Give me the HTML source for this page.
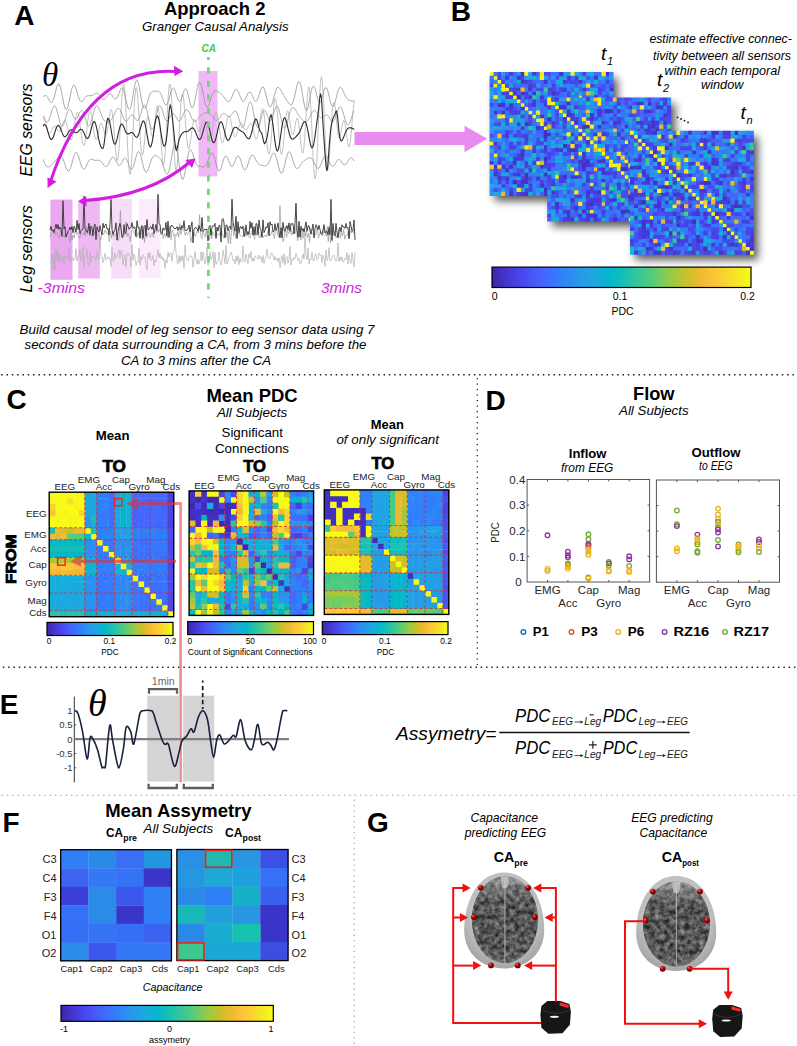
<!DOCTYPE html>
<html><head><meta charset="utf-8"><title>Figure</title>
<style>html,body{margin:0;padding:0;background:#fff;} svg{display:block;} text{font-family:"Liberation Sans", sans-serif;}</style>
</head><body>
<svg width="797" height="1046" viewBox="0 0 797 1046" font-family='"Liberation Sans", sans-serif'><rect width="797" height="1046" fill="#fff"/><text x="14.2" y="24.5" font-size="28" font-weight="bold" fill="#000">A</text><text x="164" y="14.5" font-size="18.5" font-weight="bold" fill="#000" textLength="101.5" lengthAdjust="spacingAndGlyphs">Approach 2</text><text x="142" y="30.8" font-size="13.3" font-style="italic" fill="#000" textLength="146.6" lengthAdjust="spacingAndGlyphs">Granger Causal Analysis</text><text x="201.5" y="51.5" font-size="10" font-weight="bold" font-style="italic" fill="#3ccf3c" textLength="14.5" lengthAdjust="spacingAndGlyphs">CA</text><rect x="198.5" y="71" width="19" height="105.5" fill="#f0b8f6"/><rect x="50.4" y="199.6" width="22.1" height="80.2" fill="#e9a8f0"/><rect x="78.2" y="201" width="21.6" height="77.5" fill="#eeb9f3"/><rect x="111.3" y="199" width="20.7" height="79.5" fill="#f8ddf9"/><rect x="138.8" y="199" width="21.7" height="79" fill="#fcebfc"/><polyline points="43.0,116.2 43.8,115.9 44.6,117.5 45.4,120.5 46.2,124.2 47.0,127.9 47.8,131.0 48.6,133.0 49.4,133.7 50.2,133.2 51.0,131.8 51.8,129.9 52.6,128.1 53.4,126.7 54.2,126.1 55.0,126.2 55.8,127.1 56.6,128.5 57.4,130.0 58.2,131.1 59.0,131.6 59.8,131.2 60.6,129.9 61.4,127.8 62.2,125.4 63.0,123.0 63.8,121.1 64.6,120.3 65.4,120.7 66.2,122.4 67.0,125.4 67.8,129.1 68.6,133.1 69.4,136.6 70.2,139.1 71.0,140.0 71.8,139.1 72.6,136.3 73.4,131.9 74.2,126.7 75.0,121.3 75.8,116.6 76.6,113.4 77.4,112.4 78.2,113.6 79.0,117.2 79.8,122.5 80.6,128.9 81.4,135.4 82.2,140.8 83.0,144.5 83.8,145.7 84.6,144.1 85.4,140.2 86.2,134.4 87.0,127.6 87.8,121.0 88.6,115.6 89.4,112.3 90.2,111.5 91.0,113.2 91.8,117.2 92.6,122.6 93.4,128.5 94.2,133.7 95.0,137.6 95.8,139.4 96.6,139.1 97.4,136.8 98.2,133.2 99.0,129.3 99.8,125.8 100.6,123.6 101.4,123.0 102.2,124.3 103.0,126.9 103.8,130.1 104.6,133.0 105.4,134.7 106.2,134.5 107.0,132.1 107.8,127.7 108.6,122.1 109.4,116.3 110.2,111.7 111.0,109.3 111.8,110.2 112.6,114.7 113.4,122.4 114.2,132.4 115.0,143.0 115.8,152.4 116.6,158.8 117.4,160.8 118.2,157.6 119.0,149.2 119.8,136.6 120.6,121.8 121.4,106.8 122.2,94.3 123.0,86.4 123.8,84.6 124.6,89.5 125.4,100.4 126.2,116.0 127.0,133.7 127.8,150.9 128.6,164.7 129.4,173.1 130.2,174.6 131.0,169.1 131.8,157.4 132.6,141.6 133.4,124.1 134.2,107.8 135.0,95.2 135.8,88.1 136.6,87.4 137.4,93.0 138.2,103.4 139.0,116.8 139.8,130.8 140.6,142.9 141.4,151.4 142.2,155.1 143.0,154.0 143.8,148.6 144.6,140.6 145.4,131.8 146.2,123.9 147.0,118.6 147.8,116.5 148.6,117.8 149.4,121.8 150.2,127.2 151.0,132.3 151.8,135.8 152.6,136.4 153.4,133.9 154.2,128.6 155.0,121.5 155.8,114.2 156.6,108.4 157.4,105.7 158.2,107.2 159.0,113.1 159.8,122.7 160.6,134.7 161.4,146.9 162.2,157.2 163.0,163.6 163.8,164.6 164.6,159.6 165.4,149.2 166.2,134.8 167.0,118.6 167.8,103.2 168.6,91.1 169.4,84.4 170.2,84.3 171.0,90.9 171.8,103.2 172.6,119.2 173.4,136.5 174.2,152.3 175.0,164.2 175.8,170.4 176.6,170.1 177.4,163.5 178.2,151.9 179.0,137.3 179.8,122.1 180.6,108.6 181.4,99.0 182.2,94.3 183.0,95.0 183.8,100.6 184.6,109.7 185.4,120.7 186.2,131.6 187.0,140.7 187.8,146.7 188.6,149.0 189.4,147.7 190.2,143.4 191.0,137.3 191.8,130.8 192.6,125.1 193.4,121.1 194.2,119.3 195.0,119.8 195.8,122.0 196.6,125.2 197.4,128.4 198.2,130.8 199.0,131.8 199.8,131.2 200.6,129.1 201.4,126.1 202.2,123.0 203.0,120.5 203.8,119.4 204.6,120.0 205.4,122.5 206.2,126.4 207.0,131.1 207.8,135.8 208.6,139.6 209.4,141.7 210.2,141.7 211.0,139.4 211.8,135.1 212.6,129.6 213.4,123.6 214.2,118.1 215.0,114.1 215.8,112.2 216.6,112.7 217.4,115.5 218.2,120.2 219.0,126.0 219.8,132.0 220.6,137.3 221.4,141.2 222.2,142.9 223.0,142.4 223.8,139.8 224.6,135.5 225.4,130.3 226.2,125.0 227.0,120.4 227.8,117.2 228.6,115.7 229.4,116.1 230.2,118.3 231.0,121.7 231.8,125.9 232.6,130.0 233.4,133.5 234.2,135.9 235.0,136.9 235.8,136.4 236.6,134.6 237.4,132.1 238.2,129.2 239.0,126.4 239.8,124.4 240.6,123.3 241.4,123.2 242.2,124.1 243.0,125.6 243.8,127.4 244.6,128.9 245.4,129.9 246.2,130.0 247.0,129.3 247.8,127.9 248.6,126.1 249.4,124.5 250.2,123.5 251.0,123.5 251.8,124.7 252.6,127.1 253.4,130.3 254.2,133.8 255.0,136.9 255.8,139.0 256.6,139.3 257.4,137.6 258.2,134.0 259.0,128.7 259.8,122.5 260.6,116.4 261.4,111.5 262.2,108.8 263.0,109.0 263.8,112.3 264.6,118.4 265.4,126.6 266.2,135.7 267.0,144.2 267.8,150.8 268.6,154.1 269.4,153.6 270.2,149.1 271.0,141.1 271.8,130.8 272.6,119.8 273.4,109.8 274.2,102.3 275.0,98.7 275.8,99.6 276.6,104.7 277.4,113.4 278.2,124.2 279.0,135.3 279.8,144.9 280.6,151.7 281.4,154.5 282.2,153.0 283.0,147.8 283.8,139.9 284.6,130.8 285.4,122.1 286.2,115.3 287.0,111.4 287.8,110.9 288.6,113.4 289.4,118.3 290.2,124.1 291.0,129.6 291.8,133.5 292.6,135.1 293.4,134.0 294.2,130.8 295.0,126.3 295.8,121.8 296.6,118.8 297.4,118.2 298.2,120.6 299.0,125.8 299.8,133.2 300.6,141.3 301.4,148.3 302.2,152.6 303.0,152.9 303.8,148.6 304.6,139.7 305.4,127.6 306.2,113.9 307.0,101.1 307.8,91.5 308.6,86.9 309.4,88.8 310.2,97.0 311.0,110.9 311.8,128.2 312.6,146.5 313.4,162.7 314.2,174.2 315.0,178.9 315.8,175.8 316.6,165.5 317.4,149.2 318.2,129.6 319.0,109.8 319.8,92.7 320.6,81.2 321.4,76.9 322.2,80.3 323.0,90.8 323.8,106.5 324.6,124.8 325.4,142.7 326.2,157.4 327.0,166.8 327.8,169.7 328.6,166.2 329.4,157.1 330.2,144.5 331.0,130.6 331.8,117.8 332.6,108.2 333.4,103.0 334.2,102.6 335.0,106.5 335.8,113.4 336.6,121.6 337.4,129.3 338.2,135.1 339.0,137.9 339.8,137.6 340.6,134.6 341.4,130.1 342.2,125.3 343.0,121.7 343.8,120.3 344.6,121.7 345.4,125.6 346.2,131.5 347.0,137.9 347.8,143.3 348.6,146.6 349.4,146.5 350.2,142.8 351.0,135.8 351.8,126.5 352.6,116.4 353.4,107.4 354.2,101.1" fill="none" stroke="#a8a8a8" stroke-width="0.7"/><polyline points="43.0,96.8 43.8,96.2 44.6,95.7 45.4,95.5 46.2,95.8 47.0,96.5 47.8,97.7 48.6,99.2 49.4,100.7 50.2,101.9 51.0,102.6 51.8,102.5 52.6,101.5 53.4,99.7 54.2,97.1 55.0,93.9 55.8,90.7 56.6,87.6 57.4,85.3 58.2,84.0 59.0,83.9 59.8,85.1 60.6,87.7 61.4,91.2 62.2,95.3 63.0,99.7 63.8,103.7 64.6,106.9 65.4,109.0 66.2,109.7 67.0,109.0 67.8,106.9 68.6,103.8 69.4,100.0 70.2,95.9 71.0,92.0 71.8,88.8 72.6,86.5 73.4,85.3 74.2,85.3 75.0,86.4 75.8,88.3 76.6,90.8 77.4,93.6 78.2,96.3 79.0,98.6 79.8,100.3 80.6,101.3 81.4,101.6 82.2,101.3 83.0,100.6 83.8,99.5 84.6,98.4 85.4,97.4 86.2,96.5 87.0,96.0 87.8,95.7 88.6,95.6 89.4,95.6 90.2,95.7 91.0,95.7 91.8,95.5 92.6,95.2 93.4,94.8 94.2,94.2 95.0,93.7 95.8,93.3 96.6,93.1 97.4,93.2 98.2,93.7 99.0,94.5 99.8,95.5 100.6,96.6 101.4,97.7 102.2,98.6 103.0,99.2 103.8,99.3 104.6,99.1 105.4,98.5 106.2,97.6 107.0,96.5 107.8,95.5 108.6,94.6 109.4,94.2 110.2,94.1 111.0,94.5 111.8,95.3 112.6,96.4 113.4,97.5 114.2,98.4 115.0,98.9 115.8,99.0 116.6,98.3 117.4,97.0 118.2,95.3 119.0,93.2 119.8,91.1 120.6,89.3 121.4,88.2 122.2,87.9 123.0,88.8 123.8,90.6 124.6,93.4 125.4,96.9 126.2,100.7 127.0,104.2 127.8,107.2 128.6,109.0 129.4,109.6 130.2,108.6 131.0,106.2 131.8,102.5 132.6,98.0 133.4,93.1 134.2,88.4 135.0,84.4 135.8,81.7 136.6,80.4 137.4,80.7 138.2,82.6 139.0,85.8 139.8,89.9 140.6,94.5 141.4,99.0 142.2,103.0 143.0,106.0 143.8,107.8 144.6,108.3 145.4,107.7 146.2,106.1 147.0,103.7 147.8,101.1 148.6,98.4 149.4,96.0 150.2,94.0 151.0,92.6 151.8,91.7 152.6,91.3 153.4,91.2 154.2,91.2 155.0,91.2 155.8,91.2 156.6,91.1 157.4,91.0 158.2,91.1 159.0,91.5 159.8,92.3 160.6,93.5 161.4,95.2 162.2,97.3 163.0,99.5 163.8,101.7 164.6,103.5 165.4,104.7 166.2,105.1 167.0,104.5 167.8,102.9 168.6,100.6 169.4,97.8 170.2,94.7 171.0,91.9 171.8,89.7 172.6,88.3 173.4,88.0 174.2,88.7 175.0,90.4 175.8,92.7 176.6,95.4 177.4,97.9 178.2,100.0 179.0,101.2 179.8,101.3 180.6,100.5 181.4,98.7 182.2,96.4 183.0,93.8 183.8,91.4 184.6,89.6 185.4,88.8 186.2,89.2 187.0,90.8 187.8,93.4 188.6,96.7 189.4,100.2 190.2,103.5 191.0,106.1 191.8,107.6 192.6,107.7 193.4,106.4 194.2,103.7 195.0,100.0 195.8,95.7 196.6,91.3 197.4,87.4 198.2,84.4 199.0,82.6 199.8,82.3 200.6,83.4 201.4,85.9 202.2,89.3 203.0,93.3 203.8,97.4 204.6,101.1 205.4,104.2 206.2,106.2 207.0,107.0 207.8,106.8 208.6,105.6 209.4,103.6 210.2,101.1 211.0,98.5 211.8,96.0 212.6,93.9 213.4,92.2 214.2,91.2 215.0,90.6 215.8,90.5 216.6,90.8 217.4,91.3 218.2,91.8 219.0,92.5 219.8,93.1 220.6,93.7 221.4,94.3 222.2,95.1 223.0,95.9 223.8,96.9 224.6,98.0 225.4,99.1 226.2,100.2 227.0,101.1 227.8,101.6 228.6,101.8 229.4,101.4 230.2,100.4 231.0,99.0 231.8,97.2 232.6,95.2 233.4,93.1 234.2,91.4 235.0,90.1 235.8,89.4 236.6,89.4 237.4,90.1 238.2,91.5 239.0,93.4 239.8,95.5 240.6,97.6 241.4,99.4 242.2,100.7 243.0,101.3 243.8,101.2 244.6,100.4 245.4,99.0 246.2,97.3 247.0,95.4 247.8,93.8 248.6,92.6 249.4,92.0 250.2,92.2 251.0,93.1 251.8,94.5 252.6,96.3 253.4,98.3 254.2,99.9 255.0,101.1 255.8,101.6 256.6,101.2 257.4,99.9 258.2,97.9 259.0,95.4 259.8,92.8 260.6,90.2 261.4,88.3 262.2,87.1 263.0,86.9 263.8,87.9 264.6,89.9 265.4,92.6 266.2,95.9 267.0,99.3 267.8,102.5 268.6,104.9 269.4,106.5 270.2,107.0 271.0,106.3 271.8,104.7 272.6,102.2 273.4,99.2 274.2,96.0 275.0,93.1 275.8,90.5 276.6,88.7 277.4,87.6 278.2,87.3 279.0,87.7 279.8,88.6 280.6,89.8 281.4,91.3 282.2,92.8 283.0,94.2 283.8,95.6 284.6,96.8 285.4,98.0 286.2,99.2 287.0,100.5 287.8,101.8 288.6,103.1 289.4,104.2 290.2,104.9 291.0,105.1 291.8,104.5 292.6,103.1 293.4,100.9 294.2,97.9 295.0,94.4 295.8,90.6 296.6,87.1 297.4,84.1 298.2,82.1 299.0,81.5 299.8,82.3 300.6,84.6 301.4,88.1 302.2,92.6 303.0,97.5 303.8,102.2 304.6,106.3 305.4,109.1 306.2,110.5 307.0,110.1 307.8,108.2 308.6,105.0 309.4,100.9 310.2,96.4 311.0,92.2 311.8,88.8 312.6,86.6 313.4,85.9 314.2,86.6 315.0,88.5 315.8,91.4 316.6,94.7 317.4,98.0 318.2,100.6 319.0,102.3 319.8,102.8 320.6,102.0 321.4,100.1 322.2,97.4 323.0,94.4 323.8,91.5 324.6,89.2 325.4,87.8 326.2,87.7 327.0,88.8 327.8,90.9 328.6,93.9 329.4,97.4 330.2,100.8 331.0,103.7 331.8,105.7 332.6,106.6 333.4,106.3 334.2,104.9 335.0,102.5 335.8,99.4 336.6,96.2 337.4,93.0 338.2,90.4 339.0,88.4 339.8,87.4 340.6,87.2 341.4,87.8 342.2,89.1 343.0,90.7 343.8,92.6 344.6,94.4 345.4,96.1 346.2,97.4 347.0,98.5 347.8,99.2 348.6,99.8 349.4,100.2 350.2,100.5 351.0,100.8 351.8,101.1 352.6,101.2 353.4,101.0 354.2,100.6" fill="none" stroke="#8c8c8c" stroke-width="0.75"/><polyline points="43.0,117.0 43.8,118.5 44.6,120.0 45.4,121.3 46.2,122.1 47.0,122.3 47.8,121.8 48.6,120.6 49.4,118.7 50.2,116.3 51.0,113.6 51.8,110.9 52.6,108.6 53.4,106.9 54.2,106.0 55.0,106.1 55.8,107.3 56.6,109.4 57.4,112.2 58.2,115.5 59.0,118.8 59.8,121.8 60.6,124.3 61.4,125.8 62.2,126.3 63.0,125.7 63.8,124.2 64.6,121.8 65.4,119.0 66.2,116.1 67.0,113.4 67.8,111.2 68.6,109.8 69.4,109.3 70.2,109.7 71.0,110.9 71.8,112.6 72.6,114.6 73.4,116.5 74.2,118.0 75.0,119.0 75.8,119.2 76.6,118.6 77.4,117.4 78.2,115.8 79.0,113.9 79.8,112.2 80.6,110.9 81.4,110.3 82.2,110.5 83.0,111.5 83.8,113.4 84.6,115.8 85.4,118.6 86.2,121.3 87.0,123.6 87.8,125.3 88.6,126.1 89.4,125.8 90.2,124.6 91.0,122.5 91.8,119.7 92.6,116.5 93.4,113.3 94.2,110.4 95.0,108.1 95.8,106.5 96.6,105.8 97.4,106.0 98.2,107.0 99.0,108.6 99.8,110.6 100.6,112.8 101.4,115.0 102.2,117.0 103.0,118.7 103.8,120.1 104.6,121.0 105.4,121.7 106.2,122.0 107.0,122.2 107.8,122.1 108.6,121.9 109.4,121.5 110.2,120.9 111.0,120.1 111.8,119.1 112.6,117.7 113.4,116.2 114.2,114.5 115.0,112.7 115.8,111.0 116.6,109.6 117.4,108.7 118.2,108.3 119.0,108.5 119.8,109.3 120.6,110.8 121.4,112.7 122.2,114.8 123.0,116.9 123.8,118.8 124.6,120.2 125.4,121.0 126.2,121.3 127.0,120.8 127.8,119.9 128.6,118.6 129.4,117.3 130.2,116.1 131.0,115.2 131.8,114.8 132.6,115.0 133.4,115.8 134.2,116.9 135.0,118.2 135.8,119.4 136.6,120.3 137.4,120.7 138.2,120.3 139.0,119.1 139.8,117.2 140.6,114.7 141.4,111.9 142.2,109.3 143.0,107.0 143.8,105.5 144.6,105.0 145.4,105.7 146.2,107.5 147.0,110.4 147.8,114.0 148.6,117.9 149.4,121.8 150.2,125.2 151.0,127.7 151.8,129.0 152.6,129.1 153.4,127.8 154.2,125.3 155.0,122.0 155.8,118.2 156.6,114.4 157.4,110.9 158.2,108.2 159.0,106.4 159.8,105.8 160.6,106.3 161.4,107.8 162.2,110.0 163.0,112.6 163.8,115.3 164.6,117.7 165.4,119.5 166.2,120.6 167.0,120.9 167.8,120.5 168.6,119.4 169.4,118.0 170.2,116.4 171.0,115.0 171.8,113.9 172.6,113.4 173.4,113.5 174.2,114.2 175.0,115.3 175.8,116.7 176.6,118.2 177.4,119.5 178.2,120.5 179.0,120.9 179.8,120.7 180.6,119.9 181.4,118.6 182.2,116.8 183.0,114.9 183.8,113.0 184.6,111.3 185.4,110.1 186.2,109.5 187.0,109.5 187.8,110.1 188.6,111.2 189.4,112.8 190.2,114.6 191.0,116.5 191.8,118.2 192.6,119.6 193.4,120.6 194.2,121.2 195.0,121.4 195.8,121.1 196.6,120.4 197.4,119.6 198.2,118.6 199.0,117.5 199.8,116.6 200.6,115.7 201.4,114.9 202.2,114.3 203.0,113.8 203.8,113.4 204.6,113.1 205.4,112.8 206.2,112.7 207.0,112.6 207.8,112.7 208.6,112.9 209.4,113.3 210.2,114.0 211.0,114.8 211.8,115.8 212.6,116.9 213.4,118.0 214.2,119.0 215.0,119.8 215.8,120.3 216.6,120.4 217.4,120.2 218.2,119.5 219.0,118.6 219.8,117.5 220.6,116.3 221.4,115.1 222.2,114.2 223.0,113.7 223.8,113.5 224.6,113.7 225.4,114.2 226.2,114.9 227.0,115.6 227.8,116.3 228.6,116.7 229.4,116.7 230.2,116.3 231.0,115.5 231.8,114.4 232.6,113.2 233.4,112.1 234.2,111.2 235.0,110.8 235.8,111.1 236.6,112.2 237.4,114.0 238.2,116.4 239.0,119.1 239.8,122.0 240.6,124.5 241.4,126.4 242.2,127.4 243.0,127.2 243.8,125.8 244.6,123.3 245.4,119.8 246.2,115.8 247.0,111.6 247.8,107.6 248.6,104.5 249.4,102.4 250.2,101.7 251.0,102.4 251.8,104.5 252.6,107.8 253.4,111.8 254.2,116.1 255.0,120.3 255.8,123.7 256.6,126.2 257.4,127.4 258.2,127.2 259.0,125.9 259.8,123.5 260.6,120.5 261.4,117.3 262.2,114.4 263.0,112.1 263.8,110.7 264.6,110.4 265.4,111.0 266.2,112.5 267.0,114.6 267.8,116.8 268.6,118.8 269.4,120.2 270.2,120.9 271.0,120.5 271.8,119.2 272.6,117.1 273.4,114.5 274.2,111.7 275.0,109.1 275.8,107.2 276.6,106.2 277.4,106.3 278.2,107.6 279.0,109.9 279.8,112.9 280.6,116.5 281.4,120.1 282.2,123.4 283.0,126.0 283.8,127.6 284.6,128.1 285.4,127.5 286.2,125.9 287.0,123.4 287.8,120.4 288.6,117.2 289.4,114.1 290.2,111.5 291.0,109.4 291.8,108.0 292.6,107.4 293.4,107.5 294.2,108.1 295.0,109.2 295.8,110.5 296.6,111.9 297.4,113.3 298.2,114.6 299.0,115.8 299.8,116.9 300.6,117.9 301.4,118.8 302.2,119.6 303.0,120.3 303.8,121.0 304.6,121.5 305.4,121.7 306.2,121.7 307.0,121.3 307.8,120.5 308.6,119.3 309.4,117.8 310.2,116.2 311.0,114.5 311.8,112.9 312.6,111.7 313.4,110.8 314.2,110.5 315.0,110.7 315.8,111.3 316.6,112.4 317.4,113.7 318.2,115.0 319.0,116.2 319.8,117.1 320.6,117.7 321.4,117.8 322.2,117.5 323.0,116.9 323.8,116.2 324.6,115.5 325.4,115.0 326.2,114.8 327.0,115.0 327.8,115.7 328.6,116.8 329.4,118.1 330.2,119.5 331.0,120.7 331.8,121.6 332.6,122.0 333.4,121.6 334.2,120.6 335.0,118.9 335.8,116.6 336.6,114.1 337.4,111.6 338.2,109.4 339.0,107.7 339.8,106.8 340.6,106.8 341.4,107.7 342.2,109.5 343.0,112.0 343.8,114.8 344.6,117.8 345.4,120.6 346.2,122.9 347.0,124.4 347.8,125.1 348.6,124.7 349.4,123.6 350.2,121.7 351.0,119.3 351.8,116.8 352.6,114.4 353.4,112.4 354.2,111.0" fill="none" stroke="#939393" stroke-width="0.75"/><polyline points="43.0,159.4 43.8,161.4 44.6,163.3 45.4,164.9 46.2,166.0 47.0,166.7 47.8,167.0 48.6,167.0 49.4,166.6 50.2,166.1 51.0,165.4 51.8,164.7 52.6,164.0 53.4,163.2 54.2,162.4 55.0,161.5 55.8,160.5 56.6,159.4 57.4,158.3 58.2,157.3 59.0,156.5 59.8,155.9 60.6,155.9 61.4,156.3 62.2,157.4 63.0,159.0 63.8,161.0 64.6,163.4 65.4,165.8 66.2,168.1 67.0,169.8 67.8,170.9 68.6,171.2 69.4,170.5 70.2,168.9 71.0,166.5 71.8,163.7 72.6,160.6 73.4,157.7 74.2,155.1 75.0,153.3 75.8,152.4 76.6,152.5 77.4,153.6 78.2,155.5 79.0,158.0 79.8,160.8 80.6,163.5 81.4,166.0 82.2,167.8 83.0,168.9 83.8,169.2 84.6,168.8 85.4,167.7 86.2,166.2 87.0,164.5 87.8,162.8 88.6,161.3 89.4,160.2 90.2,159.5 91.0,159.2 91.8,159.2 92.6,159.5 93.4,159.8 94.2,160.2 95.0,160.4 95.8,160.5 96.6,160.4 97.4,160.3 98.2,160.2 99.0,160.3 99.8,160.5 100.6,161.0 101.4,161.9 102.2,162.9 103.0,164.0 103.8,165.1 104.6,166.0 105.4,166.6 106.2,166.7 107.0,166.2 107.8,165.2 108.6,163.8 109.4,162.1 110.2,160.4 111.0,158.9 111.8,157.7 112.6,157.1 113.4,157.2 114.2,157.9 115.0,159.1 115.8,160.7 116.6,162.3 117.4,163.8 118.2,164.9 119.0,165.4 119.8,165.3 120.6,164.6 121.4,163.3 122.2,161.8 123.0,160.3 123.8,159.0 124.6,158.2 125.4,158.1 126.2,158.8 127.0,160.2 127.8,162.1 128.6,164.3 129.4,166.4 130.2,168.1 131.0,169.2 131.8,169.3 132.6,168.4 133.4,166.6 134.2,164.0 135.0,160.9 135.8,157.8 136.6,154.9 137.4,152.8 138.2,151.7 139.0,151.7 139.8,152.8 140.6,155.0 141.4,158.0 142.2,161.5 143.0,164.9 143.8,168.0 144.6,170.4 145.4,171.9 146.2,172.4 147.0,171.8 147.8,170.3 148.6,168.2 149.4,165.8 150.2,163.2 151.0,160.8 151.8,158.8 152.6,157.3 153.4,156.3 154.2,155.7 155.0,155.5 155.8,155.6 156.6,155.9 157.4,156.2 158.2,156.7 159.0,157.3 159.8,158.2 160.6,159.3 161.4,160.8 162.2,162.7 163.0,165.0 163.8,167.4 164.6,169.9 165.4,172.0 166.2,173.6 167.0,174.3 167.8,173.8 168.6,172.1 169.4,169.2 170.2,165.3 171.0,160.7 171.8,155.9 172.6,151.4 173.4,147.7 174.2,145.3 175.0,144.5 175.8,145.5 176.6,148.2 177.4,152.4 178.2,157.6 179.0,163.3 179.8,168.9 180.6,173.7 181.4,177.3 182.2,179.2 183.0,179.4 183.8,177.7 184.6,174.6 185.4,170.4 186.2,165.6 187.0,160.8 187.8,156.5 188.6,153.0 189.4,150.8 190.2,149.8 191.0,150.1 191.8,151.5 192.6,153.5 193.4,156.0 194.2,158.6 195.0,161.0 195.8,163.0 196.6,164.5 197.4,165.5 198.2,166.1 199.0,166.3 199.8,166.5 200.6,166.6 201.4,166.7 202.2,166.9 203.0,167.0 203.8,167.0 204.6,166.7 205.4,165.9 206.2,164.7 207.0,163.1 207.8,161.0 208.6,158.8 209.4,156.5 210.2,154.7 211.0,153.4 211.8,152.9 212.6,153.4 213.4,154.8 214.2,157.1 215.0,159.9 215.8,163.1 216.6,166.0 217.4,168.5 218.2,170.2 219.0,170.9 219.8,170.5 220.6,169.1 221.4,166.9 222.2,164.2 223.0,161.4 223.8,158.9 224.6,157.1 225.4,156.1 226.2,156.0 227.0,156.9 227.8,158.5 228.6,160.5 229.4,162.7 230.2,164.6 231.0,165.9 231.8,166.5 232.6,166.2 233.4,165.0 234.2,163.3 235.0,161.1 235.8,159.0 236.6,157.2 237.4,156.1 238.2,155.8 239.0,156.4 239.8,157.9 240.6,160.0 241.4,162.6 242.2,165.2 243.0,167.5 243.8,169.2 244.6,170.0 245.4,169.9 246.2,168.9 247.0,167.1 247.8,164.8 248.6,162.2 249.4,159.7 250.2,157.5 251.0,155.9 251.8,155.1 252.6,155.0 253.4,155.6 254.2,156.7 255.0,158.1 255.8,159.7 256.6,161.3 257.4,162.6 258.2,163.6 259.0,164.4 259.8,164.8 260.6,165.1 261.4,165.3 262.2,165.4 263.0,165.6 263.8,165.8 264.6,165.9 265.4,166.0 266.2,165.8 267.0,165.3 267.8,164.3 268.6,163.0 269.4,161.2 270.2,159.2 271.0,157.2 271.8,155.3 272.6,153.9 273.4,153.1 274.2,153.2 275.0,154.2 275.8,156.1 276.6,158.7 277.4,161.9 278.2,165.2 279.0,168.3 279.8,170.9 280.6,172.7 281.4,173.4 282.2,172.9 283.0,171.3 283.8,168.7 284.6,165.5 285.4,162.0 286.2,158.5 287.0,155.5 287.8,153.3 288.6,152.0 289.4,151.7 290.2,152.5 291.0,154.1 291.8,156.4 292.6,159.1 293.4,161.8 294.2,164.2 295.0,166.3 295.8,167.7 296.6,168.4 297.4,168.5 298.2,168.1 299.0,167.2 299.8,166.1 300.6,164.9 301.4,163.7 302.2,162.7 303.0,161.8 303.8,161.0 304.6,160.4 305.4,159.8 306.2,159.3 307.0,158.8 307.8,158.4 308.6,158.0 309.4,157.8 310.2,157.8 311.0,158.2 311.8,158.8 312.6,159.9 313.4,161.3 314.2,162.9 315.0,164.5 315.8,166.1 316.6,167.4 317.4,168.2 318.2,168.5 319.0,168.0 319.8,166.9 320.6,165.3 321.4,163.3 322.2,161.1 323.0,159.0 323.8,157.3 324.6,156.1 325.4,155.6 326.2,155.8 327.0,156.8 327.8,158.3 328.6,160.1 329.4,162.1 330.2,163.9 331.0,165.3 331.8,166.2 332.6,166.5 333.4,166.1 334.2,165.3 335.0,164.0 335.8,162.6 336.6,161.2 337.4,160.2 338.2,159.5 339.0,159.4 339.8,159.8 340.6,160.6 341.4,161.7 342.2,162.9 343.0,163.9 343.8,164.6 344.6,164.9 345.4,164.7 346.2,164.0 347.0,162.9 347.8,161.6 348.6,160.2 349.4,158.9 350.2,158.1 351.0,157.7 351.8,157.8 352.6,158.5 353.4,159.6 354.2,161.0" fill="none" stroke="#8c8c8c" stroke-width="0.75"/><polyline points="43.0,126.3 43.8,124.9 44.6,124.4 45.4,125.0 46.2,126.5 47.0,128.7 47.8,131.4 48.6,134.1 49.4,136.6 50.2,138.4 51.0,139.4 51.8,139.4 52.6,138.5 53.4,136.7 54.2,134.3 55.0,131.7 55.8,129.2 56.6,127.2 57.4,125.9 58.2,125.4 59.0,125.8 59.8,126.9 60.6,128.7 61.4,130.8 62.2,132.9 63.0,134.7 63.8,136.1 64.6,136.7 65.4,136.7 66.2,136.0 67.0,134.9 67.8,133.5 68.6,132.1 69.4,130.9 70.2,130.1 71.0,129.7 71.8,129.8 72.6,130.3 73.4,131.0 74.2,131.8 75.0,132.4 75.8,132.7 76.6,132.6 77.4,132.2 78.2,131.4 79.0,130.6 79.8,129.8 80.6,129.3 81.4,129.3 82.2,129.8 83.0,131.0 83.8,132.6 84.6,134.4 85.4,136.2 86.2,137.7 87.0,138.5 87.8,138.5 88.6,137.5 89.4,135.5 90.2,132.8 91.0,129.6 91.8,126.5 92.6,123.8 93.4,122.1 94.2,121.5 95.0,122.3 95.8,124.6 96.6,127.9 97.4,132.0 98.2,136.4 99.0,140.4 99.8,143.6 100.6,146.0 101.4,147.6 102.2,148.5 103.0,148.3 103.8,145.8 104.6,140.2 105.4,132.8 106.2,125.7 107.0,120.7 107.8,118.5 108.6,118.7 109.4,120.9 110.2,124.5 111.0,129.0 111.8,133.8 112.6,138.2 113.4,141.6 114.2,143.7 115.0,144.3 115.8,143.2 116.6,140.9 117.4,137.6 118.2,133.9 119.0,130.3 119.8,127.2 120.6,125.1 121.4,124.1 122.2,124.2 123.0,125.3 123.8,127.0 124.6,129.0 125.4,131.0 126.2,132.6 127.0,133.6 127.8,134.0 128.6,133.9 129.4,133.5 130.2,132.9 131.0,132.5 131.8,132.5 132.6,132.9 133.4,133.7 134.2,134.8 135.0,136.0 135.8,136.9 136.6,137.3 137.4,136.9 138.2,135.6 139.0,133.4 139.8,130.6 140.6,127.6 141.4,124.6 142.2,122.3 143.0,121.0 143.8,121.1 144.6,122.7 145.4,125.6 146.2,129.6 147.0,134.3 147.8,138.9 148.6,143.0 149.4,145.8 150.2,146.9 151.0,146.2 151.8,143.7 152.6,139.6 153.4,134.4 154.2,128.9 155.0,123.6 155.8,119.4 156.6,116.8 157.4,116.0 158.2,117.3 159.0,120.3 159.8,124.8 160.6,130.0 161.4,135.4 162.2,140.2 163.0,143.9 163.8,145.9 164.6,146.1 165.4,144.5 166.2,140.9 167.0,135.0 167.8,126.8 168.6,117.2 169.4,108.8 170.2,105.1 171.0,107.2 171.8,113.0 172.6,120.0 173.4,127.5 174.2,135.6 175.0,143.7 175.8,149.2 176.6,150.3 177.4,147.5 178.2,143.3 179.0,139.8 179.8,137.4 180.6,135.8 181.4,134.5 182.2,133.4 183.0,132.6 183.8,132.1 184.6,131.8 185.4,131.7 186.2,131.6 187.0,131.5 187.8,131.2 188.6,130.7 189.4,130.0 190.2,129.2 191.0,128.5 191.8,128.0 192.6,127.9 193.4,128.3 194.2,129.2 195.0,130.7 195.8,132.7 196.6,134.7 197.4,136.8 198.2,138.4 199.0,139.4 199.8,139.5 200.6,138.7 201.4,137.0 202.2,134.6 203.0,131.6 203.8,128.6 204.6,125.8 205.4,123.6 206.2,122.4 207.0,122.4 207.8,123.5 208.6,125.7 209.4,128.8 210.2,132.3 211.0,135.9 211.8,139.0 212.6,141.4 213.4,142.6 214.2,142.5 215.0,141.2 215.8,138.7 216.6,135.4 217.4,131.8 218.2,128.1 219.0,125.0 219.8,122.8 220.6,121.8 221.4,121.9 222.2,123.3 223.0,125.6 223.8,128.6 224.6,131.9 225.4,135.1 226.2,137.7 227.0,139.5 227.8,140.4 228.6,140.2 229.4,139.1 230.2,137.4 231.0,135.2 231.8,132.9 232.6,130.8 233.4,129.0 234.2,127.8 235.0,127.2 235.8,127.2 236.6,127.5 237.4,128.2 238.2,128.9 239.0,129.6 239.8,130.3 240.6,130.8 241.4,131.2 242.2,131.6 243.0,132.2 243.8,132.9 244.6,133.9 245.4,135.2 246.2,136.5 247.0,137.7 247.8,138.6 248.6,138.9 249.4,138.5 250.2,137.1 251.0,134.9 251.8,132.0 252.6,128.5 253.4,125.0 254.2,122.0 255.0,119.8 255.8,118.9 256.6,119.5 257.4,121.6 258.2,124.8 259.0,128.2 259.8,130.7 260.6,131.9 261.4,132.7 262.2,135.0 263.0,138.7 263.8,142.2 264.6,143.5 265.4,142.6 266.2,140.5 267.0,137.7 267.8,133.5 268.6,127.5 269.4,120.9 270.2,116.2 271.0,114.9 271.8,117.2 272.6,122.1 273.4,128.5 274.2,135.4 275.0,141.7 275.8,146.8 276.6,150.0 277.4,151.0 278.2,149.7 279.0,146.5 279.8,141.7 280.6,136.1 281.4,130.3 282.2,125.1 283.0,121.1 283.8,118.6 284.6,117.7 285.4,118.5 286.2,120.6 287.0,123.7 287.8,127.3 288.6,130.8 289.4,134.0 290.2,136.5 291.0,138.2 291.8,139.1 292.6,139.2 293.4,138.9 294.2,138.3 295.0,137.6 295.8,136.8 296.6,136.0 297.4,135.2 298.2,134.2 299.0,133.1 299.8,131.6 300.6,129.7 301.4,127.7 302.2,125.5 303.0,123.6 303.8,122.2 304.6,121.6 305.4,122.0 306.2,123.7 307.0,126.5 307.8,130.3 308.6,134.7 309.4,139.2 310.2,143.2 311.0,146.2 311.8,147.7 312.6,147.4 313.4,145.3 314.2,141.5 315.0,136.4 315.8,130.5 316.6,124.5 317.4,118.7 318.2,112.5 319.0,105.2 319.8,97.5 320.6,93.5 321.4,97.7 322.2,109.6 323.0,124.0 323.8,136.8 324.6,147.9 325.4,158.8 326.2,167.9 327.0,170.9 327.8,165.5 328.6,154.5 329.4,143.1 330.2,134.2 331.0,127.6 331.8,122.9 332.6,119.6 333.4,117.5 334.2,116.1 335.0,114.1 335.8,111.7 336.6,111.2 337.4,115.1 338.2,123.1 339.0,131.6 339.8,137.5 340.6,140.3 341.4,140.9 342.2,140.2 343.0,138.7 343.8,136.8 344.6,134.6 345.4,132.6 346.2,130.8 347.0,129.5 347.8,128.5 348.6,127.9 349.4,127.7 350.2,127.7 351.0,127.9 351.8,128.1 352.6,128.5 353.4,128.9 354.2,129.5" fill="none" stroke="#2a2a2a" stroke-width="1.1"/><polyline points="50.0,263.2 51.0,261.2 52.0,253.9 53.0,269.5 54.0,254.6 55.0,269.1 56.0,249.3 57.0,260.2 58.0,251.3 59.0,262.6 60.0,254.6 61.0,260.4 62.0,260.4 63.0,256.5 64.0,264.0 65.0,257.4 66.0,255.1 67.0,258.8 68.0,259.5 69.0,247.8 70.0,261.3 71.0,259.4 72.0,256.8 73.0,260.7 74.0,258.7 75.0,259.3 76.0,248.6 77.0,261.2 78.0,256.1 79.0,255.7 80.0,249.9 81.0,261.8 82.0,259.4 83.0,246.6 84.0,268.4 85.0,256.0 86.0,255.8 87.0,248.7 88.0,265.4 89.0,266.1 90.0,252.3 91.0,262.3 92.0,258.2 93.0,255.9 94.0,257.8 95.0,256.8 96.0,260.3 97.0,251.5 98.0,253.6 99.0,259.4 100.0,237.5 101.0,254.2 102.0,257.2 103.0,262.9 104.0,258.3 105.0,253.3 106.0,260.1 107.0,258.7 108.0,256.8 109.0,258.6 110.0,257.8 111.0,266.6 112.0,247.3 113.0,260.9 114.0,260.9 115.0,252.7 116.0,258.5 117.0,257.7 118.0,253.5 119.0,249.6 120.0,258.5 121.0,250.9 122.0,251.0 123.0,264.9 124.0,257.9 125.0,254.6 126.0,266.7 127.0,256.1 128.0,253.0 129.0,255.2 130.0,256.4 131.0,266.9 132.0,244.5 133.0,260.3 134.0,253.8 135.0,257.3 136.0,265.8 137.0,261.6 138.0,262.1 139.0,248.1 140.0,265.1 141.0,256.6 142.0,259.6 143.0,254.9 144.0,256.9 145.0,257.2 146.0,263.8 147.0,269.8 148.0,253.1 149.0,258.5 150.0,252.4 151.0,260.4 152.0,259.8 153.0,255.5 154.0,265.7 155.0,259.9 156.0,261.8 157.0,255.4 158.0,249.7 159.0,257.5 160.0,253.1 161.0,258.7 162.0,256.5 163.0,260.5 164.0,258.4 165.0,268.6 166.0,259.6 167.0,263.1 168.0,252.5 169.0,257.0 170.0,253.3 171.0,252.8 172.0,261.2 173.0,252.2 174.0,251.4 175.0,236.3 176.0,252.4 177.0,260.7 178.0,264.2 179.0,255.3 180.0,262.6 181.0,255.9 182.0,260.8 183.0,255.6 184.0,268.2 185.0,245.2 186.0,256.5 187.0,260.1 188.0,261.3 189.0,256.8 190.0,255.4 191.0,257.0 192.0,256.6 193.0,267.2 194.0,259.8 195.0,251.5 196.0,259.2 197.0,264.3 198.0,259.6 199.0,263.8 200.0,260.5 201.0,251.9 202.0,261.1 203.0,251.9 204.0,259.3 205.0,264.2 206.0,258.7 207.0,247.5 208.0,265.1 209.0,260.2 210.0,251.7 211.0,259.8 212.0,257.4 213.0,251.6 214.0,268.1 215.0,252.6 216.0,264.6 217.0,262.0 218.0,260.3 219.0,252.0 220.0,260.7 221.0,265.3 222.0,260.4 223.0,250.3 224.0,256.1 225.0,263.6 226.0,245.2 227.0,264.1 228.0,261.2 229.0,257.5 230.0,254.0 231.0,252.2 232.0,255.4 233.0,260.8 234.0,259.5 235.0,264.0 236.0,256.2 237.0,261.3 238.0,255.7 239.0,264.5 240.0,258.1 241.0,261.9 242.0,262.0 243.0,245.9 244.0,261.2 245.0,262.2 246.0,254.0 247.0,259.0 248.0,263.6 249.0,253.7 250.0,258.2 251.0,251.4 252.0,261.2 253.0,257.8 254.0,261.2 255.0,256.3 256.0,256.4 257.0,257.8 258.0,259.2 259.0,255.0 260.0,258.6 261.0,256.7 262.0,262.7 263.0,255.4 264.0,263.4 265.0,259.9 266.0,256.6 267.0,249.0 268.0,256.7 269.0,258.5 270.0,258.6 271.0,253.3 272.0,253.4 273.0,254.1 274.0,260.2 275.0,256.4 276.0,260.1 277.0,258.6 278.0,261.6 279.0,257.8 280.0,267.7 281.0,260.0 282.0,255.4 283.0,263.1 284.0,253.8 285.0,265.3 286.0,257.1 287.0,256.5 288.0,263.2 289.0,259.4 290.0,246.4 291.0,265.1 292.0,258.7 293.0,260.3 294.0,257.0 295.0,258.5 296.0,253.4 297.0,256.0 298.0,260.5 299.0,258.7 300.0,264.1 301.0,262.6 302.0,259.7 303.0,254.1 304.0,258.8 305.0,234.1 306.0,255.1 307.0,259.7 308.0,247.9 309.0,263.9 310.0,258.8 311.0,259.7 312.0,252.3 313.0,260.6 314.0,260.4 315.0,255.2 316.0,253.9 317.0,259.9 318.0,258.5 319.0,253.0 320.0,255.3 321.0,254.7 322.0,262.6 323.0,255.1 324.0,257.4 325.0,266.3 326.0,249.7 327.0,260.5 328.0,258.7 329.0,247.6 330.0,261.0 331.0,260.2 332.0,257.5 333.0,255.6 334.0,255.2 335.0,259.2 336.0,261.4 337.0,259.9 338.0,243.0 339.0,261.7 340.0,256.8 341.0,260.6 342.0,256.8 343.0,262.1 344.0,260.5 345.0,258.0 346.0,259.6 347.0,252.3 348.0,264.1 349.0,255.0 350.0,259.3 351.0,263.4 352.0,252.8 353.0,259.0 354.0,267.1 355.0,252.1" fill="none" stroke="#b0b0b0" stroke-width="0.7"/><polyline points="50.0,237.4 51.1,232.0 52.2,230.0 53.3,229.9 54.4,231.2 55.5,234.8 56.6,232.5 57.7,235.4 58.8,238.2 59.9,234.2 61.0,230.5 62.1,234.3 63.2,235.0 64.3,237.4 65.4,233.1 66.5,236.4 67.6,233.0 68.7,232.6 69.8,242.7 70.9,231.3 72.0,240.2 73.1,235.2 74.2,238.0 75.3,228.6 76.4,233.5 77.5,232.4 78.6,237.2 79.7,238.0 80.8,234.0 81.9,233.3 83.0,234.5 84.1,231.4 85.2,236.2 86.3,226.8 87.4,234.2 88.5,226.8 89.6,235.6 90.7,234.3 91.8,236.9 92.9,230.1 94.0,231.6 95.1,234.3 96.2,232.4 97.3,235.5 98.4,235.0 99.5,234.7 100.6,240.5 101.7,235.4 102.8,233.4 103.9,233.8 105.0,230.2 106.1,233.1 107.2,232.8 108.3,234.2 109.4,242.0 110.5,231.0 111.6,238.2 112.7,230.8 113.8,236.2 114.9,234.5 116.0,235.8 117.1,234.4 118.2,240.9 119.3,237.3 120.4,210.5 121.5,234.4 122.6,235.5 123.7,234.8 124.8,235.1 125.9,222.0 127.0,236.4 128.1,233.2 129.2,236.7 130.3,241.5 131.4,230.9 132.5,230.1 133.6,232.0 134.7,233.8 135.8,236.3 136.9,237.5 138.0,232.5 139.1,236.0 140.2,237.4 141.3,226.9 142.4,239.9 143.5,233.9 144.6,242.6 145.7,224.9 146.8,237.8 147.9,233.0 149.0,233.4 150.1,237.3 151.2,235.1 152.3,232.6 153.4,237.5 154.5,231.7 155.6,230.5 156.7,232.5 157.8,229.5 158.9,231.8 160.0,228.6 161.1,234.9 162.2,232.2 163.3,238.6 164.4,233.1 165.5,237.0 166.6,233.3 167.7,238.0 168.8,231.5 169.9,225.7 171.0,239.7 172.1,230.0 173.2,233.2 174.3,236.9 175.4,234.1 176.5,235.9 177.6,231.8 178.7,237.1 179.8,223.6 180.9,234.6 182.0,229.7 183.1,227.8 184.2,231.3 185.3,235.4 186.4,232.2 187.5,234.5 188.6,232.9 189.7,230.9 190.8,242.2 191.9,237.2 193.0,234.1 194.1,232.4 195.2,236.4 196.3,233.9 197.4,230.1 198.5,233.0 199.6,214.8 200.7,235.0 201.8,239.0 202.9,230.6 204.0,234.9 205.1,237.2 206.2,231.2 207.3,236.4 208.4,234.5 209.5,239.9 210.6,228.9 211.7,238.7 212.8,231.4 213.9,234.2 215.0,236.1 216.1,233.7 217.2,235.2 218.3,234.7 219.4,233.3 220.5,236.8 221.6,230.8 222.7,234.9 223.8,238.1 224.9,231.3 226.0,236.6 227.1,231.6 228.2,243.5 229.3,229.7 230.4,243.9 231.5,232.4 232.6,223.4 233.7,235.7 234.8,230.0 235.9,238.3 237.0,236.9 238.1,233.6 239.2,233.0 240.3,235.1 241.4,236.4 242.5,236.7 243.6,234.9 244.7,228.2 245.8,236.3 246.9,234.8 248.0,234.9 249.1,237.4 250.2,237.9 251.3,232.3 252.4,230.0 253.5,233.8 254.6,239.2 255.7,226.9 256.8,235.7 257.9,226.8 259.0,237.2 260.1,237.9 261.2,231.9 262.3,235.4 263.4,237.6 264.5,235.6 265.6,235.1 266.7,236.9 267.8,230.9 268.9,234.1 270.0,235.7 271.1,234.8 272.2,230.6 273.3,233.8 274.4,238.4 275.5,231.6 276.6,228.7 277.7,234.8 278.8,236.9 279.9,205.6 281.0,227.3 282.1,235.9 283.2,241.7 284.3,236.6 285.4,226.3 286.5,237.3 287.6,230.2 288.7,233.3 289.8,233.5 290.9,227.9 292.0,235.2 293.1,231.2 294.2,233.6 295.3,233.0 296.4,225.2 297.5,240.8 298.6,235.7 299.7,229.1 300.8,240.0 301.9,231.0 303.0,238.5 304.1,228.7 305.2,235.6 306.3,230.7 307.4,237.5 308.5,233.0 309.6,242.4 310.7,227.9 311.8,234.5 312.9,233.6 314.0,233.8 315.1,235.3 316.2,233.6 317.3,227.1 318.4,238.4 319.5,234.0 320.6,231.3 321.7,233.9 322.8,236.0 323.9,227.1 325.0,230.1 326.1,236.3 327.2,226.4 328.3,241.5 329.4,225.6 330.5,242.6 331.6,229.4 332.7,235.9 333.8,234.4 334.9,231.4 336.0,238.2 337.1,235.1 338.2,237.6 339.3,227.1 340.4,238.4 341.5,231.0 342.6,235.7 343.7,229.4 344.8,239.2 345.9,235.2 347.0,235.7 348.1,232.5 349.2,237.1 350.3,231.1 351.4,232.9 352.5,230.4 353.6,233.1 354.7,229.1" fill="none" stroke="#9a9a9a" stroke-width="0.7"/><polyline points="50.0,230.1 51.0,226.4 52.0,230.9 53.0,229.7 54.0,232.8 55.0,228.6 56.0,224.2 57.0,228.8 58.0,224.5 59.0,229.5 60.0,227.1 61.0,228.9 62.0,236.4 63.0,200.7 64.0,229.0 65.0,226.8 66.0,237.2 67.0,233.8 68.0,231.2 69.0,230.3 70.0,227.2 71.0,229.8 72.0,226.4 73.0,232.7 74.0,226.3 75.0,228.2 76.0,232.2 77.0,220.3 78.0,229.6 79.0,223.5 80.0,233.6 81.0,230.6 82.0,229.9 83.0,229.1 84.0,196.2 85.0,228.9 86.0,231.0 87.0,232.5 88.0,230.1 89.0,223.3 90.0,234.6 91.0,226.0 92.0,228.2 93.0,235.8 94.0,226.4 95.0,224.2 96.0,239.6 97.0,226.7 98.0,230.3 99.0,232.2 100.0,225.7 101.0,230.4 102.0,234.9 103.0,223.3 104.0,228.1 105.0,225.2 106.0,224.0 107.0,229.2 108.0,228.4 109.0,234.9 110.0,224.2 111.0,199.4 112.0,229.5 113.0,234.4 114.0,231.4 115.0,230.5 116.0,222.8 117.0,240.1 118.0,231.5 119.0,227.1 120.0,223.3 121.0,228.4 122.0,237.6 123.0,237.1 124.0,224.6 125.0,233.8 126.0,232.3 127.0,223.6 128.0,226.1 129.0,229.3 130.0,227.8 131.0,227.5 132.0,222.5 133.0,228.5 134.0,226.9 135.0,227.3 136.0,236.5 137.0,220.7 138.0,227.7 139.0,227.1 140.0,238.3 141.0,228.5 142.0,225.5 143.0,238.2 144.0,226.6 145.0,225.4 146.0,236.0 147.0,219.5 148.0,229.9 149.0,229.3 150.0,227.5 151.0,226.7 152.0,229.3 153.0,223.9 154.0,233.7 155.0,229.2 156.0,224.4 157.0,230.5 158.0,194.3 159.0,223.7 160.0,224.4 161.0,232.6 162.0,233.8 163.0,227.9 164.0,230.0 165.0,229.9 166.0,222.5 167.0,235.8 168.0,221.1 169.0,237.4 170.0,229.5 171.0,226.0 172.0,225.1 173.0,226.6 174.0,228.3 175.0,228.6 176.0,228.5 177.0,226.7 178.0,230.6 179.0,227.2 180.0,227.1 181.0,229.7 182.0,225.4 183.0,227.8 184.0,220.6 185.0,230.5 186.0,230.4 187.0,230.2 188.0,228.6 189.0,225.1 190.0,231.9 191.0,226.3 192.0,221.9 193.0,242.8 194.0,229.1 195.0,227.9 196.0,227.6 197.0,228.4 198.0,231.1 199.0,225.4 200.0,229.0 201.0,231.3 202.0,217.5 203.0,231.5 204.0,230.6 205.0,228.9 206.0,230.0 207.0,228.9 208.0,241.0 209.0,226.9 210.0,225.3 211.0,235.4 212.0,227.0 213.0,225.5 214.0,226.5 215.0,223.3 216.0,238.5 217.0,227.2 218.0,231.1 219.0,225.5 220.0,225.4 221.0,242.1 222.0,219.6 223.0,218.6 224.0,222.6 225.0,237.8 226.0,225.1 227.0,225.1 228.0,231.0 229.0,227.5 230.0,226.0 231.0,229.4 232.0,199.2 233.0,222.2 234.0,226.8 235.0,231.1 236.0,216.2 237.0,238.5 238.0,221.6 239.0,232.7 240.0,227.1 241.0,226.6 242.0,228.9 243.0,226.2 244.0,236.7 245.0,233.0 246.0,224.9 247.0,234.7 248.0,231.5 249.0,234.6 250.0,221.5 251.0,228.3 252.0,222.7 253.0,235.3 254.0,226.8 255.0,234.8 256.0,223.6 257.0,223.9 258.0,234.7 259.0,220.1 260.0,227.8 261.0,230.2 262.0,237.3 263.0,219.9 264.0,232.6 265.0,230.4 266.0,226.8 267.0,228.0 268.0,222.8 269.0,235.7 270.0,221.7 271.0,225.0 272.0,224.0 273.0,231.5 274.0,231.4 275.0,223.7 276.0,230.4 277.0,228.0 278.0,223.1 279.0,232.2 280.0,238.0 281.0,227.6 282.0,237.7 283.0,222.4 284.0,229.9 285.0,231.4 286.0,228.2 287.0,225.6 288.0,229.8 289.0,222.9 290.0,231.4 291.0,223.6 292.0,224.3 293.0,223.5 294.0,233.9 295.0,223.4 296.0,203.2 297.0,230.2 298.0,237.2 299.0,221.4 300.0,237.1 301.0,226.2 302.0,230.8 303.0,228.5 304.0,231.8 305.0,227.0 306.0,221.8 307.0,231.3 308.0,225.9 309.0,225.7 310.0,231.0 311.0,233.8 312.0,229.8 313.0,224.0 314.0,238.0 315.0,228.5 316.0,224.7 317.0,227.0 318.0,229.7 319.0,225.2 320.0,229.6 321.0,234.0 322.0,234.1 323.0,230.0 324.0,224.6 325.0,233.0 326.0,231.6 327.0,231.5 328.0,234.9 329.0,227.5 330.0,234.7 331.0,199.4 332.0,240.6 333.0,223.5 334.0,233.8 335.0,235.9 336.0,223.4 337.0,232.2 338.0,237.7 339.0,229.8 340.0,227.4 341.0,231.6 342.0,224.7 343.0,227.2 344.0,226.7 345.0,228.4 346.0,223.4 347.0,228.1 348.0,227.3 349.0,238.8 350.0,221.6 351.0,225.8 352.0,231.4 353.0,230.2 354.0,220.0 355.0,239.9" fill="none" stroke="#333" stroke-width="0.9"/><line x1="208.4" y1="57.1" x2="208.4" y2="298" stroke="#6fd86f" stroke-width="2.7" stroke-dasharray="6.4 7.1" stroke-dashoffset="3.4"/><path d="M50,183 Q88,66 176,71.5" fill="none" stroke="#d21ee0" stroke-width="3"/><polygon points="183.3,71.2 174,65.7 174.5,76" fill="#d21ee0"/><polygon points="47.6,188 47.5,177.5 56.5,181.5" fill="#d21ee0"/><path d="M85,200.5 Q150,196 190,162" fill="none" stroke="#d21ee0" stroke-width="3"/><polygon points="78,201.3 86.5,196 86.5,206.5" fill="#d21ee0"/><polygon points="195.6,158.4 185.5,160 192,168" fill="#d21ee0"/><text transform="translate(32,176.5) rotate(-90)" font-size="16" font-style="italic" textLength="93" lengthAdjust="spacingAndGlyphs">EEG sensors</text><text transform="translate(32,292.6) rotate(-90)" font-size="16" font-style="italic" textLength="87.5" lengthAdjust="spacingAndGlyphs">Leg sensors</text><text x="42" y="86" font-size="33" font-style="italic" fill="#000" style="font-family:'Liberation Serif', serif">&#952;</text><text x="37.6" y="293.3" font-size="15.5" font-style="italic" fill="#d21ee0" textLength="47.4" lengthAdjust="spacingAndGlyphs">-3mins</text><text x="321" y="293.3" font-size="15.5" font-style="italic" fill="#d21ee0" textLength="41" lengthAdjust="spacingAndGlyphs">3mins</text><text x="19.6" y="333.8" font-size="13.3" font-style="italic" fill="#000" textLength="355" lengthAdjust="spacingAndGlyphs">Build causal model of leg sensor to eeg sensor data using 7</text><text x="24.5" y="349.4" font-size="13.3" font-style="italic" fill="#000" textLength="342" lengthAdjust="spacingAndGlyphs">seconds of data surrounding a CA, from 3 mins before the</text><text x="121" y="364.7" font-size="13.3" font-style="italic" fill="#000" textLength="150" lengthAdjust="spacingAndGlyphs">CA to 3 mins after the CA</text><polygon points="354.5,132.1 464.5,132.1 464.5,125.7 487.2,138.7 464.5,152.2 464.5,145.1 354.5,145.1" fill="#e88cf0"/><text x="450.8" y="21.3" font-size="28" font-weight="bold" fill="#000">B</text><defs><filter id="sh" x="-20%" y="-20%" width="150%" height="150%"><feGaussianBlur stdDeviation="4"/></filter></defs><rect x="494.6" y="78" width="123" height="123" fill="#000" opacity="0.65" filter="url(#sh)"/><g transform="translate(489.60,72.00) scale(3.8594,3.8594)"><path fill="#f9fb15" d="M0 0h1.1v1.1h-1.1zM1 1h1.1v1.1h-1.1zM2 2h1.1v1.1h-1.1zM3 3h1.1v1.1h-1.1zM4 4h1.1v1.1h-1.1zM5 5h1.1v1.1h-1.1zM6 6h1.1v1.1h-1.1zM7 7h1.1v1.1h-1.1zM8 8h1.1v1.1h-1.1zM9 9h1.1v1.1h-1.1zM10 10h1.1v1.1h-1.1zM11 11h1.1v1.1h-1.1zM12 12h1.1v1.1h-1.1zM13 13h1.1v1.1h-1.1zM14 14h1.1v1.1h-1.1zM15 15h1.1v1.1h-1.1zM16 16h1.1v1.1h-1.1zM17 17h1.1v1.1h-1.1zM18 18h1.1v1.1h-1.1zM19 19h1.1v1.1h-1.1zM20 20h1.1v1.1h-1.1zM21 21h1.1v1.1h-1.1zM22 22h1.1v1.1h-1.1zM23 23h1.1v1.1h-1.1zM24 24h1.1v1.1h-1.1zM25 25h1.1v1.1h-1.1zM26 26h1.1v1.1h-1.1zM28 26h1.1v1.1h-1.1zM27 27h1.1v1.1h-1.1zM28 28h1.1v1.1h-1.1zM29 29h1.1v1.1h-1.1zM30 30h1.1v1.1h-1.1zM31 31h1.1v1.1h-1.1z"/><path fill="#3c72ff" d="M1 0h1.1v1.1h-1.1zM17 0h1.1v1.1h-1.1zM0 1h1.1v1.1h-1.1zM28 2h1.1v1.1h-1.1zM14 3h1.1v1.1h-1.1zM30 3h1.1v1.1h-1.1zM1 5h1.1v1.1h-1.1zM19 5h1.1v1.1h-1.1zM19 6h1.1v1.1h-1.1zM31 6h1.1v1.1h-1.1zM21 7h1.1v1.1h-1.1zM26 7h1.1v1.1h-1.1zM2 9h1.1v1.1h-1.1zM15 9h1.1v1.1h-1.1zM30 9h1.1v1.1h-1.1zM8 18h1.1v1.1h-1.1zM29 19h1.1v1.1h-1.1zM23 20h1.1v1.1h-1.1zM31 20h1.1v1.1h-1.1zM14 21h1.1v1.1h-1.1zM29 21h1.1v1.1h-1.1zM16 26h1.1v1.1h-1.1zM13 27h1.1v1.1h-1.1zM0 28h1.1v1.1h-1.1z"/><path fill="#4849ed" d="M2 0h1.1v1.1h-1.1zM14 0h1.1v1.1h-1.1zM8 1h1.1v1.1h-1.1zM17 1h1.1v1.1h-1.1zM20 2h1.1v1.1h-1.1zM0 3h1.1v1.1h-1.1zM4 3h1.1v1.1h-1.1zM13 4h1.1v1.1h-1.1zM27 7h1.1v1.1h-1.1zM0 8h1.1v1.1h-1.1zM16 8h1.1v1.1h-1.1zM25 8h1.1v1.1h-1.1zM25 9h1.1v1.1h-1.1zM18 10h1.1v1.1h-1.1zM29 10h1.1v1.1h-1.1zM1 13h1.1v1.1h-1.1zM29 13h1.1v1.1h-1.1zM13 14h1.1v1.1h-1.1zM7 16h1.1v1.1h-1.1zM16 17h1.1v1.1h-1.1zM22 19h1.1v1.1h-1.1zM27 21h1.1v1.1h-1.1zM3 22h1.1v1.1h-1.1zM15 25h1.1v1.1h-1.1zM8 27h1.1v1.1h-1.1zM27 29h1.1v1.1h-1.1zM28 29h1.1v1.1h-1.1zM23 31h1.1v1.1h-1.1zM29 31h1.1v1.1h-1.1z"/><path fill="#22a2e4" d="M3 0h1.1v1.1h-1.1zM14 1h1.1v1.1h-1.1zM18 1h1.1v1.1h-1.1zM24 1h1.1v1.1h-1.1zM14 5h1.1v1.1h-1.1zM12 6h1.1v1.1h-1.1zM12 9h1.1v1.1h-1.1zM25 12h1.1v1.1h-1.1zM5 13h1.1v1.1h-1.1zM21 16h1.1v1.1h-1.1zM0 26h1.1v1.1h-1.1zM13 26h1.1v1.1h-1.1zM22 26h1.1v1.1h-1.1zM7 27h1.1v1.1h-1.1zM16 27h1.1v1.1h-1.1zM21 28h1.1v1.1h-1.1z"/><path fill="#4466fd" d="M4 0h1.1v1.1h-1.1zM15 1h1.1v1.1h-1.1zM13 2h1.1v1.1h-1.1zM9 3h1.1v1.1h-1.1zM13 3h1.1v1.1h-1.1zM17 4h1.1v1.1h-1.1zM25 4h1.1v1.1h-1.1zM22 5h1.1v1.1h-1.1zM16 6h1.1v1.1h-1.1zM3 7h1.1v1.1h-1.1zM15 7h1.1v1.1h-1.1zM29 7h1.1v1.1h-1.1zM31 8h1.1v1.1h-1.1zM7 9h1.1v1.1h-1.1zM10 9h1.1v1.1h-1.1zM31 10h1.1v1.1h-1.1zM9 12h1.1v1.1h-1.1zM22 13h1.1v1.1h-1.1zM1 16h1.1v1.1h-1.1zM15 21h1.1v1.1h-1.1zM12 25h1.1v1.1h-1.1zM24 27h1.1v1.1h-1.1zM31 27h1.1v1.1h-1.1zM15 29h1.1v1.1h-1.1zM6 31h1.1v1.1h-1.1z"/><path fill="#463cde" d="M5 0h1.1v1.1h-1.1zM7 4h1.1v1.1h-1.1zM24 4h1.1v1.1h-1.1zM3 5h1.1v1.1h-1.1zM4 6h1.1v1.1h-1.1zM23 9h1.1v1.1h-1.1zM23 11h1.1v1.1h-1.1zM27 12h1.1v1.1h-1.1zM7 13h1.1v1.1h-1.1zM6 16h1.1v1.1h-1.1zM9 17h1.1v1.1h-1.1zM21 18h1.1v1.1h-1.1zM11 20h1.1v1.1h-1.1zM7 21h1.1v1.1h-1.1zM9 23h1.1v1.1h-1.1zM17 24h1.1v1.1h-1.1zM6 26h1.1v1.1h-1.1zM20 27h1.1v1.1h-1.1zM4 28h1.1v1.1h-1.1zM13 28h1.1v1.1h-1.1zM3 29h1.1v1.1h-1.1zM8 29h1.1v1.1h-1.1zM26 31h1.1v1.1h-1.1z"/><path fill="#4660fb" d="M6 0h1.1v1.1h-1.1zM12 0h1.1v1.1h-1.1zM28 3h1.1v1.1h-1.1zM6 8h1.1v1.1h-1.1zM9 8h1.1v1.1h-1.1zM26 10h1.1v1.1h-1.1zM19 13h1.1v1.1h-1.1zM4 17h1.1v1.1h-1.1zM1 19h1.1v1.1h-1.1zM6 21h1.1v1.1h-1.1zM5 23h1.1v1.1h-1.1zM4 24h1.1v1.1h-1.1zM10 24h1.1v1.1h-1.1zM2 25h1.1v1.1h-1.1zM24 25h1.1v1.1h-1.1zM30 27h1.1v1.1h-1.1zM4 29h1.1v1.1h-1.1zM12 29h1.1v1.1h-1.1zM14 29h1.1v1.1h-1.1zM19 30h1.1v1.1h-1.1z"/><path fill="#2798ea" d="M7 0h1.1v1.1h-1.1zM19 0h1.1v1.1h-1.1zM20 0h1.1v1.1h-1.1zM0 4h1.1v1.1h-1.1zM2 4h1.1v1.1h-1.1zM0 6h1.1v1.1h-1.1zM9 7h1.1v1.1h-1.1zM20 9h1.1v1.1h-1.1zM21 11h1.1v1.1h-1.1zM7 12h1.1v1.1h-1.1zM0 15h1.1v1.1h-1.1zM10 16h1.1v1.1h-1.1zM3 18h1.1v1.1h-1.1zM28 19h1.1v1.1h-1.1zM11 22h1.1v1.1h-1.1zM27 23h1.1v1.1h-1.1zM2 29h1.1v1.1h-1.1z"/><path fill="#4332cb" d="M8 0h1.1v1.1h-1.1zM18 0h1.1v1.1h-1.1zM30 0h1.1v1.1h-1.1zM7 1h1.1v1.1h-1.1zM8 2h1.1v1.1h-1.1zM23 2h1.1v1.1h-1.1zM31 4h1.1v1.1h-1.1zM8 5h1.1v1.1h-1.1zM11 5h1.1v1.1h-1.1zM16 5h1.1v1.1h-1.1zM10 6h1.1v1.1h-1.1zM16 7h1.1v1.1h-1.1zM2 8h1.1v1.1h-1.1zM5 8h1.1v1.1h-1.1zM3 10h1.1v1.1h-1.1zM27 11h1.1v1.1h-1.1zM24 13h1.1v1.1h-1.1zM30 15h1.1v1.1h-1.1zM28 20h1.1v1.1h-1.1zM8 21h1.1v1.1h-1.1zM23 21h1.1v1.1h-1.1zM14 22h1.1v1.1h-1.1zM24 22h1.1v1.1h-1.1zM0 23h1.1v1.1h-1.1zM6 23h1.1v1.1h-1.1zM29 23h1.1v1.1h-1.1zM9 26h1.1v1.1h-1.1zM9 27h1.1v1.1h-1.1zM21 27h1.1v1.1h-1.1zM8 28h1.1v1.1h-1.1zM23 28h1.1v1.1h-1.1zM25 29h1.1v1.1h-1.1zM14 30h1.1v1.1h-1.1zM5 31h1.1v1.1h-1.1zM9 31h1.1v1.1h-1.1z"/><path fill="#f7f51b" d="M9 0h1.1v1.1h-1.1zM0 18h1.1v1.1h-1.1zM1 21h1.1v1.1h-1.1zM12 23h1.1v1.1h-1.1z"/><path fill="#1fa6e2" d="M10 0h1.1v1.1h-1.1zM29 1h1.1v1.1h-1.1zM0 5h1.1v1.1h-1.1zM25 7h1.1v1.1h-1.1zM30 11h1.1v1.1h-1.1zM24 12h1.1v1.1h-1.1zM6 13h1.1v1.1h-1.1zM13 17h1.1v1.1h-1.1zM4 21h1.1v1.1h-1.1zM3 30h1.1v1.1h-1.1z"/><path fill="#4639d9" d="M11 0h1.1v1.1h-1.1zM20 1h1.1v1.1h-1.1zM22 1h1.1v1.1h-1.1zM26 3h1.1v1.1h-1.1zM19 4h1.1v1.1h-1.1zM24 7h1.1v1.1h-1.1zM14 8h1.1v1.1h-1.1zM23 8h1.1v1.1h-1.1zM26 8h1.1v1.1h-1.1zM27 8h1.1v1.1h-1.1zM29 8h1.1v1.1h-1.1zM5 9h1.1v1.1h-1.1zM15 10h1.1v1.1h-1.1zM19 10h1.1v1.1h-1.1zM20 10h1.1v1.1h-1.1zM20 11h1.1v1.1h-1.1zM29 11h1.1v1.1h-1.1zM21 12h1.1v1.1h-1.1zM28 12h1.1v1.1h-1.1zM8 14h1.1v1.1h-1.1zM23 14h1.1v1.1h-1.1zM4 16h1.1v1.1h-1.1zM28 16h1.1v1.1h-1.1zM15 17h1.1v1.1h-1.1zM28 18h1.1v1.1h-1.1zM29 18h1.1v1.1h-1.1zM16 20h1.1v1.1h-1.1zM25 20h1.1v1.1h-1.1zM6 22h1.1v1.1h-1.1zM7 22h1.1v1.1h-1.1zM8 22h1.1v1.1h-1.1zM21 22h1.1v1.1h-1.1zM29 24h1.1v1.1h-1.1zM10 25h1.1v1.1h-1.1zM7 26h1.1v1.1h-1.1zM15 26h1.1v1.1h-1.1zM26 27h1.1v1.1h-1.1zM18 28h1.1v1.1h-1.1zM7 29h1.1v1.1h-1.1zM8 31h1.1v1.1h-1.1zM28 31h1.1v1.1h-1.1z"/><path fill="#f5e924" d="M13 0h1.1v1.1h-1.1zM1 3h1.1v1.1h-1.1zM3 4h1.1v1.1h-1.1zM23 6h1.1v1.1h-1.1zM21 9h1.1v1.1h-1.1zM17 19h1.1v1.1h-1.1zM15 20h1.1v1.1h-1.1z"/><path fill="#484ff2" d="M15 0h1.1v1.1h-1.1zM25 1h1.1v1.1h-1.1zM22 3h1.1v1.1h-1.1zM29 3h1.1v1.1h-1.1zM31 3h1.1v1.1h-1.1zM12 4h1.1v1.1h-1.1zM29 4h1.1v1.1h-1.1zM15 8h1.1v1.1h-1.1zM6 9h1.1v1.1h-1.1zM22 9h1.1v1.1h-1.1zM22 11h1.1v1.1h-1.1zM4 13h1.1v1.1h-1.1zM5 15h1.1v1.1h-1.1zM0 16h1.1v1.1h-1.1zM23 18h1.1v1.1h-1.1zM1 20h1.1v1.1h-1.1zM17 21h1.1v1.1h-1.1zM26 21h1.1v1.1h-1.1zM15 23h1.1v1.1h-1.1zM23 24h1.1v1.1h-1.1zM2 26h1.1v1.1h-1.1z"/><path fill="#3975fe" d="M16 0h1.1v1.1h-1.1zM30 1h1.1v1.1h-1.1zM26 2h1.1v1.1h-1.1zM31 2h1.1v1.1h-1.1zM8 6h1.1v1.1h-1.1zM25 6h1.1v1.1h-1.1zM30 7h1.1v1.1h-1.1zM22 8h1.1v1.1h-1.1zM23 10h1.1v1.1h-1.1zM15 12h1.1v1.1h-1.1zM16 14h1.1v1.1h-1.1zM27 14h1.1v1.1h-1.1zM15 16h1.1v1.1h-1.1zM11 18h1.1v1.1h-1.1zM5 21h1.1v1.1h-1.1zM25 21h1.1v1.1h-1.1zM18 25h1.1v1.1h-1.1zM22 31h1.1v1.1h-1.1z"/><path fill="#f8f818" d="M21 0h1.1v1.1h-1.1zM3 11h1.1v1.1h-1.1z"/><path fill="#1baade" d="M22 0h1.1v1.1h-1.1zM28 1h1.1v1.1h-1.1zM18 2h1.1v1.1h-1.1zM18 3h1.1v1.1h-1.1zM2 6h1.1v1.1h-1.1zM15 6h1.1v1.1h-1.1zM2 7h1.1v1.1h-1.1zM4 7h1.1v1.1h-1.1zM18 8h1.1v1.1h-1.1zM28 8h1.1v1.1h-1.1zM30 10h1.1v1.1h-1.1zM26 13h1.1v1.1h-1.1zM8 19h1.1v1.1h-1.1zM5 22h1.1v1.1h-1.1zM8 24h1.1v1.1h-1.1zM22 29h1.1v1.1h-1.1zM1 31h1.1v1.1h-1.1z"/><path fill="#317efb" d="M23 0h1.1v1.1h-1.1zM26 1h1.1v1.1h-1.1zM17 3h1.1v1.1h-1.1zM19 3h1.1v1.1h-1.1zM30 4h1.1v1.1h-1.1zM29 5h1.1v1.1h-1.1zM22 6h1.1v1.1h-1.1zM7 8h1.1v1.1h-1.1zM18 9h1.1v1.1h-1.1zM26 9h1.1v1.1h-1.1zM4 10h1.1v1.1h-1.1zM9 10h1.1v1.1h-1.1zM19 11h1.1v1.1h-1.1zM31 11h1.1v1.1h-1.1zM1 12h1.1v1.1h-1.1zM2 12h1.1v1.1h-1.1zM2 20h1.1v1.1h-1.1zM10 20h1.1v1.1h-1.1zM3 23h1.1v1.1h-1.1zM19 23h1.1v1.1h-1.1zM14 27h1.1v1.1h-1.1zM17 29h1.1v1.1h-1.1zM11 30h1.1v1.1h-1.1z"/><path fill="#473ee1" d="M24 0h1.1v1.1h-1.1zM9 2h1.1v1.1h-1.1zM19 2h1.1v1.1h-1.1zM10 3h1.1v1.1h-1.1zM16 3h1.1v1.1h-1.1zM15 4h1.1v1.1h-1.1zM9 5h1.1v1.1h-1.1zM31 7h1.1v1.1h-1.1zM17 8h1.1v1.1h-1.1zM4 9h1.1v1.1h-1.1zM7 10h1.1v1.1h-1.1zM17 12h1.1v1.1h-1.1zM23 13h1.1v1.1h-1.1zM21 15h1.1v1.1h-1.1zM22 16h1.1v1.1h-1.1zM13 18h1.1v1.1h-1.1zM20 18h1.1v1.1h-1.1zM25 18h1.1v1.1h-1.1zM2 19h1.1v1.1h-1.1zM11 19h1.1v1.1h-1.1zM18 19h1.1v1.1h-1.1zM19 21h1.1v1.1h-1.1zM12 22h1.1v1.1h-1.1zM14 23h1.1v1.1h-1.1zM30 24h1.1v1.1h-1.1zM1 25h1.1v1.1h-1.1zM29 26h1.1v1.1h-1.1zM17 27h1.1v1.1h-1.1zM10 30h1.1v1.1h-1.1zM23 30h1.1v1.1h-1.1zM28 30h1.1v1.1h-1.1zM7 31h1.1v1.1h-1.1z"/><path fill="#2896ec" d="M25 0h1.1v1.1h-1.1zM16 1h1.1v1.1h-1.1zM17 9h1.1v1.1h-1.1zM22 10h1.1v1.1h-1.1zM5 11h1.1v1.1h-1.1zM4 14h1.1v1.1h-1.1zM29 15h1.1v1.1h-1.1zM26 17h1.1v1.1h-1.1zM16 18h1.1v1.1h-1.1zM3 21h1.1v1.1h-1.1zM16 22h1.1v1.1h-1.1zM7 24h1.1v1.1h-1.1zM5 25h1.1v1.1h-1.1zM15 28h1.1v1.1h-1.1z"/><path fill="#16aeda" d="M26 0h1.1v1.1h-1.1zM17 2h1.1v1.1h-1.1zM27 4h1.1v1.1h-1.1zM21 5h1.1v1.1h-1.1zM23 5h1.1v1.1h-1.1zM6 7h1.1v1.1h-1.1zM27 9h1.1v1.1h-1.1zM7 11h1.1v1.1h-1.1zM1 14h1.1v1.1h-1.1zM14 18h1.1v1.1h-1.1zM10 22h1.1v1.1h-1.1zM3 26h1.1v1.1h-1.1z"/><path fill="#416bfe" d="M27 0h1.1v1.1h-1.1zM28 0h1.1v1.1h-1.1zM12 2h1.1v1.1h-1.1zM17 6h1.1v1.1h-1.1zM1 8h1.1v1.1h-1.1zM3 9h1.1v1.1h-1.1zM17 11h1.1v1.1h-1.1zM1 15h1.1v1.1h-1.1zM2 15h1.1v1.1h-1.1zM29 16h1.1v1.1h-1.1zM29 17h1.1v1.1h-1.1zM0 19h1.1v1.1h-1.1zM7 20h1.1v1.1h-1.1zM12 20h1.1v1.1h-1.1zM6 24h1.1v1.1h-1.1zM17 25h1.1v1.1h-1.1zM19 28h1.1v1.1h-1.1zM31 28h1.1v1.1h-1.1zM18 29h1.1v1.1h-1.1zM2 30h1.1v1.1h-1.1z"/><path fill="#f5ec22" d="M29 0h1.1v1.1h-1.1zM16 12h1.1v1.1h-1.1z"/><path fill="#2d89f5" d="M31 0h1.1v1.1h-1.1zM12 1h1.1v1.1h-1.1zM2 3h1.1v1.1h-1.1zM26 6h1.1v1.1h-1.1zM6 11h1.1v1.1h-1.1zM23 12h1.1v1.1h-1.1zM7 17h1.1v1.1h-1.1zM8 17h1.1v1.1h-1.1zM6 18h1.1v1.1h-1.1zM17 20h1.1v1.1h-1.1zM16 21h1.1v1.1h-1.1zM27 22h1.1v1.1h-1.1zM16 24h1.1v1.1h-1.1zM31 24h1.1v1.1h-1.1zM18 26h1.1v1.1h-1.1zM1 27h1.1v1.1h-1.1zM5 27h1.1v1.1h-1.1z"/><path fill="#4744e8" d="M2 1h1.1v1.1h-1.1zM3 2h1.1v1.1h-1.1zM6 4h1.1v1.1h-1.1zM16 4h1.1v1.1h-1.1zM4 5h1.1v1.1h-1.1zM28 5h1.1v1.1h-1.1zM14 7h1.1v1.1h-1.1zM28 7h1.1v1.1h-1.1zM10 8h1.1v1.1h-1.1zM30 8h1.1v1.1h-1.1zM5 10h1.1v1.1h-1.1zM2 13h1.1v1.1h-1.1zM10 13h1.1v1.1h-1.1zM17 13h1.1v1.1h-1.1zM25 13h1.1v1.1h-1.1zM28 13h1.1v1.1h-1.1zM14 17h1.1v1.1h-1.1zM20 17h1.1v1.1h-1.1zM21 17h1.1v1.1h-1.1zM5 18h1.1v1.1h-1.1zM9 18h1.1v1.1h-1.1zM31 18h1.1v1.1h-1.1zM6 19h1.1v1.1h-1.1zM24 19h1.1v1.1h-1.1zM14 20h1.1v1.1h-1.1zM22 21h1.1v1.1h-1.1zM2 22h1.1v1.1h-1.1zM28 23h1.1v1.1h-1.1zM9 24h1.1v1.1h-1.1zM29 25h1.1v1.1h-1.1zM25 26h1.1v1.1h-1.1zM22 27h1.1v1.1h-1.1zM21 29h1.1v1.1h-1.1zM17 30h1.1v1.1h-1.1zM24 30h1.1v1.1h-1.1zM26 30h1.1v1.1h-1.1z"/><path fill="#3678fe" d="M3 1h1.1v1.1h-1.1zM6 1h1.1v1.1h-1.1zM23 3h1.1v1.1h-1.1zM1 4h1.1v1.1h-1.1zM9 4h1.1v1.1h-1.1zM14 6h1.1v1.1h-1.1zM0 7h1.1v1.1h-1.1zM20 7h1.1v1.1h-1.1zM23 7h1.1v1.1h-1.1zM14 11h1.1v1.1h-1.1zM11 12h1.1v1.1h-1.1zM26 14h1.1v1.1h-1.1zM6 15h1.1v1.1h-1.1zM25 15h1.1v1.1h-1.1zM11 16h1.1v1.1h-1.1zM3 17h1.1v1.1h-1.1zM24 17h1.1v1.1h-1.1zM31 17h1.1v1.1h-1.1zM20 19h1.1v1.1h-1.1zM3 25h1.1v1.1h-1.1zM19 25h1.1v1.1h-1.1zM21 26h1.1v1.1h-1.1zM3 28h1.1v1.1h-1.1zM5 28h1.1v1.1h-1.1zM11 28h1.1v1.1h-1.1zM12 28h1.1v1.1h-1.1z"/><path fill="#4434d0" d="M4 1h1.1v1.1h-1.1zM14 2h1.1v1.1h-1.1zM10 4h1.1v1.1h-1.1zM3 8h1.1v1.1h-1.1zM1 10h1.1v1.1h-1.1zM13 11h1.1v1.1h-1.1zM31 12h1.1v1.1h-1.1zM9 13h1.1v1.1h-1.1zM15 13h1.1v1.1h-1.1zM16 13h1.1v1.1h-1.1zM24 14h1.1v1.1h-1.1zM24 15h1.1v1.1h-1.1zM1 18h1.1v1.1h-1.1zM29 20h1.1v1.1h-1.1zM30 22h1.1v1.1h-1.1zM2 23h1.1v1.1h-1.1zM1 24h1.1v1.1h-1.1zM3 24h1.1v1.1h-1.1zM5 24h1.1v1.1h-1.1zM21 24h1.1v1.1h-1.1zM27 24h1.1v1.1h-1.1zM1 26h1.1v1.1h-1.1zM14 26h1.1v1.1h-1.1zM17 26h1.1v1.1h-1.1zM30 26h1.1v1.1h-1.1zM2 27h1.1v1.1h-1.1zM12 27h1.1v1.1h-1.1zM18 27h1.1v1.1h-1.1zM24 28h1.1v1.1h-1.1zM13 29h1.1v1.1h-1.1zM24 29h1.1v1.1h-1.1zM29 30h1.1v1.1h-1.1z"/><path fill="#2e86f7" d="M5 1h1.1v1.1h-1.1zM6 2h1.1v1.1h-1.1zM29 2h1.1v1.1h-1.1zM15 3h1.1v1.1h-1.1zM19 9h1.1v1.1h-1.1zM3 12h1.1v1.1h-1.1zM30 12h1.1v1.1h-1.1zM12 13h1.1v1.1h-1.1zM21 13h1.1v1.1h-1.1zM3 14h1.1v1.1h-1.1zM7 14h1.1v1.1h-1.1zM26 15h1.1v1.1h-1.1zM5 16h1.1v1.1h-1.1zM1 17h1.1v1.1h-1.1zM19 17h1.1v1.1h-1.1zM9 20h1.1v1.1h-1.1zM22 20h1.1v1.1h-1.1zM0 22h1.1v1.1h-1.1zM13 22h1.1v1.1h-1.1zM1 23h1.1v1.1h-1.1zM24 23h1.1v1.1h-1.1zM30 23h1.1v1.1h-1.1zM0 25h1.1v1.1h-1.1zM16 25h1.1v1.1h-1.1zM30 25h1.1v1.1h-1.1zM31 25h1.1v1.1h-1.1zM6 27h1.1v1.1h-1.1zM5 29h1.1v1.1h-1.1zM11 29h1.1v1.1h-1.1zM20 30h1.1v1.1h-1.1zM15 31h1.1v1.1h-1.1zM30 31h1.1v1.1h-1.1z"/><path fill="#259de7" d="M9 1h1.1v1.1h-1.1zM2 5h1.1v1.1h-1.1zM3 6h1.1v1.1h-1.1zM2 14h1.1v1.1h-1.1zM20 14h1.1v1.1h-1.1zM19 15h1.1v1.1h-1.1zM10 18h1.1v1.1h-1.1zM15 18h1.1v1.1h-1.1zM23 22h1.1v1.1h-1.1zM21 23h1.1v1.1h-1.1zM2 31h1.1v1.1h-1.1z"/><path fill="#1da8e0" d="M10 1h1.1v1.1h-1.1zM12 3h1.1v1.1h-1.1zM3 13h1.1v1.1h-1.1zM31 14h1.1v1.1h-1.1zM2 17h1.1v1.1h-1.1zM1 22h1.1v1.1h-1.1zM20 28h1.1v1.1h-1.1z"/><path fill="#13b0d7" d="M11 1h1.1v1.1h-1.1zM23 1h1.1v1.1h-1.1zM24 3h1.1v1.1h-1.1zM11 14h1.1v1.1h-1.1zM12 19h1.1v1.1h-1.1zM25 19h1.1v1.1h-1.1zM26 19h1.1v1.1h-1.1zM31 21h1.1v1.1h-1.1zM13 30h1.1v1.1h-1.1z"/><path fill="#f6ef20" d="M13 1h1.1v1.1h-1.1zM1 6h1.1v1.1h-1.1zM5 12h1.1v1.1h-1.1zM28 17h1.1v1.1h-1.1z"/><path fill="#2b91ef" d="M19 1h1.1v1.1h-1.1zM1 2h1.1v1.1h-1.1zM27 5h1.1v1.1h-1.1zM12 11h1.1v1.1h-1.1zM30 18h1.1v1.1h-1.1zM15 22h1.1v1.1h-1.1zM25 22h1.1v1.1h-1.1zM12 30h1.1v1.1h-1.1z"/><path fill="#4563fc" d="M21 1h1.1v1.1h-1.1zM11 2h1.1v1.1h-1.1zM27 3h1.1v1.1h-1.1zM21 4h1.1v1.1h-1.1zM7 5h1.1v1.1h-1.1zM18 5h1.1v1.1h-1.1zM30 5h1.1v1.1h-1.1zM8 7h1.1v1.1h-1.1zM19 8h1.1v1.1h-1.1zM2 10h1.1v1.1h-1.1zM25 10h1.1v1.1h-1.1zM19 14h1.1v1.1h-1.1zM12 15h1.1v1.1h-1.1zM13 15h1.1v1.1h-1.1zM20 16h1.1v1.1h-1.1zM26 18h1.1v1.1h-1.1zM18 23h1.1v1.1h-1.1zM20 23h1.1v1.1h-1.1zM22 25h1.1v1.1h-1.1zM8 26h1.1v1.1h-1.1zM19 26h1.1v1.1h-1.1zM23 26h1.1v1.1h-1.1zM31 30h1.1v1.1h-1.1z"/><path fill="#4537d5" d="M27 1h1.1v1.1h-1.1zM13 6h1.1v1.1h-1.1zM27 6h1.1v1.1h-1.1zM11 7h1.1v1.1h-1.1zM11 8h1.1v1.1h-1.1zM8 9h1.1v1.1h-1.1zM28 10h1.1v1.1h-1.1zM24 11h1.1v1.1h-1.1zM28 11h1.1v1.1h-1.1zM22 12h1.1v1.1h-1.1zM12 14h1.1v1.1h-1.1zM14 15h1.1v1.1h-1.1zM26 16h1.1v1.1h-1.1zM18 17h1.1v1.1h-1.1zM14 19h1.1v1.1h-1.1zM31 19h1.1v1.1h-1.1zM8 20h1.1v1.1h-1.1zM18 20h1.1v1.1h-1.1zM28 22h1.1v1.1h-1.1zM13 24h1.1v1.1h-1.1zM4 25h1.1v1.1h-1.1zM4 27h1.1v1.1h-1.1zM9 28h1.1v1.1h-1.1zM25 28h1.1v1.1h-1.1zM14 31h1.1v1.1h-1.1z"/><path fill="#269ae8" d="M31 1h1.1v1.1h-1.1zM25 2h1.1v1.1h-1.1zM27 10h1.1v1.1h-1.1zM0 12h1.1v1.1h-1.1zM6 14h1.1v1.1h-1.1zM28 14h1.1v1.1h-1.1zM11 15h1.1v1.1h-1.1zM25 16h1.1v1.1h-1.1zM13 19h1.1v1.1h-1.1zM19 20h1.1v1.1h-1.1zM22 23h1.1v1.1h-1.1zM24 31h1.1v1.1h-1.1z"/><path fill="#4369fe" d="M0 2h1.1v1.1h-1.1zM5 2h1.1v1.1h-1.1zM24 2h1.1v1.1h-1.1zM11 4h1.1v1.1h-1.1zM18 6h1.1v1.1h-1.1zM10 7h1.1v1.1h-1.1zM13 9h1.1v1.1h-1.1zM24 9h1.1v1.1h-1.1zM13 10h1.1v1.1h-1.1zM0 11h1.1v1.1h-1.1zM19 12h1.1v1.1h-1.1zM30 13h1.1v1.1h-1.1zM31 13h1.1v1.1h-1.1zM9 15h1.1v1.1h-1.1zM28 15h1.1v1.1h-1.1zM13 16h1.1v1.1h-1.1zM24 16h1.1v1.1h-1.1zM30 17h1.1v1.1h-1.1zM27 20h1.1v1.1h-1.1zM0 21h1.1v1.1h-1.1zM24 21h1.1v1.1h-1.1zM31 26h1.1v1.1h-1.1zM25 27h1.1v1.1h-1.1zM14 28h1.1v1.1h-1.1zM17 28h1.1v1.1h-1.1zM20 29h1.1v1.1h-1.1zM22 30h1.1v1.1h-1.1zM16 31h1.1v1.1h-1.1zM27 31h1.1v1.1h-1.1z"/><path fill="#2e83f9" d="M4 2h1.1v1.1h-1.1zM20 3h1.1v1.1h-1.1zM20 4h1.1v1.1h-1.1zM24 5h1.1v1.1h-1.1zM4 8h1.1v1.1h-1.1zM0 9h1.1v1.1h-1.1zM1 11h1.1v1.1h-1.1zM9 11h1.1v1.1h-1.1zM26 12h1.1v1.1h-1.1zM9 14h1.1v1.1h-1.1zM18 14h1.1v1.1h-1.1zM8 15h1.1v1.1h-1.1zM22 15h1.1v1.1h-1.1zM27 17h1.1v1.1h-1.1zM3 20h1.1v1.1h-1.1zM5 20h1.1v1.1h-1.1zM4 22h1.1v1.1h-1.1zM31 22h1.1v1.1h-1.1zM12 24h1.1v1.1h-1.1zM25 24h1.1v1.1h-1.1zM23 25h1.1v1.1h-1.1zM15 27h1.1v1.1h-1.1zM16 28h1.1v1.1h-1.1zM0 30h1.1v1.1h-1.1z"/><path fill="#04bbc2" d="M7 2h1.1v1.1h-1.1zM7 23h1.1v1.1h-1.1z"/><path fill="#484cf0" d="M10 2h1.1v1.1h-1.1zM15 5h1.1v1.1h-1.1zM20 5h1.1v1.1h-1.1zM20 6h1.1v1.1h-1.1zM30 6h1.1v1.1h-1.1zM18 7h1.1v1.1h-1.1zM16 9h1.1v1.1h-1.1zM10 12h1.1v1.1h-1.1zM3 16h1.1v1.1h-1.1zM8 16h1.1v1.1h-1.1zM23 17h1.1v1.1h-1.1zM7 18h1.1v1.1h-1.1zM12 18h1.1v1.1h-1.1zM13 20h1.1v1.1h-1.1zM28 21h1.1v1.1h-1.1zM30 21h1.1v1.1h-1.1zM31 23h1.1v1.1h-1.1zM22 24h1.1v1.1h-1.1zM7 25h1.1v1.1h-1.1zM8 25h1.1v1.1h-1.1zM21 25h1.1v1.1h-1.1zM7 28h1.1v1.1h-1.1zM29 28h1.1v1.1h-1.1zM19 29h1.1v1.1h-1.1zM1 30h1.1v1.1h-1.1zM25 30h1.1v1.1h-1.1z"/><path fill="#337bfd" d="M15 2h1.1v1.1h-1.1zM21 3h1.1v1.1h-1.1zM10 5h1.1v1.1h-1.1zM13 5h1.1v1.1h-1.1zM1 7h1.1v1.1h-1.1zM12 7h1.1v1.1h-1.1zM13 8h1.1v1.1h-1.1zM24 8h1.1v1.1h-1.1zM1 9h1.1v1.1h-1.1zM0 10h1.1v1.1h-1.1zM4 11h1.1v1.1h-1.1zM14 12h1.1v1.1h-1.1zM18 12h1.1v1.1h-1.1zM3 15h1.1v1.1h-1.1zM31 15h1.1v1.1h-1.1zM27 16h1.1v1.1h-1.1zM4 19h1.1v1.1h-1.1zM7 19h1.1v1.1h-1.1zM15 19h1.1v1.1h-1.1zM13 25h1.1v1.1h-1.1zM11 26h1.1v1.1h-1.1z"/><path fill="#465dfa" d="M16 2h1.1v1.1h-1.1zM6 3h1.1v1.1h-1.1zM23 4h1.1v1.1h-1.1zM24 6h1.1v1.1h-1.1zM29 6h1.1v1.1h-1.1zM19 7h1.1v1.1h-1.1zM29 12h1.1v1.1h-1.1zM25 14h1.1v1.1h-1.1zM10 15h1.1v1.1h-1.1zM4 20h1.1v1.1h-1.1zM4 23h1.1v1.1h-1.1zM5 26h1.1v1.1h-1.1zM10 28h1.1v1.1h-1.1zM15 30h1.1v1.1h-1.1zM27 30h1.1v1.1h-1.1zM13 31h1.1v1.1h-1.1zM18 31h1.1v1.1h-1.1z"/><path fill="#4747eb" d="M21 2h1.1v1.1h-1.1zM22 2h1.1v1.1h-1.1zM30 2h1.1v1.1h-1.1zM11 3h1.1v1.1h-1.1zM5 4h1.1v1.1h-1.1zM9 6h1.1v1.1h-1.1zM13 7h1.1v1.1h-1.1zM8 11h1.1v1.1h-1.1zM4 12h1.1v1.1h-1.1zM7 15h1.1v1.1h-1.1zM23 15h1.1v1.1h-1.1zM30 16h1.1v1.1h-1.1zM31 16h1.1v1.1h-1.1zM12 17h1.1v1.1h-1.1zM25 17h1.1v1.1h-1.1zM22 18h1.1v1.1h-1.1zM29 22h1.1v1.1h-1.1zM14 24h1.1v1.1h-1.1zM15 24h1.1v1.1h-1.1zM19 24h1.1v1.1h-1.1zM26 25h1.1v1.1h-1.1zM27 26h1.1v1.1h-1.1zM3 27h1.1v1.1h-1.1zM10 27h1.1v1.1h-1.1zM22 28h1.1v1.1h-1.1zM16 29h1.1v1.1h-1.1zM31 29h1.1v1.1h-1.1zM18 30h1.1v1.1h-1.1z"/><path fill="#02bac5" d="M27 2h1.1v1.1h-1.1z"/><path fill="#249fe5" d="M5 3h1.1v1.1h-1.1zM8 10h1.1v1.1h-1.1zM8 12h1.1v1.1h-1.1zM8 13h1.1v1.1h-1.1zM0 14h1.1v1.1h-1.1zM3 19h1.1v1.1h-1.1zM19 22h1.1v1.1h-1.1zM17 23h1.1v1.1h-1.1zM11 24h1.1v1.1h-1.1zM26 24h1.1v1.1h-1.1zM4 26h1.1v1.1h-1.1z"/><path fill="#3f6eff" d="M7 3h1.1v1.1h-1.1zM8 3h1.1v1.1h-1.1zM17 7h1.1v1.1h-1.1zM11 9h1.1v1.1h-1.1zM18 11h1.1v1.1h-1.1zM20 12h1.1v1.1h-1.1zM11 13h1.1v1.1h-1.1zM20 13h1.1v1.1h-1.1zM22 14h1.1v1.1h-1.1zM12 16h1.1v1.1h-1.1zM17 16h1.1v1.1h-1.1zM19 16h1.1v1.1h-1.1zM2 18h1.1v1.1h-1.1zM4 18h1.1v1.1h-1.1zM17 18h1.1v1.1h-1.1zM24 18h1.1v1.1h-1.1zM23 19h1.1v1.1h-1.1zM2 21h1.1v1.1h-1.1zM9 21h1.1v1.1h-1.1zM10 21h1.1v1.1h-1.1zM12 21h1.1v1.1h-1.1zM25 23h1.1v1.1h-1.1zM18 24h1.1v1.1h-1.1zM20 24h1.1v1.1h-1.1zM6 25h1.1v1.1h-1.1zM11 27h1.1v1.1h-1.1zM19 27h1.1v1.1h-1.1zM30 28h1.1v1.1h-1.1zM4 30h1.1v1.1h-1.1zM6 30h1.1v1.1h-1.1zM11 31h1.1v1.1h-1.1zM21 31h1.1v1.1h-1.1z"/><path fill="#f6e028" d="M25 3h1.1v1.1h-1.1zM21 30h1.1v1.1h-1.1z"/><path fill="#ecba32" d="M8 4h1.1v1.1h-1.1zM16 11h1.1v1.1h-1.1zM10 19h1.1v1.1h-1.1zM18 21h1.1v1.1h-1.1zM3 31h1.1v1.1h-1.1z"/><path fill="#39c895" d="M14 4h1.1v1.1h-1.1z"/><path fill="#4741e5" d="M18 4h1.1v1.1h-1.1zM28 4h1.1v1.1h-1.1zM6 5h1.1v1.1h-1.1zM17 5h1.1v1.1h-1.1zM5 6h1.1v1.1h-1.1zM6 10h1.1v1.1h-1.1zM10 11h1.1v1.1h-1.1zM25 11h1.1v1.1h-1.1zM26 11h1.1v1.1h-1.1zM14 13h1.1v1.1h-1.1zM29 14h1.1v1.1h-1.1zM4 15h1.1v1.1h-1.1zM27 15h1.1v1.1h-1.1zM9 16h1.1v1.1h-1.1zM5 19h1.1v1.1h-1.1zM26 20h1.1v1.1h-1.1zM11 23h1.1v1.1h-1.1zM16 23h1.1v1.1h-1.1zM2 28h1.1v1.1h-1.1zM27 28h1.1v1.1h-1.1zM10 29h1.1v1.1h-1.1zM30 29h1.1v1.1h-1.1zM5 30h1.1v1.1h-1.1zM9 30h1.1v1.1h-1.1zM16 30h1.1v1.1h-1.1z"/><path fill="#19acdc" d="M22 4h1.1v1.1h-1.1zM26 4h1.1v1.1h-1.1zM28 9h1.1v1.1h-1.1zM24 10h1.1v1.1h-1.1zM27 13h1.1v1.1h-1.1zM5 17h1.1v1.1h-1.1zM6 17h1.1v1.1h-1.1zM0 20h1.1v1.1h-1.1zM0 29h1.1v1.1h-1.1zM6 29h1.1v1.1h-1.1zM10 31h1.1v1.1h-1.1z"/><path fill="#2dc4a5" d="M12 5h1.1v1.1h-1.1zM11 6h1.1v1.1h-1.1z"/><path fill="#e7bb2e" d="M25 5h1.1v1.1h-1.1zM22 7h1.1v1.1h-1.1zM27 18h1.1v1.1h-1.1z"/><path fill="#4dcb82" d="M26 5h1.1v1.1h-1.1z"/><path fill="#20a4e3" d="M31 5h1.1v1.1h-1.1zM10 23h1.1v1.1h-1.1zM9 25h1.1v1.1h-1.1zM14 25h1.1v1.1h-1.1zM20 25h1.1v1.1h-1.1zM27 25h1.1v1.1h-1.1zM28 25h1.1v1.1h-1.1zM24 26h1.1v1.1h-1.1zM8 30h1.1v1.1h-1.1zM12 31h1.1v1.1h-1.1z"/><path fill="#4330c5" d="M7 6h1.1v1.1h-1.1zM21 10h1.1v1.1h-1.1zM14 16h1.1v1.1h-1.1zM22 17h1.1v1.1h-1.1zM16 19h1.1v1.1h-1.1zM27 19h1.1v1.1h-1.1zM21 20h1.1v1.1h-1.1zM26 22h1.1v1.1h-1.1zM6 28h1.1v1.1h-1.1z"/><path fill="#2f81fa" d="M21 6h1.1v1.1h-1.1zM28 6h1.1v1.1h-1.1zM12 8h1.1v1.1h-1.1zM14 9h1.1v1.1h-1.1zM11 10h1.1v1.1h-1.1zM14 10h1.1v1.1h-1.1zM17 10h1.1v1.1h-1.1zM0 13h1.1v1.1h-1.1zM18 13h1.1v1.1h-1.1zM5 14h1.1v1.1h-1.1zM16 15h1.1v1.1h-1.1zM18 15h1.1v1.1h-1.1zM20 15h1.1v1.1h-1.1zM18 16h1.1v1.1h-1.1zM0 17h1.1v1.1h-1.1zM10 17h1.1v1.1h-1.1zM11 17h1.1v1.1h-1.1zM19 18h1.1v1.1h-1.1zM6 20h1.1v1.1h-1.1zM18 22h1.1v1.1h-1.1zM20 22h1.1v1.1h-1.1zM8 23h1.1v1.1h-1.1zM28 24h1.1v1.1h-1.1zM10 26h1.1v1.1h-1.1zM12 26h1.1v1.1h-1.1zM20 26h1.1v1.1h-1.1zM0 27h1.1v1.1h-1.1zM23 27h1.1v1.1h-1.1zM26 29h1.1v1.1h-1.1zM4 31h1.1v1.1h-1.1z"/><path fill="#09bcbe" d="M5 7h1.1v1.1h-1.1z"/><path fill="#2a93ed" d="M20 8h1.1v1.1h-1.1zM6 12h1.1v1.1h-1.1zM21 19h1.1v1.1h-1.1zM13 21h1.1v1.1h-1.1zM9 22h1.1v1.1h-1.1zM1 28h1.1v1.1h-1.1zM1 29h1.1v1.1h-1.1zM0 31h1.1v1.1h-1.1zM17 31h1.1v1.1h-1.1z"/><path fill="#fbbc3d" d="M21 8h1.1v1.1h-1.1z"/><path fill="#f0ba36" d="M29 9h1.1v1.1h-1.1zM17 14h1.1v1.1h-1.1zM17 22h1.1v1.1h-1.1zM20 31h1.1v1.1h-1.1z"/><path fill="#35c799" d="M31 9h1.1v1.1h-1.1zM29 27h1.1v1.1h-1.1zM26 28h1.1v1.1h-1.1z"/><path fill="#f5e626" d="M12 10h1.1v1.1h-1.1zM13 12h1.1v1.1h-1.1zM17 15h1.1v1.1h-1.1zM9 19h1.1v1.1h-1.1zM7 30h1.1v1.1h-1.1z"/><path fill="#21c1b0" d="M16 10h1.1v1.1h-1.1z"/><path fill="#f5e327" d="M2 11h1.1v1.1h-1.1z"/><path fill="#f9d62d" d="M15 11h1.1v1.1h-1.1z"/><path fill="#2ac3a9" d="M10 14h1.1v1.1h-1.1z"/><path fill="#0ebebb" d="M15 14h1.1v1.1h-1.1zM11 21h1.1v1.1h-1.1z"/><path fill="#fec438" d="M21 14h1.1v1.1h-1.1zM26 23h1.1v1.1h-1.1zM2 24h1.1v1.1h-1.1z"/><path fill="#4852f4" d="M30 14h1.1v1.1h-1.1zM25 31h1.1v1.1h-1.1z"/><path fill="#febe3c" d="M2 16h1.1v1.1h-1.1z"/><path fill="#53cc7d" d="M23 16h1.1v1.1h-1.1z"/><path fill="#26c2ad" d="M30 19h1.1v1.1h-1.1z"/><path fill="#fdcd32" d="M24 20h1.1v1.1h-1.1z"/><path fill="#d2bf27" d="M30 20h1.1v1.1h-1.1zM13 23h1.1v1.1h-1.1z"/><path fill="#02b7cb" d="M20 21h1.1v1.1h-1.1z"/><path fill="#fec13a" d="M0 24h1.1v1.1h-1.1z"/><path fill="#15bfb7" d="M11 25h1.1v1.1h-1.1z"/><path fill="#d8be28" d="M28 27h1.1v1.1h-1.1z"/><path fill="#0fb2d4" d="M9 29h1.1v1.1h-1.1zM23 29h1.1v1.1h-1.1z"/><path fill="#3dc991" d="M19 31h1.1v1.1h-1.1z"/></g><rect x="552.2" y="103.6" width="123" height="123" fill="#000" opacity="0.65" filter="url(#sh)"/><g transform="translate(547.20,97.60) scale(3.8594,3.8594)"><path fill="#f9fb15" d="M0 0h1.1v1.1h-1.1zM1 1h1.1v1.1h-1.1zM2 2h1.1v1.1h-1.1zM3 3h1.1v1.1h-1.1zM4 4h1.1v1.1h-1.1zM5 5h1.1v1.1h-1.1zM6 6h1.1v1.1h-1.1zM7 7h1.1v1.1h-1.1zM8 8h1.1v1.1h-1.1zM9 9h1.1v1.1h-1.1zM10 10h1.1v1.1h-1.1zM11 11h1.1v1.1h-1.1zM20 11h1.1v1.1h-1.1zM12 12h1.1v1.1h-1.1zM13 13h1.1v1.1h-1.1zM14 14h1.1v1.1h-1.1zM15 15h1.1v1.1h-1.1zM16 16h1.1v1.1h-1.1zM17 17h1.1v1.1h-1.1zM18 18h1.1v1.1h-1.1zM19 19h1.1v1.1h-1.1zM20 20h1.1v1.1h-1.1zM21 21h1.1v1.1h-1.1zM22 22h1.1v1.1h-1.1zM23 23h1.1v1.1h-1.1zM24 24h1.1v1.1h-1.1zM25 25h1.1v1.1h-1.1zM26 26h1.1v1.1h-1.1zM27 27h1.1v1.1h-1.1zM28 28h1.1v1.1h-1.1zM29 29h1.1v1.1h-1.1zM30 30h1.1v1.1h-1.1zM21 31h1.1v1.1h-1.1zM31 31h1.1v1.1h-1.1z"/><path fill="#4852f4" d="M1 0h1.1v1.1h-1.1zM29 0h1.1v1.1h-1.1zM27 3h1.1v1.1h-1.1zM23 4h1.1v1.1h-1.1zM31 10h1.1v1.1h-1.1zM28 12h1.1v1.1h-1.1zM23 16h1.1v1.1h-1.1zM25 19h1.1v1.1h-1.1zM1 25h1.1v1.1h-1.1zM31 29h1.1v1.1h-1.1z"/><path fill="#4434d0" d="M2 0h1.1v1.1h-1.1zM10 0h1.1v1.1h-1.1zM23 1h1.1v1.1h-1.1zM21 2h1.1v1.1h-1.1zM5 3h1.1v1.1h-1.1zM26 3h1.1v1.1h-1.1zM30 4h1.1v1.1h-1.1zM11 5h1.1v1.1h-1.1zM1 6h1.1v1.1h-1.1zM7 6h1.1v1.1h-1.1zM14 6h1.1v1.1h-1.1zM30 6h1.1v1.1h-1.1zM13 7h1.1v1.1h-1.1zM20 7h1.1v1.1h-1.1zM27 7h1.1v1.1h-1.1zM25 8h1.1v1.1h-1.1zM30 11h1.1v1.1h-1.1zM26 12h1.1v1.1h-1.1zM8 16h1.1v1.1h-1.1zM29 17h1.1v1.1h-1.1zM20 18h1.1v1.1h-1.1zM6 20h1.1v1.1h-1.1zM7 20h1.1v1.1h-1.1zM14 21h1.1v1.1h-1.1zM27 22h1.1v1.1h-1.1zM30 22h1.1v1.1h-1.1zM1 24h1.1v1.1h-1.1zM26 24h1.1v1.1h-1.1zM24 25h1.1v1.1h-1.1zM24 26h1.1v1.1h-1.1zM25 26h1.1v1.1h-1.1zM24 27h1.1v1.1h-1.1zM2 28h1.1v1.1h-1.1zM5 29h1.1v1.1h-1.1zM28 29h1.1v1.1h-1.1zM5 30h1.1v1.1h-1.1zM8 30h1.1v1.1h-1.1zM24 30h1.1v1.1h-1.1zM28 31h1.1v1.1h-1.1z"/><path fill="#259de7" d="M3 0h1.1v1.1h-1.1zM26 2h1.1v1.1h-1.1zM26 5h1.1v1.1h-1.1zM5 6h1.1v1.1h-1.1zM15 8h1.1v1.1h-1.1zM12 14h1.1v1.1h-1.1zM17 15h1.1v1.1h-1.1zM7 21h1.1v1.1h-1.1zM29 27h1.1v1.1h-1.1z"/><path fill="#2798ea" d="M4 0h1.1v1.1h-1.1zM12 2h1.1v1.1h-1.1zM7 4h1.1v1.1h-1.1zM18 4h1.1v1.1h-1.1zM3 8h1.1v1.1h-1.1zM23 14h1.1v1.1h-1.1zM3 15h1.1v1.1h-1.1zM31 15h1.1v1.1h-1.1zM4 22h1.1v1.1h-1.1zM17 24h1.1v1.1h-1.1zM0 26h1.1v1.1h-1.1z"/><path fill="#f5e924" d="M5 0h1.1v1.1h-1.1zM2 20h1.1v1.1h-1.1zM11 22h1.1v1.1h-1.1z"/><path fill="#2e86f7" d="M6 0h1.1v1.1h-1.1zM31 0h1.1v1.1h-1.1zM17 1h1.1v1.1h-1.1zM30 2h1.1v1.1h-1.1zM6 3h1.1v1.1h-1.1zM9 3h1.1v1.1h-1.1zM12 4h1.1v1.1h-1.1zM15 4h1.1v1.1h-1.1zM13 5h1.1v1.1h-1.1zM29 8h1.1v1.1h-1.1zM3 9h1.1v1.1h-1.1zM6 14h1.1v1.1h-1.1zM11 16h1.1v1.1h-1.1zM15 16h1.1v1.1h-1.1zM24 17h1.1v1.1h-1.1zM31 18h1.1v1.1h-1.1zM9 19h1.1v1.1h-1.1zM21 22h1.1v1.1h-1.1zM5 23h1.1v1.1h-1.1zM7 23h1.1v1.1h-1.1zM20 26h1.1v1.1h-1.1zM5 28h1.1v1.1h-1.1zM15 31h1.1v1.1h-1.1z"/><path fill="#16aeda" d="M7 0h1.1v1.1h-1.1zM4 9h1.1v1.1h-1.1zM21 10h1.1v1.1h-1.1zM2 16h1.1v1.1h-1.1zM0 19h1.1v1.1h-1.1zM4 23h1.1v1.1h-1.1zM9 26h1.1v1.1h-1.1zM15 28h1.1v1.1h-1.1zM14 31h1.1v1.1h-1.1z"/><path fill="#2b91ef" d="M8 0h1.1v1.1h-1.1zM8 1h1.1v1.1h-1.1zM31 1h1.1v1.1h-1.1zM15 2h1.1v1.1h-1.1zM21 8h1.1v1.1h-1.1zM26 10h1.1v1.1h-1.1zM7 11h1.1v1.1h-1.1zM18 12h1.1v1.1h-1.1zM3 14h1.1v1.1h-1.1zM17 14h1.1v1.1h-1.1zM12 15h1.1v1.1h-1.1zM31 21h1.1v1.1h-1.1zM7 22h1.1v1.1h-1.1zM8 22h1.1v1.1h-1.1zM16 22h1.1v1.1h-1.1zM27 23h1.1v1.1h-1.1zM25 30h1.1v1.1h-1.1z"/><path fill="#20a4e3" d="M9 0h1.1v1.1h-1.1zM11 0h1.1v1.1h-1.1zM18 2h1.1v1.1h-1.1zM0 3h1.1v1.1h-1.1zM14 12h1.1v1.1h-1.1zM2 15h1.1v1.1h-1.1zM19 16h1.1v1.1h-1.1zM30 19h1.1v1.1h-1.1zM9 20h1.1v1.1h-1.1zM4 27h1.1v1.1h-1.1z"/><path fill="#fbbc3d" d="M12 0h1.1v1.1h-1.1zM10 3h1.1v1.1h-1.1zM14 13h1.1v1.1h-1.1zM6 15h1.1v1.1h-1.1zM12 18h1.1v1.1h-1.1zM22 18h1.1v1.1h-1.1zM14 27h1.1v1.1h-1.1z"/><path fill="#f6ef20" d="M13 0h1.1v1.1h-1.1zM0 1h1.1v1.1h-1.1zM8 14h1.1v1.1h-1.1zM20 16h1.1v1.1h-1.1zM11 29h1.1v1.1h-1.1z"/><path fill="#1fa6e2" d="M14 0h1.1v1.1h-1.1zM6 2h1.1v1.1h-1.1zM3 6h1.1v1.1h-1.1zM2 10h1.1v1.1h-1.1zM7 17h1.1v1.1h-1.1zM21 20h1.1v1.1h-1.1z"/><path fill="#484ff2" d="M15 0h1.1v1.1h-1.1zM21 0h1.1v1.1h-1.1zM22 1h1.1v1.1h-1.1zM2 3h1.1v1.1h-1.1zM14 3h1.1v1.1h-1.1zM23 3h1.1v1.1h-1.1zM2 5h1.1v1.1h-1.1zM19 5h1.1v1.1h-1.1zM11 6h1.1v1.1h-1.1zM31 6h1.1v1.1h-1.1zM23 11h1.1v1.1h-1.1zM10 12h1.1v1.1h-1.1zM25 14h1.1v1.1h-1.1zM6 16h1.1v1.1h-1.1zM25 20h1.1v1.1h-1.1zM16 21h1.1v1.1h-1.1zM0 22h1.1v1.1h-1.1zM21 23h1.1v1.1h-1.1zM5 24h1.1v1.1h-1.1zM19 24h1.1v1.1h-1.1zM26 25h1.1v1.1h-1.1zM15 26h1.1v1.1h-1.1zM6 27h1.1v1.1h-1.1zM25 28h1.1v1.1h-1.1zM31 28h1.1v1.1h-1.1zM7 29h1.1v1.1h-1.1zM29 30h1.1v1.1h-1.1zM20 31h1.1v1.1h-1.1z"/><path fill="#4849ed" d="M16 0h1.1v1.1h-1.1zM17 2h1.1v1.1h-1.1zM22 4h1.1v1.1h-1.1zM16 5h1.1v1.1h-1.1zM30 5h1.1v1.1h-1.1zM2 6h1.1v1.1h-1.1zM17 7h1.1v1.1h-1.1zM28 7h1.1v1.1h-1.1zM31 8h1.1v1.1h-1.1zM5 12h1.1v1.1h-1.1zM22 12h1.1v1.1h-1.1zM1 14h1.1v1.1h-1.1zM20 14h1.1v1.1h-1.1zM21 15h1.1v1.1h-1.1zM20 17h1.1v1.1h-1.1zM8 18h1.1v1.1h-1.1zM16 18h1.1v1.1h-1.1zM24 18h1.1v1.1h-1.1zM11 19h1.1v1.1h-1.1zM24 22h1.1v1.1h-1.1zM2 24h1.1v1.1h-1.1zM11 24h1.1v1.1h-1.1zM20 24h1.1v1.1h-1.1zM2 25h1.1v1.1h-1.1zM29 26h1.1v1.1h-1.1zM13 28h1.1v1.1h-1.1zM2 29h1.1v1.1h-1.1zM25 29h1.1v1.1h-1.1zM14 30h1.1v1.1h-1.1z"/><path fill="#f9ba3d" d="M17 0h1.1v1.1h-1.1zM17 8h1.1v1.1h-1.1z"/><path fill="#484cf0" d="M18 0h1.1v1.1h-1.1zM17 4h1.1v1.1h-1.1zM10 5h1.1v1.1h-1.1zM12 5h1.1v1.1h-1.1zM31 5h1.1v1.1h-1.1zM15 6h1.1v1.1h-1.1zM23 8h1.1v1.1h-1.1zM2 9h1.1v1.1h-1.1zM17 12h1.1v1.1h-1.1zM20 12h1.1v1.1h-1.1zM27 12h1.1v1.1h-1.1zM7 14h1.1v1.1h-1.1zM8 17h1.1v1.1h-1.1zM15 22h1.1v1.1h-1.1zM16 24h1.1v1.1h-1.1zM13 25h1.1v1.1h-1.1zM15 25h1.1v1.1h-1.1zM19 25h1.1v1.1h-1.1zM20 25h1.1v1.1h-1.1zM18 27h1.1v1.1h-1.1zM21 27h1.1v1.1h-1.1zM1 28h1.1v1.1h-1.1zM3 28h1.1v1.1h-1.1zM6 28h1.1v1.1h-1.1zM11 28h1.1v1.1h-1.1zM17 30h1.1v1.1h-1.1zM19 30h1.1v1.1h-1.1zM8 31h1.1v1.1h-1.1zM13 31h1.1v1.1h-1.1zM16 31h1.1v1.1h-1.1zM18 31h1.1v1.1h-1.1z"/><path fill="#4563fc" d="M19 0h1.1v1.1h-1.1zM13 2h1.1v1.1h-1.1zM20 2h1.1v1.1h-1.1zM14 4h1.1v1.1h-1.1zM25 4h1.1v1.1h-1.1zM3 5h1.1v1.1h-1.1zM22 5h1.1v1.1h-1.1zM0 6h1.1v1.1h-1.1zM19 6h1.1v1.1h-1.1zM1 10h1.1v1.1h-1.1zM16 10h1.1v1.1h-1.1zM16 12h1.1v1.1h-1.1zM18 13h1.1v1.1h-1.1zM21 13h1.1v1.1h-1.1zM14 15h1.1v1.1h-1.1zM0 16h1.1v1.1h-1.1zM5 16h1.1v1.1h-1.1zM30 20h1.1v1.1h-1.1zM12 21h1.1v1.1h-1.1zM3 22h1.1v1.1h-1.1zM20 23h1.1v1.1h-1.1zM9 27h1.1v1.1h-1.1zM0 28h1.1v1.1h-1.1zM20 28h1.1v1.1h-1.1z"/><path fill="#4741e5" d="M20 0h1.1v1.1h-1.1zM31 2h1.1v1.1h-1.1zM21 4h1.1v1.1h-1.1zM18 5h1.1v1.1h-1.1zM6 9h1.1v1.1h-1.1zM8 9h1.1v1.1h-1.1zM25 9h1.1v1.1h-1.1zM4 10h1.1v1.1h-1.1zM27 11h1.1v1.1h-1.1zM19 13h1.1v1.1h-1.1zM24 13h1.1v1.1h-1.1zM25 13h1.1v1.1h-1.1zM27 13h1.1v1.1h-1.1zM28 13h1.1v1.1h-1.1zM28 14h1.1v1.1h-1.1zM21 16h1.1v1.1h-1.1zM13 18h1.1v1.1h-1.1zM10 20h1.1v1.1h-1.1zM17 20h1.1v1.1h-1.1zM27 20h1.1v1.1h-1.1zM30 21h1.1v1.1h-1.1zM12 24h1.1v1.1h-1.1zM7 25h1.1v1.1h-1.1zM19 27h1.1v1.1h-1.1zM31 27h1.1v1.1h-1.1zM18 28h1.1v1.1h-1.1zM21 29h1.1v1.1h-1.1zM0 30h1.1v1.1h-1.1zM24 31h1.1v1.1h-1.1zM25 31h1.1v1.1h-1.1z"/><path fill="#3c72ff" d="M22 0h1.1v1.1h-1.1zM6 7h1.1v1.1h-1.1zM12 7h1.1v1.1h-1.1zM15 7h1.1v1.1h-1.1zM24 8h1.1v1.1h-1.1zM30 8h1.1v1.1h-1.1zM0 12h1.1v1.1h-1.1zM31 12h1.1v1.1h-1.1zM0 13h1.1v1.1h-1.1zM29 13h1.1v1.1h-1.1zM27 14h1.1v1.1h-1.1zM5 20h1.1v1.1h-1.1zM13 21h1.1v1.1h-1.1zM5 22h1.1v1.1h-1.1zM25 23h1.1v1.1h-1.1zM4 28h1.1v1.1h-1.1zM13 29h1.1v1.1h-1.1zM15 29h1.1v1.1h-1.1zM30 29h1.1v1.1h-1.1z"/><path fill="#337bfd" d="M23 0h1.1v1.1h-1.1zM19 4h1.1v1.1h-1.1zM29 4h1.1v1.1h-1.1zM8 5h1.1v1.1h-1.1zM14 7h1.1v1.1h-1.1zM9 8h1.1v1.1h-1.1zM11 8h1.1v1.1h-1.1zM21 9h1.1v1.1h-1.1zM18 10h1.1v1.1h-1.1zM21 12h1.1v1.1h-1.1zM26 13h1.1v1.1h-1.1zM4 15h1.1v1.1h-1.1zM4 16h1.1v1.1h-1.1zM12 17h1.1v1.1h-1.1zM22 20h1.1v1.1h-1.1zM23 20h1.1v1.1h-1.1zM29 24h1.1v1.1h-1.1zM5 25h1.1v1.1h-1.1zM9 28h1.1v1.1h-1.1zM26 28h1.1v1.1h-1.1z"/><path fill="#269ae8" d="M24 0h1.1v1.1h-1.1zM20 3h1.1v1.1h-1.1zM9 6h1.1v1.1h-1.1zM1 19h1.1v1.1h-1.1zM1 20h1.1v1.1h-1.1zM19 23h1.1v1.1h-1.1zM5 26h1.1v1.1h-1.1zM8 26h1.1v1.1h-1.1zM3 29h1.1v1.1h-1.1zM8 29h1.1v1.1h-1.1z"/><path fill="#3975fe" d="M25 0h1.1v1.1h-1.1zM28 0h1.1v1.1h-1.1zM12 1h1.1v1.1h-1.1zM6 8h1.1v1.1h-1.1zM26 9h1.1v1.1h-1.1zM20 10h1.1v1.1h-1.1zM9 11h1.1v1.1h-1.1zM22 13h1.1v1.1h-1.1zM11 14h1.1v1.1h-1.1zM26 14h1.1v1.1h-1.1zM29 15h1.1v1.1h-1.1zM27 16h1.1v1.1h-1.1zM2 18h1.1v1.1h-1.1zM20 19h1.1v1.1h-1.1zM28 24h1.1v1.1h-1.1zM16 27h1.1v1.1h-1.1zM29 28h1.1v1.1h-1.1zM10 29h1.1v1.1h-1.1zM3 30h1.1v1.1h-1.1zM4 30h1.1v1.1h-1.1zM11 31h1.1v1.1h-1.1z"/><path fill="#4744e8" d="M26 0h1.1v1.1h-1.1zM31 4h1.1v1.1h-1.1zM25 5h1.1v1.1h-1.1zM27 5h1.1v1.1h-1.1zM29 5h1.1v1.1h-1.1zM24 7h1.1v1.1h-1.1zM19 8h1.1v1.1h-1.1zM7 10h1.1v1.1h-1.1zM9 10h1.1v1.1h-1.1zM6 11h1.1v1.1h-1.1zM8 12h1.1v1.1h-1.1zM15 13h1.1v1.1h-1.1zM0 14h1.1v1.1h-1.1zM4 14h1.1v1.1h-1.1zM30 14h1.1v1.1h-1.1zM0 15h1.1v1.1h-1.1zM0 17h1.1v1.1h-1.1zM23 17h1.1v1.1h-1.1zM30 18h1.1v1.1h-1.1zM0 20h1.1v1.1h-1.1zM8 20h1.1v1.1h-1.1zM0 21h1.1v1.1h-1.1zM1 21h1.1v1.1h-1.1zM4 21h1.1v1.1h-1.1zM27 21h1.1v1.1h-1.1zM29 21h1.1v1.1h-1.1zM20 22h1.1v1.1h-1.1zM29 22h1.1v1.1h-1.1zM30 23h1.1v1.1h-1.1zM30 28h1.1v1.1h-1.1zM9 31h1.1v1.1h-1.1z"/><path fill="#3f6eff" d="M27 0h1.1v1.1h-1.1zM14 8h1.1v1.1h-1.1zM31 9h1.1v1.1h-1.1zM3 10h1.1v1.1h-1.1zM24 10h1.1v1.1h-1.1zM27 10h1.1v1.1h-1.1zM11 13h1.1v1.1h-1.1zM16 14h1.1v1.1h-1.1zM12 16h1.1v1.1h-1.1zM18 16h1.1v1.1h-1.1zM4 17h1.1v1.1h-1.1zM21 18h1.1v1.1h-1.1zM3 19h1.1v1.1h-1.1zM4 19h1.1v1.1h-1.1zM18 19h1.1v1.1h-1.1zM20 21h1.1v1.1h-1.1zM7 27h1.1v1.1h-1.1zM23 27h1.1v1.1h-1.1zM8 28h1.1v1.1h-1.1zM12 28h1.1v1.1h-1.1zM19 28h1.1v1.1h-1.1zM17 29h1.1v1.1h-1.1z"/><path fill="#473ee1" d="M30 0h1.1v1.1h-1.1zM18 1h1.1v1.1h-1.1zM0 2h1.1v1.1h-1.1zM7 2h1.1v1.1h-1.1zM18 3h1.1v1.1h-1.1zM6 4h1.1v1.1h-1.1zM6 5h1.1v1.1h-1.1zM7 5h1.1v1.1h-1.1zM1 7h1.1v1.1h-1.1zM19 10h1.1v1.1h-1.1zM30 10h1.1v1.1h-1.1zM23 12h1.1v1.1h-1.1zM25 12h1.1v1.1h-1.1zM7 15h1.1v1.1h-1.1zM11 17h1.1v1.1h-1.1zM17 19h1.1v1.1h-1.1zM28 19h1.1v1.1h-1.1zM31 19h1.1v1.1h-1.1zM9 22h1.1v1.1h-1.1zM11 23h1.1v1.1h-1.1zM15 23h1.1v1.1h-1.1zM18 23h1.1v1.1h-1.1zM26 23h1.1v1.1h-1.1zM8 25h1.1v1.1h-1.1zM13 27h1.1v1.1h-1.1zM4 29h1.1v1.1h-1.1zM14 29h1.1v1.1h-1.1zM22 29h1.1v1.1h-1.1zM27 30h1.1v1.1h-1.1zM4 31h1.1v1.1h-1.1zM5 31h1.1v1.1h-1.1z"/><path fill="#09bcbe" d="M2 1h1.1v1.1h-1.1z"/><path fill="#416bfe" d="M3 1h1.1v1.1h-1.1zM4 1h1.1v1.1h-1.1zM15 1h1.1v1.1h-1.1zM19 1h1.1v1.1h-1.1zM17 3h1.1v1.1h-1.1zM19 3h1.1v1.1h-1.1zM14 5h1.1v1.1h-1.1zM24 5h1.1v1.1h-1.1zM18 8h1.1v1.1h-1.1zM11 9h1.1v1.1h-1.1zM24 12h1.1v1.1h-1.1zM20 13h1.1v1.1h-1.1zM26 15h1.1v1.1h-1.1zM1 16h1.1v1.1h-1.1zM19 17h1.1v1.1h-1.1zM27 17h1.1v1.1h-1.1zM8 19h1.1v1.1h-1.1zM16 20h1.1v1.1h-1.1zM6 24h1.1v1.1h-1.1zM28 27h1.1v1.1h-1.1zM6 29h1.1v1.1h-1.1zM16 29h1.1v1.1h-1.1zM2 30h1.1v1.1h-1.1z"/><path fill="#4332cb" d="M5 1h1.1v1.1h-1.1zM26 1h1.1v1.1h-1.1zM4 2h1.1v1.1h-1.1zM28 2h1.1v1.1h-1.1zM16 3h1.1v1.1h-1.1zM5 4h1.1v1.1h-1.1zM17 6h1.1v1.1h-1.1zM27 6h1.1v1.1h-1.1zM9 7h1.1v1.1h-1.1zM10 7h1.1v1.1h-1.1zM28 8h1.1v1.1h-1.1zM0 9h1.1v1.1h-1.1zM23 9h1.1v1.1h-1.1zM27 9h1.1v1.1h-1.1zM9 15h1.1v1.1h-1.1zM29 16h1.1v1.1h-1.1zM30 16h1.1v1.1h-1.1zM31 16h1.1v1.1h-1.1zM28 17h1.1v1.1h-1.1zM9 18h1.1v1.1h-1.1zM23 18h1.1v1.1h-1.1zM14 19h1.1v1.1h-1.1zM4 20h1.1v1.1h-1.1zM26 20h1.1v1.1h-1.1zM10 21h1.1v1.1h-1.1zM24 21h1.1v1.1h-1.1zM10 24h1.1v1.1h-1.1zM13 24h1.1v1.1h-1.1zM31 24h1.1v1.1h-1.1zM10 25h1.1v1.1h-1.1zM17 26h1.1v1.1h-1.1zM31 26h1.1v1.1h-1.1zM11 27h1.1v1.1h-1.1zM24 28h1.1v1.1h-1.1zM9 29h1.1v1.1h-1.1zM12 30h1.1v1.1h-1.1zM17 31h1.1v1.1h-1.1z"/><path fill="#2f81fa" d="M6 1h1.1v1.1h-1.1zM9 1h1.1v1.1h-1.1zM23 2h1.1v1.1h-1.1zM29 3h1.1v1.1h-1.1zM16 4h1.1v1.1h-1.1zM1 5h1.1v1.1h-1.1zM19 7h1.1v1.1h-1.1zM5 8h1.1v1.1h-1.1zM10 9h1.1v1.1h-1.1zM0 10h1.1v1.1h-1.1zM0 11h1.1v1.1h-1.1zM22 14h1.1v1.1h-1.1zM2 17h1.1v1.1h-1.1zM3 18h1.1v1.1h-1.1zM27 18h1.1v1.1h-1.1zM15 20h1.1v1.1h-1.1zM18 21h1.1v1.1h-1.1zM19 22h1.1v1.1h-1.1zM31 22h1.1v1.1h-1.1zM14 23h1.1v1.1h-1.1zM8 24h1.1v1.1h-1.1zM6 25h1.1v1.1h-1.1zM9 25h1.1v1.1h-1.1zM11 25h1.1v1.1h-1.1zM28 25h1.1v1.1h-1.1zM30 25h1.1v1.1h-1.1zM28 26h1.1v1.1h-1.1zM12 29h1.1v1.1h-1.1zM28 30h1.1v1.1h-1.1zM30 31h1.1v1.1h-1.1z"/><path fill="#4466fd" d="M7 1h1.1v1.1h-1.1zM27 1h1.1v1.1h-1.1zM27 2h1.1v1.1h-1.1zM24 3h1.1v1.1h-1.1zM24 4h1.1v1.1h-1.1zM20 6h1.1v1.1h-1.1zM8 7h1.1v1.1h-1.1zM22 7h1.1v1.1h-1.1zM17 10h1.1v1.1h-1.1zM25 11h1.1v1.1h-1.1zM31 11h1.1v1.1h-1.1zM31 13h1.1v1.1h-1.1zM15 14h1.1v1.1h-1.1zM1 15h1.1v1.1h-1.1zM10 15h1.1v1.1h-1.1zM11 15h1.1v1.1h-1.1zM5 19h1.1v1.1h-1.1zM15 21h1.1v1.1h-1.1zM9 24h1.1v1.1h-1.1zM14 25h1.1v1.1h-1.1zM6 30h1.1v1.1h-1.1z"/><path fill="#2ac3a9" d="M10 1h1.1v1.1h-1.1zM5 18h1.1v1.1h-1.1z"/><path fill="#22a2e4" d="M11 1h1.1v1.1h-1.1zM22 2h1.1v1.1h-1.1zM20 5h1.1v1.1h-1.1zM12 6h1.1v1.1h-1.1zM13 6h1.1v1.1h-1.1zM21 6h1.1v1.1h-1.1zM5 10h1.1v1.1h-1.1zM25 10h1.1v1.1h-1.1zM4 11h1.1v1.1h-1.1zM17 11h1.1v1.1h-1.1zM24 11h1.1v1.1h-1.1zM3 16h1.1v1.1h-1.1zM29 18h1.1v1.1h-1.1zM29 20h1.1v1.1h-1.1zM4 24h1.1v1.1h-1.1zM4 26h1.1v1.1h-1.1zM1 27h1.1v1.1h-1.1zM1 31h1.1v1.1h-1.1z"/><path fill="#f7f51b" d="M13 1h1.1v1.1h-1.1zM5 9h1.1v1.1h-1.1zM6 18h1.1v1.1h-1.1zM7 19h1.1v1.1h-1.1z"/><path fill="#317efb" d="M14 1h1.1v1.1h-1.1zM1 2h1.1v1.1h-1.1zM1 3h1.1v1.1h-1.1zM8 3h1.1v1.1h-1.1zM15 5h1.1v1.1h-1.1zM22 6h1.1v1.1h-1.1zM3 7h1.1v1.1h-1.1zM0 8h1.1v1.1h-1.1zM7 9h1.1v1.1h-1.1zM19 9h1.1v1.1h-1.1zM24 9h1.1v1.1h-1.1zM16 11h1.1v1.1h-1.1zM19 14h1.1v1.1h-1.1zM8 15h1.1v1.1h-1.1zM20 15h1.1v1.1h-1.1zM26 16h1.1v1.1h-1.1zM23 22h1.1v1.1h-1.1zM13 23h1.1v1.1h-1.1zM22 23h1.1v1.1h-1.1zM22 25h1.1v1.1h-1.1zM7 26h1.1v1.1h-1.1zM18 29h1.1v1.1h-1.1zM15 30h1.1v1.1h-1.1zM18 30h1.1v1.1h-1.1z"/><path fill="#19acdc" d="M16 1h1.1v1.1h-1.1zM29 1h1.1v1.1h-1.1zM11 3h1.1v1.1h-1.1zM25 7h1.1v1.1h-1.1zM1 11h1.1v1.1h-1.1zM9 12h1.1v1.1h-1.1zM22 15h1.1v1.1h-1.1zM25 18h1.1v1.1h-1.1zM28 18h1.1v1.1h-1.1zM13 20h1.1v1.1h-1.1zM19 21h1.1v1.1h-1.1zM3 23h1.1v1.1h-1.1zM2 26h1.1v1.1h-1.1zM30 27h1.1v1.1h-1.1z"/><path fill="#4747eb" d="M20 1h1.1v1.1h-1.1zM28 1h1.1v1.1h-1.1zM2 4h1.1v1.1h-1.1zM4 6h1.1v1.1h-1.1zM25 6h1.1v1.1h-1.1zM26 6h1.1v1.1h-1.1zM4 7h1.1v1.1h-1.1zM30 7h1.1v1.1h-1.1zM15 9h1.1v1.1h-1.1zM29 10h1.1v1.1h-1.1zM21 11h1.1v1.1h-1.1zM15 12h1.1v1.1h-1.1zM19 12h1.1v1.1h-1.1zM1 13h1.1v1.1h-1.1zM17 13h1.1v1.1h-1.1zM5 14h1.1v1.1h-1.1zM18 15h1.1v1.1h-1.1zM30 15h1.1v1.1h-1.1zM1 17h1.1v1.1h-1.1zM15 17h1.1v1.1h-1.1zM30 17h1.1v1.1h-1.1zM16 19h1.1v1.1h-1.1zM3 20h1.1v1.1h-1.1zM23 21h1.1v1.1h-1.1zM12 22h1.1v1.1h-1.1zM25 24h1.1v1.1h-1.1zM30 24h1.1v1.1h-1.1zM12 25h1.1v1.1h-1.1zM29 25h1.1v1.1h-1.1zM10 26h1.1v1.1h-1.1zM21 26h1.1v1.1h-1.1zM12 27h1.1v1.1h-1.1zM15 27h1.1v1.1h-1.1zM16 28h1.1v1.1h-1.1zM27 29h1.1v1.1h-1.1zM27 31h1.1v1.1h-1.1z"/><path fill="#4369fe" d="M21 1h1.1v1.1h-1.1zM12 3h1.1v1.1h-1.1zM27 4h1.1v1.1h-1.1zM22 8h1.1v1.1h-1.1zM2 11h1.1v1.1h-1.1zM30 13h1.1v1.1h-1.1zM21 19h1.1v1.1h-1.1zM2 22h1.1v1.1h-1.1zM10 22h1.1v1.1h-1.1zM29 23h1.1v1.1h-1.1zM3 24h1.1v1.1h-1.1zM27 25h1.1v1.1h-1.1zM30 26h1.1v1.1h-1.1zM3 27h1.1v1.1h-1.1zM17 28h1.1v1.1h-1.1z"/><path fill="#4537d5" d="M24 1h1.1v1.1h-1.1zM3 2h1.1v1.1h-1.1zM29 2h1.1v1.1h-1.1zM13 3h1.1v1.1h-1.1zM25 3h1.1v1.1h-1.1zM11 4h1.1v1.1h-1.1zM23 6h1.1v1.1h-1.1zM26 7h1.1v1.1h-1.1zM26 8h1.1v1.1h-1.1zM14 9h1.1v1.1h-1.1zM10 11h1.1v1.1h-1.1zM7 13h1.1v1.1h-1.1zM13 16h1.1v1.1h-1.1zM14 16h1.1v1.1h-1.1zM22 16h1.1v1.1h-1.1zM10 17h1.1v1.1h-1.1zM14 18h1.1v1.1h-1.1zM15 19h1.1v1.1h-1.1zM27 19h1.1v1.1h-1.1zM6 26h1.1v1.1h-1.1zM16 26h1.1v1.1h-1.1zM27 26h1.1v1.1h-1.1zM2 27h1.1v1.1h-1.1zM10 27h1.1v1.1h-1.1zM7 28h1.1v1.1h-1.1zM20 29h1.1v1.1h-1.1zM10 30h1.1v1.1h-1.1zM22 30h1.1v1.1h-1.1zM6 31h1.1v1.1h-1.1zM12 31h1.1v1.1h-1.1zM26 31h1.1v1.1h-1.1z"/><path fill="#2896ec" d="M25 1h1.1v1.1h-1.1zM5 2h1.1v1.1h-1.1zM28 5h1.1v1.1h-1.1zM29 6h1.1v1.1h-1.1zM15 11h1.1v1.1h-1.1zM2 12h1.1v1.1h-1.1zM11 12h1.1v1.1h-1.1zM29 12h1.1v1.1h-1.1zM25 16h1.1v1.1h-1.1zM8 21h1.1v1.1h-1.1zM6 23h1.1v1.1h-1.1zM28 23h1.1v1.1h-1.1zM14 26h1.1v1.1h-1.1zM22 26h1.1v1.1h-1.1zM0 29h1.1v1.1h-1.1zM20 30h1.1v1.1h-1.1z"/><path fill="#463cde" d="M30 1h1.1v1.1h-1.1zM31 3h1.1v1.1h-1.1zM13 4h1.1v1.1h-1.1zM4 5h1.1v1.1h-1.1zM18 6h1.1v1.1h-1.1zM28 6h1.1v1.1h-1.1zM12 9h1.1v1.1h-1.1zM18 9h1.1v1.1h-1.1zM13 11h1.1v1.1h-1.1zM29 11h1.1v1.1h-1.1zM7 12h1.1v1.1h-1.1zM2 13h1.1v1.1h-1.1zM5 13h1.1v1.1h-1.1zM9 16h1.1v1.1h-1.1zM0 18h1.1v1.1h-1.1zM10 19h1.1v1.1h-1.1zM1 22h1.1v1.1h-1.1zM31 23h1.1v1.1h-1.1zM27 24h1.1v1.1h-1.1zM11 26h1.1v1.1h-1.1zM13 26h1.1v1.1h-1.1zM10 28h1.1v1.1h-1.1zM23 28h1.1v1.1h-1.1z"/><path fill="#465dfa" d="M8 2h1.1v1.1h-1.1zM9 2h1.1v1.1h-1.1zM9 4h1.1v1.1h-1.1zM26 4h1.1v1.1h-1.1zM17 5h1.1v1.1h-1.1zM16 7h1.1v1.1h-1.1zM27 8h1.1v1.1h-1.1zM13 10h1.1v1.1h-1.1zM7 18h1.1v1.1h-1.1zM12 19h1.1v1.1h-1.1zM12 20h1.1v1.1h-1.1zM18 20h1.1v1.1h-1.1zM19 20h1.1v1.1h-1.1zM22 21h1.1v1.1h-1.1zM0 23h1.1v1.1h-1.1zM10 23h1.1v1.1h-1.1zM22 24h1.1v1.1h-1.1zM23 24h1.1v1.1h-1.1zM0 27h1.1v1.1h-1.1zM14 28h1.1v1.1h-1.1zM7 30h1.1v1.1h-1.1zM3 31h1.1v1.1h-1.1z"/><path fill="#2c8ef1" d="M10 2h1.1v1.1h-1.1zM10 14h1.1v1.1h-1.1zM4 18h1.1v1.1h-1.1zM26 29h1.1v1.1h-1.1z"/><path fill="#2d89f5" d="M11 2h1.1v1.1h-1.1zM2 8h1.1v1.1h-1.1zM12 8h1.1v1.1h-1.1zM15 18h1.1v1.1h-1.1zM21 30h1.1v1.1h-1.1z"/><path fill="#2e83f9" d="M14 2h1.1v1.1h-1.1zM19 2h1.1v1.1h-1.1zM25 2h1.1v1.1h-1.1zM21 3h1.1v1.1h-1.1zM21 7h1.1v1.1h-1.1zM1 9h1.1v1.1h-1.1zM11 10h1.1v1.1h-1.1zM3 11h1.1v1.1h-1.1zM14 11h1.1v1.1h-1.1zM19 11h1.1v1.1h-1.1zM5 15h1.1v1.1h-1.1zM13 15h1.1v1.1h-1.1zM16 15h1.1v1.1h-1.1zM27 15h1.1v1.1h-1.1zM24 16h1.1v1.1h-1.1zM3 17h1.1v1.1h-1.1zM6 17h1.1v1.1h-1.1zM22 19h1.1v1.1h-1.1zM14 20h1.1v1.1h-1.1zM24 20h1.1v1.1h-1.1zM6 21h1.1v1.1h-1.1zM17 22h1.1v1.1h-1.1zM22 27h1.1v1.1h-1.1zM9 30h1.1v1.1h-1.1zM13 30h1.1v1.1h-1.1z"/><path fill="#3678fe" d="M16 2h1.1v1.1h-1.1zM1 4h1.1v1.1h-1.1zM8 4h1.1v1.1h-1.1zM20 4h1.1v1.1h-1.1zM13 8h1.1v1.1h-1.1zM16 9h1.1v1.1h-1.1zM15 10h1.1v1.1h-1.1zM8 11h1.1v1.1h-1.1zM12 11h1.1v1.1h-1.1zM18 11h1.1v1.1h-1.1zM17 16h1.1v1.1h-1.1zM28 16h1.1v1.1h-1.1zM1 18h1.1v1.1h-1.1zM10 18h1.1v1.1h-1.1zM6 19h1.1v1.1h-1.1zM13 22h1.1v1.1h-1.1zM25 22h1.1v1.1h-1.1zM26 22h1.1v1.1h-1.1zM8 23h1.1v1.1h-1.1zM12 23h1.1v1.1h-1.1zM15 24h1.1v1.1h-1.1zM0 25h1.1v1.1h-1.1zM3 25h1.1v1.1h-1.1z"/><path fill="#f5e626" d="M24 2h1.1v1.1h-1.1zM12 10h1.1v1.1h-1.1zM28 11h1.1v1.1h-1.1zM10 13h1.1v1.1h-1.1zM18 14h1.1v1.1h-1.1zM16 17h1.1v1.1h-1.1z"/><path fill="#2a93ed" d="M4 3h1.1v1.1h-1.1zM28 3h1.1v1.1h-1.1zM28 4h1.1v1.1h-1.1zM16 6h1.1v1.1h-1.1zM23 7h1.1v1.1h-1.1zM7 8h1.1v1.1h-1.1zM28 10h1.1v1.1h-1.1zM4 13h1.1v1.1h-1.1zM29 14h1.1v1.1h-1.1zM17 18h1.1v1.1h-1.1zM28 20h1.1v1.1h-1.1zM2 21h1.1v1.1h-1.1zM9 21h1.1v1.1h-1.1zM5 27h1.1v1.1h-1.1zM25 27h1.1v1.1h-1.1z"/><path fill="#26c2ad" d="M7 3h1.1v1.1h-1.1z"/><path fill="#4330c5" d="M15 3h1.1v1.1h-1.1zM0 5h1.1v1.1h-1.1zM4 12h1.1v1.1h-1.1zM6 13h1.1v1.1h-1.1zM10 16h1.1v1.1h-1.1zM9 17h1.1v1.1h-1.1zM19 18h1.1v1.1h-1.1zM24 19h1.1v1.1h-1.1zM19 29h1.1v1.1h-1.1z"/><path fill="#e7bb2e" d="M22 3h1.1v1.1h-1.1zM31 30h1.1v1.1h-1.1z"/><path fill="#4660fb" d="M30 3h1.1v1.1h-1.1zM8 6h1.1v1.1h-1.1zM2 7h1.1v1.1h-1.1zM18 7h1.1v1.1h-1.1zM4 8h1.1v1.1h-1.1zM20 9h1.1v1.1h-1.1zM23 10h1.1v1.1h-1.1zM2 14h1.1v1.1h-1.1zM24 14h1.1v1.1h-1.1zM7 16h1.1v1.1h-1.1zM11 18h1.1v1.1h-1.1zM11 21h1.1v1.1h-1.1zM28 21h1.1v1.1h-1.1zM6 22h1.1v1.1h-1.1zM9 23h1.1v1.1h-1.1zM4 25h1.1v1.1h-1.1zM17 25h1.1v1.1h-1.1zM23 25h1.1v1.1h-1.1zM31 25h1.1v1.1h-1.1zM1 26h1.1v1.1h-1.1zM22 28h1.1v1.1h-1.1zM23 29h1.1v1.1h-1.1zM16 30h1.1v1.1h-1.1zM0 31h1.1v1.1h-1.1zM19 31h1.1v1.1h-1.1z"/><path fill="#30c5a2" d="M0 4h1.1v1.1h-1.1zM10 4h1.1v1.1h-1.1zM2 19h1.1v1.1h-1.1zM1 23h1.1v1.1h-1.1z"/><path fill="#1da8e0" d="M3 4h1.1v1.1h-1.1zM21 5h1.1v1.1h-1.1zM16 8h1.1v1.1h-1.1zM20 8h1.1v1.1h-1.1zM17 9h1.1v1.1h-1.1zM9 13h1.1v1.1h-1.1zM23 13h1.1v1.1h-1.1zM23 15h1.1v1.1h-1.1zM13 17h1.1v1.1h-1.1zM17 21h1.1v1.1h-1.1zM3 26h1.1v1.1h-1.1zM18 26h1.1v1.1h-1.1zM1 29h1.1v1.1h-1.1zM23 30h1.1v1.1h-1.1zM2 31h1.1v1.1h-1.1z"/><path fill="#f6e028" d="M9 5h1.1v1.1h-1.1zM10 6h1.1v1.1h-1.1zM28 15h1.1v1.1h-1.1zM18 17h1.1v1.1h-1.1zM26 30h1.1v1.1h-1.1z"/><path fill="#4dcb82" d="M23 5h1.1v1.1h-1.1z"/><path fill="#4639d9" d="M24 6h1.1v1.1h-1.1zM28 9h1.1v1.1h-1.1zM22 11h1.1v1.1h-1.1zM3 13h1.1v1.1h-1.1zM9 14h1.1v1.1h-1.1zM24 15h1.1v1.1h-1.1zM25 15h1.1v1.1h-1.1zM26 17h1.1v1.1h-1.1zM31 17h1.1v1.1h-1.1zM3 21h1.1v1.1h-1.1zM18 22h1.1v1.1h-1.1zM28 22h1.1v1.1h-1.1zM21 25h1.1v1.1h-1.1zM12 26h1.1v1.1h-1.1zM26 27h1.1v1.1h-1.1zM27 28h1.1v1.1h-1.1zM11 30h1.1v1.1h-1.1zM10 31h1.1v1.1h-1.1z"/><path fill="#ddbd29" d="M0 7h1.1v1.1h-1.1zM22 10h1.1v1.1h-1.1z"/><path fill="#1baade" d="M5 7h1.1v1.1h-1.1zM1 8h1.1v1.1h-1.1zM6 10h1.1v1.1h-1.1zM5 11h1.1v1.1h-1.1zM26 11h1.1v1.1h-1.1zM1 12h1.1v1.1h-1.1zM3 12h1.1v1.1h-1.1zM13 12h1.1v1.1h-1.1zM8 13h1.1v1.1h-1.1zM26 18h1.1v1.1h-1.1zM2 23h1.1v1.1h-1.1zM24 23h1.1v1.1h-1.1zM20 27h1.1v1.1h-1.1zM21 28h1.1v1.1h-1.1zM24 29h1.1v1.1h-1.1zM7 31h1.1v1.1h-1.1z"/><path fill="#f6f21e" d="M11 7h1.1v1.1h-1.1zM8 10h1.1v1.1h-1.1zM21 17h1.1v1.1h-1.1zM26 19h1.1v1.1h-1.1zM14 24h1.1v1.1h-1.1z"/><path fill="#e2bc2b" d="M29 7h1.1v1.1h-1.1z"/><path fill="#41ca8c" d="M31 7h1.1v1.1h-1.1zM10 8h1.1v1.1h-1.1z"/><path fill="#feca33" d="M13 9h1.1v1.1h-1.1z"/><path fill="#249fe5" d="M22 9h1.1v1.1h-1.1zM29 9h1.1v1.1h-1.1zM21 14h1.1v1.1h-1.1zM31 14h1.1v1.1h-1.1zM14 17h1.1v1.1h-1.1zM13 19h1.1v1.1h-1.1zM5 21h1.1v1.1h-1.1zM0 24h1.1v1.1h-1.1zM23 31h1.1v1.1h-1.1z"/><path fill="#febe3c" d="M30 9h1.1v1.1h-1.1zM26 21h1.1v1.1h-1.1z"/><path fill="#f7dd2a" d="M14 10h1.1v1.1h-1.1z"/><path fill="#f5e327" d="M6 12h1.1v1.1h-1.1zM8 27h1.1v1.1h-1.1z"/><path fill="#13b0d7" d="M30 12h1.1v1.1h-1.1zM16 13h1.1v1.1h-1.1zM25 17h1.1v1.1h-1.1zM17 23h1.1v1.1h-1.1zM18 24h1.1v1.1h-1.1zM23 26h1.1v1.1h-1.1zM17 27h1.1v1.1h-1.1zM1 30h1.1v1.1h-1.1zM22 31h1.1v1.1h-1.1z"/><path fill="#ecba32" d="M12 13h1.1v1.1h-1.1zM22 17h1.1v1.1h-1.1z"/><path fill="#04bbc2" d="M13 14h1.1v1.1h-1.1z"/><path fill="#fec736" d="M19 15h1.1v1.1h-1.1z"/><path fill="#35c799" d="M5 17h1.1v1.1h-1.1z"/><path fill="#33c69e" d="M23 19h1.1v1.1h-1.1z"/><path fill="#0ebebb" d="M29 19h1.1v1.1h-1.1zM29 31h1.1v1.1h-1.1z"/><path fill="#21c1b0" d="M11 20h1.1v1.1h-1.1z"/><path fill="#f5ec22" d="M31 20h1.1v1.1h-1.1zM7 24h1.1v1.1h-1.1z"/><path fill="#f8d92b" d="M25 21h1.1v1.1h-1.1z"/><path fill="#47cb87" d="M14 22h1.1v1.1h-1.1zM19 26h1.1v1.1h-1.1z"/><path fill="#3dc991" d="M16 23h1.1v1.1h-1.1z"/><path fill="#d8be28" d="M21 24h1.1v1.1h-1.1z"/><path fill="#01b8c8" d="M16 25h1.1v1.1h-1.1z"/><path fill="#53cc7d" d="M18 25h1.1v1.1h-1.1z"/></g><rect x="635" y="136.8" width="123" height="123" fill="#000" opacity="0.65" filter="url(#sh)"/><g transform="translate(630.00,130.80) scale(3.8594,3.8594)"><path fill="#f9fb15" d="M0 0h1.1v1.1h-1.1zM1 1h1.1v1.1h-1.1zM2 2h1.1v1.1h-1.1zM3 3h1.1v1.1h-1.1zM18 3h1.1v1.1h-1.1zM4 4h1.1v1.1h-1.1zM5 5h1.1v1.1h-1.1zM6 6h1.1v1.1h-1.1zM7 7h1.1v1.1h-1.1zM8 8h1.1v1.1h-1.1zM9 9h1.1v1.1h-1.1zM7 10h1.1v1.1h-1.1zM10 10h1.1v1.1h-1.1zM11 11h1.1v1.1h-1.1zM12 12h1.1v1.1h-1.1zM13 13h1.1v1.1h-1.1zM14 14h1.1v1.1h-1.1zM15 15h1.1v1.1h-1.1zM16 16h1.1v1.1h-1.1zM17 17h1.1v1.1h-1.1zM18 18h1.1v1.1h-1.1zM19 19h1.1v1.1h-1.1zM20 20h1.1v1.1h-1.1zM21 21h1.1v1.1h-1.1zM5 22h1.1v1.1h-1.1zM22 22h1.1v1.1h-1.1zM23 23h1.1v1.1h-1.1zM24 24h1.1v1.1h-1.1zM25 25h1.1v1.1h-1.1zM26 26h1.1v1.1h-1.1zM27 27h1.1v1.1h-1.1zM28 28h1.1v1.1h-1.1zM29 29h1.1v1.1h-1.1zM30 30h1.1v1.1h-1.1zM31 31h1.1v1.1h-1.1z"/><path fill="#02bac5" d="M1 0h1.1v1.1h-1.1zM27 1h1.1v1.1h-1.1z"/><path fill="#3f6eff" d="M2 0h1.1v1.1h-1.1zM17 0h1.1v1.1h-1.1zM18 1h1.1v1.1h-1.1zM30 1h1.1v1.1h-1.1zM23 2h1.1v1.1h-1.1zM0 4h1.1v1.1h-1.1zM22 5h1.1v1.1h-1.1zM31 6h1.1v1.1h-1.1zM13 8h1.1v1.1h-1.1zM9 11h1.1v1.1h-1.1zM18 11h1.1v1.1h-1.1zM26 12h1.1v1.1h-1.1zM30 12h1.1v1.1h-1.1zM9 15h1.1v1.1h-1.1zM15 16h1.1v1.1h-1.1zM29 16h1.1v1.1h-1.1zM18 19h1.1v1.1h-1.1zM11 20h1.1v1.1h-1.1zM28 22h1.1v1.1h-1.1zM13 23h1.1v1.1h-1.1zM30 24h1.1v1.1h-1.1zM14 26h1.1v1.1h-1.1zM18 26h1.1v1.1h-1.1zM29 28h1.1v1.1h-1.1zM18 29h1.1v1.1h-1.1zM12 30h1.1v1.1h-1.1zM25 30h1.1v1.1h-1.1z"/><path fill="#4563fc" d="M3 0h1.1v1.1h-1.1zM18 0h1.1v1.1h-1.1zM12 1h1.1v1.1h-1.1zM29 3h1.1v1.1h-1.1zM7 5h1.1v1.1h-1.1zM0 7h1.1v1.1h-1.1zM31 8h1.1v1.1h-1.1zM8 11h1.1v1.1h-1.1zM24 12h1.1v1.1h-1.1zM19 16h1.1v1.1h-1.1zM1 17h1.1v1.1h-1.1zM2 17h1.1v1.1h-1.1zM5 21h1.1v1.1h-1.1zM10 24h1.1v1.1h-1.1zM15 24h1.1v1.1h-1.1zM5 25h1.1v1.1h-1.1zM6 26h1.1v1.1h-1.1zM28 29h1.1v1.1h-1.1zM11 30h1.1v1.1h-1.1z"/><path fill="#473ee1" d="M4 0h1.1v1.1h-1.1zM5 0h1.1v1.1h-1.1zM3 2h1.1v1.1h-1.1zM25 3h1.1v1.1h-1.1zM13 4h1.1v1.1h-1.1zM14 6h1.1v1.1h-1.1zM22 7h1.1v1.1h-1.1zM30 7h1.1v1.1h-1.1zM28 8h1.1v1.1h-1.1zM4 11h1.1v1.1h-1.1zM29 12h1.1v1.1h-1.1zM3 13h1.1v1.1h-1.1zM22 13h1.1v1.1h-1.1zM10 14h1.1v1.1h-1.1zM16 14h1.1v1.1h-1.1zM14 15h1.1v1.1h-1.1zM25 15h1.1v1.1h-1.1zM20 18h1.1v1.1h-1.1zM29 18h1.1v1.1h-1.1zM22 19h1.1v1.1h-1.1zM17 20h1.1v1.1h-1.1zM9 23h1.1v1.1h-1.1zM5 24h1.1v1.1h-1.1zM14 24h1.1v1.1h-1.1zM20 24h1.1v1.1h-1.1zM27 25h1.1v1.1h-1.1zM12 26h1.1v1.1h-1.1zM21 26h1.1v1.1h-1.1zM0 28h1.1v1.1h-1.1zM13 28h1.1v1.1h-1.1zM17 29h1.1v1.1h-1.1zM23 29h1.1v1.1h-1.1zM25 29h1.1v1.1h-1.1z"/><path fill="#4332cb" d="M6 0h1.1v1.1h-1.1zM15 0h1.1v1.1h-1.1zM21 0h1.1v1.1h-1.1zM27 0h1.1v1.1h-1.1zM8 1h1.1v1.1h-1.1zM11 1h1.1v1.1h-1.1zM10 3h1.1v1.1h-1.1zM29 4h1.1v1.1h-1.1zM6 5h1.1v1.1h-1.1zM5 6h1.1v1.1h-1.1zM2 7h1.1v1.1h-1.1zM7 8h1.1v1.1h-1.1zM21 8h1.1v1.1h-1.1zM2 9h1.1v1.1h-1.1zM27 9h1.1v1.1h-1.1zM0 13h1.1v1.1h-1.1zM20 13h1.1v1.1h-1.1zM8 14h1.1v1.1h-1.1zM9 14h1.1v1.1h-1.1zM11 16h1.1v1.1h-1.1zM15 17h1.1v1.1h-1.1zM9 18h1.1v1.1h-1.1zM25 18h1.1v1.1h-1.1zM27 19h1.1v1.1h-1.1zM28 19h1.1v1.1h-1.1zM30 21h1.1v1.1h-1.1zM25 22h1.1v1.1h-1.1zM5 23h1.1v1.1h-1.1zM12 24h1.1v1.1h-1.1zM24 25h1.1v1.1h-1.1zM25 26h1.1v1.1h-1.1zM3 27h1.1v1.1h-1.1zM17 28h1.1v1.1h-1.1zM15 29h1.1v1.1h-1.1zM26 29h1.1v1.1h-1.1zM4 30h1.1v1.1h-1.1zM10 30h1.1v1.1h-1.1zM31 30h1.1v1.1h-1.1zM30 31h1.1v1.1h-1.1z"/><path fill="#249fe5" d="M7 0h1.1v1.1h-1.1zM15 1h1.1v1.1h-1.1zM14 3h1.1v1.1h-1.1zM3 6h1.1v1.1h-1.1zM12 6h1.1v1.1h-1.1zM16 10h1.1v1.1h-1.1zM6 11h1.1v1.1h-1.1zM3 14h1.1v1.1h-1.1zM10 25h1.1v1.1h-1.1zM19 29h1.1v1.1h-1.1z"/><path fill="#317efb" d="M8 0h1.1v1.1h-1.1zM16 0h1.1v1.1h-1.1zM7 3h1.1v1.1h-1.1zM22 3h1.1v1.1h-1.1zM9 6h1.1v1.1h-1.1zM17 6h1.1v1.1h-1.1zM22 6h1.1v1.1h-1.1zM3 8h1.1v1.1h-1.1zM10 8h1.1v1.1h-1.1zM6 12h1.1v1.1h-1.1zM5 13h1.1v1.1h-1.1zM7 16h1.1v1.1h-1.1zM31 16h1.1v1.1h-1.1zM11 17h1.1v1.1h-1.1zM14 17h1.1v1.1h-1.1zM21 19h1.1v1.1h-1.1zM23 20h1.1v1.1h-1.1zM14 22h1.1v1.1h-1.1zM13 25h1.1v1.1h-1.1zM9 27h1.1v1.1h-1.1zM3 28h1.1v1.1h-1.1zM27 30h1.1v1.1h-1.1zM13 31h1.1v1.1h-1.1z"/><path fill="#465dfa" d="M9 0h1.1v1.1h-1.1zM31 1h1.1v1.1h-1.1zM24 3h1.1v1.1h-1.1zM5 4h1.1v1.1h-1.1zM10 6h1.1v1.1h-1.1zM2 8h1.1v1.1h-1.1zM25 8h1.1v1.1h-1.1zM28 9h1.1v1.1h-1.1zM16 11h1.1v1.1h-1.1zM31 11h1.1v1.1h-1.1zM30 13h1.1v1.1h-1.1zM12 15h1.1v1.1h-1.1zM24 15h1.1v1.1h-1.1zM27 17h1.1v1.1h-1.1zM12 19h1.1v1.1h-1.1zM14 20h1.1v1.1h-1.1zM16 20h1.1v1.1h-1.1zM29 20h1.1v1.1h-1.1zM19 23h1.1v1.1h-1.1zM18 24h1.1v1.1h-1.1zM28 24h1.1v1.1h-1.1zM15 26h1.1v1.1h-1.1zM27 26h1.1v1.1h-1.1zM15 27h1.1v1.1h-1.1z"/><path fill="#20a4e3" d="M10 0h1.1v1.1h-1.1zM26 0h1.1v1.1h-1.1zM22 1h1.1v1.1h-1.1zM6 2h1.1v1.1h-1.1zM26 3h1.1v1.1h-1.1zM30 3h1.1v1.1h-1.1zM23 4h1.1v1.1h-1.1zM1 8h1.1v1.1h-1.1zM10 11h1.1v1.1h-1.1zM19 11h1.1v1.1h-1.1zM10 15h1.1v1.1h-1.1zM14 16h1.1v1.1h-1.1zM28 17h1.1v1.1h-1.1zM17 24h1.1v1.1h-1.1zM13 26h1.1v1.1h-1.1zM17 26h1.1v1.1h-1.1z"/><path fill="#3678fe" d="M11 0h1.1v1.1h-1.1zM17 5h1.1v1.1h-1.1zM28 6h1.1v1.1h-1.1zM17 7h1.1v1.1h-1.1zM27 7h1.1v1.1h-1.1zM18 10h1.1v1.1h-1.1zM27 13h1.1v1.1h-1.1zM0 15h1.1v1.1h-1.1zM31 18h1.1v1.1h-1.1zM16 19h1.1v1.1h-1.1zM26 23h1.1v1.1h-1.1zM28 23h1.1v1.1h-1.1zM31 24h1.1v1.1h-1.1zM24 26h1.1v1.1h-1.1zM0 27h1.1v1.1h-1.1zM16 27h1.1v1.1h-1.1zM7 28h1.1v1.1h-1.1zM1 30h1.1v1.1h-1.1zM6 30h1.1v1.1h-1.1z"/><path fill="#f5e924" d="M12 0h1.1v1.1h-1.1zM7 1h1.1v1.1h-1.1zM19 12h1.1v1.1h-1.1zM1 14h1.1v1.1h-1.1zM4 17h1.1v1.1h-1.1zM21 17h1.1v1.1h-1.1z"/><path fill="#259de7" d="M13 0h1.1v1.1h-1.1zM6 1h1.1v1.1h-1.1zM13 6h1.1v1.1h-1.1zM16 7h1.1v1.1h-1.1zM23 7h1.1v1.1h-1.1zM22 9h1.1v1.1h-1.1zM28 10h1.1v1.1h-1.1zM20 11h1.1v1.1h-1.1zM12 13h1.1v1.1h-1.1zM23 14h1.1v1.1h-1.1zM19 17h1.1v1.1h-1.1zM28 18h1.1v1.1h-1.1zM13 21h1.1v1.1h-1.1zM15 22h1.1v1.1h-1.1zM17 23h1.1v1.1h-1.1zM2 24h1.1v1.1h-1.1zM5 27h1.1v1.1h-1.1zM19 27h1.1v1.1h-1.1z"/><path fill="#337bfd" d="M14 0h1.1v1.1h-1.1zM6 3h1.1v1.1h-1.1zM15 3h1.1v1.1h-1.1zM16 6h1.1v1.1h-1.1zM23 9h1.1v1.1h-1.1zM23 12h1.1v1.1h-1.1zM3 15h1.1v1.1h-1.1zM17 15h1.1v1.1h-1.1zM8 18h1.1v1.1h-1.1zM8 19h1.1v1.1h-1.1zM6 20h1.1v1.1h-1.1zM10 22h1.1v1.1h-1.1zM21 24h1.1v1.1h-1.1zM8 26h1.1v1.1h-1.1zM2 28h1.1v1.1h-1.1zM15 28h1.1v1.1h-1.1zM22 28h1.1v1.1h-1.1zM23 28h1.1v1.1h-1.1zM4 29h1.1v1.1h-1.1zM22 29h1.1v1.1h-1.1z"/><path fill="#4639d9" d="M19 0h1.1v1.1h-1.1zM22 0h1.1v1.1h-1.1zM25 0h1.1v1.1h-1.1zM18 2h1.1v1.1h-1.1zM19 4h1.1v1.1h-1.1zM16 5h1.1v1.1h-1.1zM1 7h1.1v1.1h-1.1zM31 10h1.1v1.1h-1.1zM3 11h1.1v1.1h-1.1zM15 11h1.1v1.1h-1.1zM18 13h1.1v1.1h-1.1zM29 13h1.1v1.1h-1.1zM1 15h1.1v1.1h-1.1zM6 15h1.1v1.1h-1.1zM19 15h1.1v1.1h-1.1zM1 16h1.1v1.1h-1.1zM8 16h1.1v1.1h-1.1zM30 16h1.1v1.1h-1.1zM5 17h1.1v1.1h-1.1zM15 19h1.1v1.1h-1.1zM26 19h1.1v1.1h-1.1zM16 21h1.1v1.1h-1.1zM21 23h1.1v1.1h-1.1zM6 25h1.1v1.1h-1.1zM31 27h1.1v1.1h-1.1zM7 29h1.1v1.1h-1.1zM1 31h1.1v1.1h-1.1zM11 31h1.1v1.1h-1.1zM16 31h1.1v1.1h-1.1z"/><path fill="#2896ec" d="M20 0h1.1v1.1h-1.1zM24 4h1.1v1.1h-1.1zM25 6h1.1v1.1h-1.1zM0 10h1.1v1.1h-1.1zM5 10h1.1v1.1h-1.1zM5 11h1.1v1.1h-1.1zM4 15h1.1v1.1h-1.1zM17 16h1.1v1.1h-1.1zM23 16h1.1v1.1h-1.1zM20 17h1.1v1.1h-1.1zM3 30h1.1v1.1h-1.1zM25 31h1.1v1.1h-1.1z"/><path fill="#2f81fa" d="M23 0h1.1v1.1h-1.1zM13 1h1.1v1.1h-1.1zM19 1h1.1v1.1h-1.1zM23 1h1.1v1.1h-1.1zM0 2h1.1v1.1h-1.1zM16 2h1.1v1.1h-1.1zM23 5h1.1v1.1h-1.1zM15 6h1.1v1.1h-1.1zM5 7h1.1v1.1h-1.1zM31 7h1.1v1.1h-1.1zM13 9h1.1v1.1h-1.1zM30 11h1.1v1.1h-1.1zM14 12h1.1v1.1h-1.1zM15 13h1.1v1.1h-1.1zM21 16h1.1v1.1h-1.1zM31 17h1.1v1.1h-1.1zM16 18h1.1v1.1h-1.1zM2 19h1.1v1.1h-1.1zM10 19h1.1v1.1h-1.1zM19 20h1.1v1.1h-1.1zM6 22h1.1v1.1h-1.1zM11 22h1.1v1.1h-1.1zM16 22h1.1v1.1h-1.1zM7 24h1.1v1.1h-1.1zM14 25h1.1v1.1h-1.1zM28 27h1.1v1.1h-1.1z"/><path fill="#463cde" d="M24 0h1.1v1.1h-1.1zM14 1h1.1v1.1h-1.1zM21 1h1.1v1.1h-1.1zM13 2h1.1v1.1h-1.1zM28 2h1.1v1.1h-1.1zM19 3h1.1v1.1h-1.1zM21 3h1.1v1.1h-1.1zM6 4h1.1v1.1h-1.1zM2 6h1.1v1.1h-1.1zM15 8h1.1v1.1h-1.1zM16 8h1.1v1.1h-1.1zM27 8h1.1v1.1h-1.1zM26 9h1.1v1.1h-1.1zM29 9h1.1v1.1h-1.1zM11 10h1.1v1.1h-1.1zM23 11h1.1v1.1h-1.1zM26 11h1.1v1.1h-1.1zM9 12h1.1v1.1h-1.1zM22 12h1.1v1.1h-1.1zM7 14h1.1v1.1h-1.1zM13 14h1.1v1.1h-1.1zM29 14h1.1v1.1h-1.1zM0 16h1.1v1.1h-1.1zM22 16h1.1v1.1h-1.1zM27 18h1.1v1.1h-1.1zM8 20h1.1v1.1h-1.1zM13 20h1.1v1.1h-1.1zM25 20h1.1v1.1h-1.1zM24 21h1.1v1.1h-1.1zM21 22h1.1v1.1h-1.1zM4 23h1.1v1.1h-1.1zM29 23h1.1v1.1h-1.1zM19 24h1.1v1.1h-1.1zM3 26h1.1v1.1h-1.1zM14 28h1.1v1.1h-1.1zM21 29h1.1v1.1h-1.1zM27 29h1.1v1.1h-1.1zM5 30h1.1v1.1h-1.1z"/><path fill="#1da8e0" d="M28 0h1.1v1.1h-1.1zM11 2h1.1v1.1h-1.1zM30 4h1.1v1.1h-1.1zM28 5h1.1v1.1h-1.1zM22 11h1.1v1.1h-1.1zM7 12h1.1v1.1h-1.1zM10 12h1.1v1.1h-1.1zM28 26h1.1v1.1h-1.1zM20 30h1.1v1.1h-1.1zM22 31h1.1v1.1h-1.1z"/><path fill="#2798ea" d="M29 0h1.1v1.1h-1.1zM26 1h1.1v1.1h-1.1zM24 2h1.1v1.1h-1.1zM25 2h1.1v1.1h-1.1zM11 3h1.1v1.1h-1.1zM18 5h1.1v1.1h-1.1zM9 7h1.1v1.1h-1.1zM11 8h1.1v1.1h-1.1zM30 8h1.1v1.1h-1.1zM24 9h1.1v1.1h-1.1zM0 11h1.1v1.1h-1.1zM3 12h1.1v1.1h-1.1zM20 22h1.1v1.1h-1.1zM23 24h1.1v1.1h-1.1zM17 31h1.1v1.1h-1.1z"/><path fill="#2e86f7" d="M30 0h1.1v1.1h-1.1zM31 0h1.1v1.1h-1.1zM1 4h1.1v1.1h-1.1zM25 4h1.1v1.1h-1.1zM21 5h1.1v1.1h-1.1zM25 5h1.1v1.1h-1.1zM23 6h1.1v1.1h-1.1zM27 6h1.1v1.1h-1.1zM29 6h1.1v1.1h-1.1zM12 10h1.1v1.1h-1.1zM8 12h1.1v1.1h-1.1zM15 12h1.1v1.1h-1.1zM26 15h1.1v1.1h-1.1zM28 16h1.1v1.1h-1.1zM6 18h1.1v1.1h-1.1zM0 19h1.1v1.1h-1.1zM31 19h1.1v1.1h-1.1zM0 20h1.1v1.1h-1.1zM21 20h1.1v1.1h-1.1zM6 23h1.1v1.1h-1.1zM23 25h1.1v1.1h-1.1zM21 28h1.1v1.1h-1.1zM27 28h1.1v1.1h-1.1z"/><path fill="#484ff2" d="M0 1h1.1v1.1h-1.1zM14 2h1.1v1.1h-1.1zM2 3h1.1v1.1h-1.1zM18 4h1.1v1.1h-1.1zM25 13h1.1v1.1h-1.1zM15 14h1.1v1.1h-1.1zM21 14h1.1v1.1h-1.1zM11 15h1.1v1.1h-1.1zM31 15h1.1v1.1h-1.1zM29 19h1.1v1.1h-1.1zM30 19h1.1v1.1h-1.1zM2 20h1.1v1.1h-1.1zM0 21h1.1v1.1h-1.1zM7 21h1.1v1.1h-1.1zM8 21h1.1v1.1h-1.1zM2 23h1.1v1.1h-1.1zM26 24h1.1v1.1h-1.1zM4 25h1.1v1.1h-1.1zM1 26h1.1v1.1h-1.1zM26 28h1.1v1.1h-1.1zM11 29h1.1v1.1h-1.1zM18 30h1.1v1.1h-1.1z"/><path fill="#4849ed" d="M2 1h1.1v1.1h-1.1zM27 2h1.1v1.1h-1.1zM12 5h1.1v1.1h-1.1zM11 9h1.1v1.1h-1.1zM19 9h1.1v1.1h-1.1zM30 9h1.1v1.1h-1.1zM20 10h1.1v1.1h-1.1zM27 10h1.1v1.1h-1.1zM25 11h1.1v1.1h-1.1zM17 13h1.1v1.1h-1.1zM17 14h1.1v1.1h-1.1zM21 15h1.1v1.1h-1.1zM24 16h1.1v1.1h-1.1zM18 17h1.1v1.1h-1.1zM25 17h1.1v1.1h-1.1zM4 19h1.1v1.1h-1.1zM7 20h1.1v1.1h-1.1zM20 21h1.1v1.1h-1.1zM28 21h1.1v1.1h-1.1zM2 25h1.1v1.1h-1.1zM21 25h1.1v1.1h-1.1zM22 26h1.1v1.1h-1.1zM10 27h1.1v1.1h-1.1zM25 28h1.1v1.1h-1.1zM3 29h1.1v1.1h-1.1zM23 30h1.1v1.1h-1.1zM4 31h1.1v1.1h-1.1zM10 31h1.1v1.1h-1.1zM24 31h1.1v1.1h-1.1z"/><path fill="#13b0d7" d="M3 1h1.1v1.1h-1.1zM4 1h1.1v1.1h-1.1zM27 4h1.1v1.1h-1.1zM2 10h1.1v1.1h-1.1zM21 10h1.1v1.1h-1.1zM23 15h1.1v1.1h-1.1zM24 20h1.1v1.1h-1.1zM20 23h1.1v1.1h-1.1zM12 25h1.1v1.1h-1.1zM23 26h1.1v1.1h-1.1z"/><path fill="#2d89f5" d="M5 1h1.1v1.1h-1.1zM1 5h1.1v1.1h-1.1zM0 6h1.1v1.1h-1.1zM13 7h1.1v1.1h-1.1zM17 11h1.1v1.1h-1.1zM18 20h1.1v1.1h-1.1zM1 21h1.1v1.1h-1.1zM1 24h1.1v1.1h-1.1zM18 25h1.1v1.1h-1.1zM29 25h1.1v1.1h-1.1z"/><path fill="#4466fd" d="M9 1h1.1v1.1h-1.1zM20 1h1.1v1.1h-1.1zM23 3h1.1v1.1h-1.1zM27 3h1.1v1.1h-1.1zM17 4h1.1v1.1h-1.1zM5 8h1.1v1.1h-1.1zM24 8h1.1v1.1h-1.1zM17 12h1.1v1.1h-1.1zM2 13h1.1v1.1h-1.1zM6 17h1.1v1.1h-1.1zM18 21h1.1v1.1h-1.1zM0 24h1.1v1.1h-1.1zM6 24h1.1v1.1h-1.1zM9 24h1.1v1.1h-1.1zM19 25h1.1v1.1h-1.1zM7 26h1.1v1.1h-1.1zM29 26h1.1v1.1h-1.1zM11 27h1.1v1.1h-1.1zM12 27h1.1v1.1h-1.1zM28 30h1.1v1.1h-1.1z"/><path fill="#fec438" d="M10 1h1.1v1.1h-1.1zM20 16h1.1v1.1h-1.1zM4 20h1.1v1.1h-1.1z"/><path fill="#2e83f9" d="M16 1h1.1v1.1h-1.1zM2 5h1.1v1.1h-1.1zM14 5h1.1v1.1h-1.1zM15 5h1.1v1.1h-1.1zM8 9h1.1v1.1h-1.1zM4 10h1.1v1.1h-1.1zM7 13h1.1v1.1h-1.1zM20 15h1.1v1.1h-1.1zM2 21h1.1v1.1h-1.1zM26 25h1.1v1.1h-1.1zM20 26h1.1v1.1h-1.1zM14 29h1.1v1.1h-1.1zM20 29h1.1v1.1h-1.1z"/><path fill="#16aeda" d="M17 1h1.1v1.1h-1.1zM16 3h1.1v1.1h-1.1zM6 14h1.1v1.1h-1.1zM22 14h1.1v1.1h-1.1zM23 17h1.1v1.1h-1.1zM9 20h1.1v1.1h-1.1zM10 20h1.1v1.1h-1.1zM11 23h1.1v1.1h-1.1zM4 24h1.1v1.1h-1.1zM25 27h1.1v1.1h-1.1zM10 29h1.1v1.1h-1.1zM24 29h1.1v1.1h-1.1zM2 30h1.1v1.1h-1.1z"/><path fill="#4744e8" d="M24 1h1.1v1.1h-1.1zM4 3h1.1v1.1h-1.1zM14 4h1.1v1.1h-1.1zM15 4h1.1v1.1h-1.1zM27 5h1.1v1.1h-1.1zM10 7h1.1v1.1h-1.1zM1 12h1.1v1.1h-1.1zM21 12h1.1v1.1h-1.1zM28 15h1.1v1.1h-1.1zM2 16h1.1v1.1h-1.1zM13 16h1.1v1.1h-1.1zM12 17h1.1v1.1h-1.1zM3 20h1.1v1.1h-1.1zM15 21h1.1v1.1h-1.1zM7 23h1.1v1.1h-1.1zM14 23h1.1v1.1h-1.1zM22 23h1.1v1.1h-1.1zM9 25h1.1v1.1h-1.1zM15 25h1.1v1.1h-1.1zM22 25h1.1v1.1h-1.1zM30 25h1.1v1.1h-1.1zM4 27h1.1v1.1h-1.1zM6 27h1.1v1.1h-1.1zM26 27h1.1v1.1h-1.1zM16 30h1.1v1.1h-1.1zM17 30h1.1v1.1h-1.1zM15 31h1.1v1.1h-1.1zM19 31h1.1v1.1h-1.1zM20 31h1.1v1.1h-1.1z"/><path fill="#4741e5" d="M25 1h1.1v1.1h-1.1zM29 1h1.1v1.1h-1.1zM30 5h1.1v1.1h-1.1zM4 6h1.1v1.1h-1.1zM8 6h1.1v1.1h-1.1zM26 6h1.1v1.1h-1.1zM25 7h1.1v1.1h-1.1zM7 9h1.1v1.1h-1.1zM10 9h1.1v1.1h-1.1zM25 9h1.1v1.1h-1.1zM29 10h1.1v1.1h-1.1zM30 10h1.1v1.1h-1.1zM28 13h1.1v1.1h-1.1zM31 14h1.1v1.1h-1.1zM29 15h1.1v1.1h-1.1zM10 17h1.1v1.1h-1.1zM16 17h1.1v1.1h-1.1zM2 18h1.1v1.1h-1.1zM22 18h1.1v1.1h-1.1zM23 18h1.1v1.1h-1.1zM24 18h1.1v1.1h-1.1zM23 21h1.1v1.1h-1.1zM27 21h1.1v1.1h-1.1zM19 22h1.1v1.1h-1.1zM10 23h1.1v1.1h-1.1zM12 23h1.1v1.1h-1.1zM18 23h1.1v1.1h-1.1zM30 23h1.1v1.1h-1.1zM0 25h1.1v1.1h-1.1zM2 26h1.1v1.1h-1.1zM19 26h1.1v1.1h-1.1zM30 26h1.1v1.1h-1.1zM31 26h1.1v1.1h-1.1zM2 27h1.1v1.1h-1.1zM7 27h1.1v1.1h-1.1zM22 27h1.1v1.1h-1.1zM6 29h1.1v1.1h-1.1zM13 29h1.1v1.1h-1.1zM31 29h1.1v1.1h-1.1zM12 31h1.1v1.1h-1.1zM27 31h1.1v1.1h-1.1zM28 31h1.1v1.1h-1.1z"/><path fill="#3975fe" d="M28 1h1.1v1.1h-1.1zM7 2h1.1v1.1h-1.1zM17 2h1.1v1.1h-1.1zM13 3h1.1v1.1h-1.1zM20 4h1.1v1.1h-1.1zM10 5h1.1v1.1h-1.1zM13 5h1.1v1.1h-1.1zM24 5h1.1v1.1h-1.1zM13 10h1.1v1.1h-1.1zM1 11h1.1v1.1h-1.1zM16 15h1.1v1.1h-1.1zM30 15h1.1v1.1h-1.1zM10 16h1.1v1.1h-1.1zM13 18h1.1v1.1h-1.1zM9 19h1.1v1.1h-1.1zM20 19h1.1v1.1h-1.1zM3 21h1.1v1.1h-1.1zM17 22h1.1v1.1h-1.1zM30 22h1.1v1.1h-1.1zM25 23h1.1v1.1h-1.1zM11 24h1.1v1.1h-1.1zM11 25h1.1v1.1h-1.1zM23 27h1.1v1.1h-1.1zM29 27h1.1v1.1h-1.1zM8 28h1.1v1.1h-1.1zM26 30h1.1v1.1h-1.1zM2 31h1.1v1.1h-1.1z"/><path fill="#484cf0" d="M1 2h1.1v1.1h-1.1zM8 2h1.1v1.1h-1.1zM9 2h1.1v1.1h-1.1zM20 2h1.1v1.1h-1.1zM29 2h1.1v1.1h-1.1zM17 3h1.1v1.1h-1.1zM28 4h1.1v1.1h-1.1zM18 6h1.1v1.1h-1.1zM18 8h1.1v1.1h-1.1zM5 12h1.1v1.1h-1.1zM11 12h1.1v1.1h-1.1zM20 14h1.1v1.1h-1.1zM28 14h1.1v1.1h-1.1zM0 18h1.1v1.1h-1.1zM26 21h1.1v1.1h-1.1zM31 21h1.1v1.1h-1.1zM9 22h1.1v1.1h-1.1zM13 22h1.1v1.1h-1.1zM13 24h1.1v1.1h-1.1zM16 24h1.1v1.1h-1.1zM25 24h1.1v1.1h-1.1zM16 25h1.1v1.1h-1.1zM16 26h1.1v1.1h-1.1zM1 28h1.1v1.1h-1.1zM30 28h1.1v1.1h-1.1zM14 31h1.1v1.1h-1.1z"/><path fill="#4660fb" d="M4 2h1.1v1.1h-1.1zM21 2h1.1v1.1h-1.1zM22 2h1.1v1.1h-1.1zM0 3h1.1v1.1h-1.1zM3 4h1.1v1.1h-1.1zM10 4h1.1v1.1h-1.1zM12 4h1.1v1.1h-1.1zM26 4h1.1v1.1h-1.1zM21 6h1.1v1.1h-1.1zM29 8h1.1v1.1h-1.1zM15 9h1.1v1.1h-1.1zM17 10h1.1v1.1h-1.1zM28 11h1.1v1.1h-1.1zM27 14h1.1v1.1h-1.1zM26 16h1.1v1.1h-1.1zM8 17h1.1v1.1h-1.1zM17 18h1.1v1.1h-1.1zM15 20h1.1v1.1h-1.1zM3 22h1.1v1.1h-1.1zM23 22h1.1v1.1h-1.1zM27 22h1.1v1.1h-1.1zM29 22h1.1v1.1h-1.1zM20 25h1.1v1.1h-1.1zM10 28h1.1v1.1h-1.1zM14 30h1.1v1.1h-1.1zM21 30h1.1v1.1h-1.1zM24 30h1.1v1.1h-1.1zM8 31h1.1v1.1h-1.1zM21 31h1.1v1.1h-1.1zM29 31h1.1v1.1h-1.1z"/><path fill="#22a2e4" d="M5 2h1.1v1.1h-1.1zM10 2h1.1v1.1h-1.1zM3 9h1.1v1.1h-1.1zM5 15h1.1v1.1h-1.1zM8 15h1.1v1.1h-1.1zM30 17h1.1v1.1h-1.1zM8 29h1.1v1.1h-1.1zM3 31h1.1v1.1h-1.1z"/><path fill="#4369fe" d="M12 2h1.1v1.1h-1.1zM12 3h1.1v1.1h-1.1zM0 5h1.1v1.1h-1.1zM19 7h1.1v1.1h-1.1zM20 8h1.1v1.1h-1.1zM17 9h1.1v1.1h-1.1zM27 16h1.1v1.1h-1.1zM14 18h1.1v1.1h-1.1zM30 20h1.1v1.1h-1.1zM4 21h1.1v1.1h-1.1zM1 23h1.1v1.1h-1.1zM24 23h1.1v1.1h-1.1zM31 23h1.1v1.1h-1.1zM28 25h1.1v1.1h-1.1zM18 27h1.1v1.1h-1.1zM4 28h1.1v1.1h-1.1zM1 29h1.1v1.1h-1.1zM2 29h1.1v1.1h-1.1zM13 30h1.1v1.1h-1.1zM5 31h1.1v1.1h-1.1z"/><path fill="#416bfe" d="M15 2h1.1v1.1h-1.1zM9 3h1.1v1.1h-1.1zM3 7h1.1v1.1h-1.1zM22 10h1.1v1.1h-1.1zM2 12h1.1v1.1h-1.1zM18 12h1.1v1.1h-1.1zM1 13h1.1v1.1h-1.1zM8 13h1.1v1.1h-1.1zM21 13h1.1v1.1h-1.1zM24 13h1.1v1.1h-1.1zM5 14h1.1v1.1h-1.1zM25 14h1.1v1.1h-1.1zM1 18h1.1v1.1h-1.1zM24 19h1.1v1.1h-1.1zM5 20h1.1v1.1h-1.1zM4 22h1.1v1.1h-1.1zM24 22h1.1v1.1h-1.1zM26 22h1.1v1.1h-1.1zM27 24h1.1v1.1h-1.1zM29 24h1.1v1.1h-1.1zM1 25h1.1v1.1h-1.1zM20 27h1.1v1.1h-1.1zM30 27h1.1v1.1h-1.1z"/><path fill="#4537d5" d="M19 2h1.1v1.1h-1.1zM31 5h1.1v1.1h-1.1zM19 8h1.1v1.1h-1.1zM22 8h1.1v1.1h-1.1zM0 9h1.1v1.1h-1.1zM1 9h1.1v1.1h-1.1zM20 9h1.1v1.1h-1.1zM9 10h1.1v1.1h-1.1zM24 11h1.1v1.1h-1.1zM0 12h1.1v1.1h-1.1zM31 12h1.1v1.1h-1.1zM4 13h1.1v1.1h-1.1zM11 13h1.1v1.1h-1.1zM23 13h1.1v1.1h-1.1zM18 15h1.1v1.1h-1.1zM3 16h1.1v1.1h-1.1zM9 16h1.1v1.1h-1.1zM12 16h1.1v1.1h-1.1zM7 18h1.1v1.1h-1.1zM1 19h1.1v1.1h-1.1zM6 19h1.1v1.1h-1.1zM13 19h1.1v1.1h-1.1zM26 20h1.1v1.1h-1.1zM11 21h1.1v1.1h-1.1zM17 21h1.1v1.1h-1.1zM1 22h1.1v1.1h-1.1zM3 25h1.1v1.1h-1.1zM12 28h1.1v1.1h-1.1zM31 28h1.1v1.1h-1.1zM30 29h1.1v1.1h-1.1zM6 31h1.1v1.1h-1.1z"/><path fill="#f6f21e" d="M26 2h1.1v1.1h-1.1zM2 4h1.1v1.1h-1.1zM18 9h1.1v1.1h-1.1zM9 13h1.1v1.1h-1.1zM11 19h1.1v1.1h-1.1z"/><path fill="#4747eb" d="M30 2h1.1v1.1h-1.1zM31 2h1.1v1.1h-1.1zM5 3h1.1v1.1h-1.1zM28 3h1.1v1.1h-1.1zM3 5h1.1v1.1h-1.1zM30 6h1.1v1.1h-1.1zM24 7h1.1v1.1h-1.1zM26 8h1.1v1.1h-1.1zM6 9h1.1v1.1h-1.1zM8 10h1.1v1.1h-1.1zM13 11h1.1v1.1h-1.1zM14 11h1.1v1.1h-1.1zM21 11h1.1v1.1h-1.1zM27 11h1.1v1.1h-1.1zM13 12h1.1v1.1h-1.1zM22 15h1.1v1.1h-1.1zM5 16h1.1v1.1h-1.1zM18 16h1.1v1.1h-1.1zM7 17h1.1v1.1h-1.1zM6 21h1.1v1.1h-1.1zM9 21h1.1v1.1h-1.1zM10 21h1.1v1.1h-1.1zM15 23h1.1v1.1h-1.1zM8 25h1.1v1.1h-1.1zM31 25h1.1v1.1h-1.1zM8 27h1.1v1.1h-1.1zM14 27h1.1v1.1h-1.1zM21 27h1.1v1.1h-1.1zM9 28h1.1v1.1h-1.1zM16 28h1.1v1.1h-1.1zM24 28h1.1v1.1h-1.1zM0 29h1.1v1.1h-1.1zM12 29h1.1v1.1h-1.1zM16 29h1.1v1.1h-1.1zM9 30h1.1v1.1h-1.1zM22 30h1.1v1.1h-1.1zM9 31h1.1v1.1h-1.1z"/><path fill="#35c799" d="M1 3h1.1v1.1h-1.1z"/><path fill="#1fa6e2" d="M8 3h1.1v1.1h-1.1zM16 4h1.1v1.1h-1.1zM11 5h1.1v1.1h-1.1zM6 8h1.1v1.1h-1.1zM25 10h1.1v1.1h-1.1zM27 12h1.1v1.1h-1.1zM11 14h1.1v1.1h-1.1zM6 16h1.1v1.1h-1.1zM30 18h1.1v1.1h-1.1zM3 19h1.1v1.1h-1.1zM26 31h1.1v1.1h-1.1z"/><path fill="#19acdc" d="M20 3h1.1v1.1h-1.1zM26 5h1.1v1.1h-1.1zM0 8h1.1v1.1h-1.1zM14 9h1.1v1.1h-1.1zM16 9h1.1v1.1h-1.1zM20 12h1.1v1.1h-1.1zM10 13h1.1v1.1h-1.1zM4 16h1.1v1.1h-1.1zM5 26h1.1v1.1h-1.1z"/><path fill="#2dc4a5" d="M31 3h1.1v1.1h-1.1zM11 28h1.1v1.1h-1.1z"/><path fill="#f7f51b" d="M7 4h1.1v1.1h-1.1zM23 19h1.1v1.1h-1.1z"/><path fill="#f5ec22" d="M8 4h1.1v1.1h-1.1zM8 7h1.1v1.1h-1.1zM12 8h1.1v1.1h-1.1z"/><path fill="#4434d0" d="M9 4h1.1v1.1h-1.1zM20 5h1.1v1.1h-1.1zM6 7h1.1v1.1h-1.1zM21 7h1.1v1.1h-1.1zM3 10h1.1v1.1h-1.1zM26 10h1.1v1.1h-1.1zM4 12h1.1v1.1h-1.1zM13 17h1.1v1.1h-1.1zM7 19h1.1v1.1h-1.1zM19 21h1.1v1.1h-1.1zM12 22h1.1v1.1h-1.1zM31 22h1.1v1.1h-1.1zM3 23h1.1v1.1h-1.1zM3 24h1.1v1.1h-1.1zM4 26h1.1v1.1h-1.1zM10 26h1.1v1.1h-1.1zM17 27h1.1v1.1h-1.1zM24 27h1.1v1.1h-1.1zM5 28h1.1v1.1h-1.1zM18 28h1.1v1.1h-1.1zM7 31h1.1v1.1h-1.1zM23 31h1.1v1.1h-1.1z"/><path fill="#3c72ff" d="M11 4h1.1v1.1h-1.1zM26 7h1.1v1.1h-1.1zM4 9h1.1v1.1h-1.1zM24 10h1.1v1.1h-1.1zM7 11h1.1v1.1h-1.1zM25 12h1.1v1.1h-1.1zM28 12h1.1v1.1h-1.1zM16 13h1.1v1.1h-1.1zM19 14h1.1v1.1h-1.1zM24 14h1.1v1.1h-1.1zM25 16h1.1v1.1h-1.1zM3 17h1.1v1.1h-1.1zM26 17h1.1v1.1h-1.1zM29 17h1.1v1.1h-1.1zM11 18h1.1v1.1h-1.1zM26 18h1.1v1.1h-1.1zM25 19h1.1v1.1h-1.1zM12 20h1.1v1.1h-1.1zM29 21h1.1v1.1h-1.1zM7 22h1.1v1.1h-1.1zM18 22h1.1v1.1h-1.1zM22 24h1.1v1.1h-1.1z"/><path fill="#269ae8" d="M21 4h1.1v1.1h-1.1zM0 14h1.1v1.1h-1.1zM2 14h1.1v1.1h-1.1zM12 14h1.1v1.1h-1.1zM26 14h1.1v1.1h-1.1zM28 20h1.1v1.1h-1.1zM17 25h1.1v1.1h-1.1zM19 28h1.1v1.1h-1.1z"/><path fill="#d2bf27" d="M22 4h1.1v1.1h-1.1z"/><path fill="#33c69e" d="M31 4h1.1v1.1h-1.1zM24 6h1.1v1.1h-1.1zM14 13h1.1v1.1h-1.1z"/><path fill="#2b91ef" d="M4 5h1.1v1.1h-1.1zM18 7h1.1v1.1h-1.1zM23 8h1.1v1.1h-1.1zM5 9h1.1v1.1h-1.1zM21 9h1.1v1.1h-1.1zM31 9h1.1v1.1h-1.1zM1 10h1.1v1.1h-1.1zM23 10h1.1v1.1h-1.1zM27 15h1.1v1.1h-1.1zM22 20h1.1v1.1h-1.1zM8 22h1.1v1.1h-1.1zM0 23h1.1v1.1h-1.1z"/><path fill="#f6e028" d="M8 5h1.1v1.1h-1.1z"/><path fill="#1baade" d="M9 5h1.1v1.1h-1.1zM19 5h1.1v1.1h-1.1zM7 6h1.1v1.1h-1.1zM20 6h1.1v1.1h-1.1zM15 7h1.1v1.1h-1.1zM28 7h1.1v1.1h-1.1zM29 7h1.1v1.1h-1.1zM6 10h1.1v1.1h-1.1zM15 10h1.1v1.1h-1.1zM22 17h1.1v1.1h-1.1zM4 18h1.1v1.1h-1.1zM5 18h1.1v1.1h-1.1zM27 20h1.1v1.1h-1.1zM20 28h1.1v1.1h-1.1zM15 30h1.1v1.1h-1.1zM0 31h1.1v1.1h-1.1z"/><path fill="#4dcb82" d="M29 5h1.1v1.1h-1.1zM19 10h1.1v1.1h-1.1zM14 21h1.1v1.1h-1.1z"/><path fill="#2a93ed" d="M1 6h1.1v1.1h-1.1zM20 7h1.1v1.1h-1.1zM14 8h1.1v1.1h-1.1zM4 14h1.1v1.1h-1.1zM13 15h1.1v1.1h-1.1zM9 17h1.1v1.1h-1.1zM5 19h1.1v1.1h-1.1zM1 20h1.1v1.1h-1.1z"/><path fill="#15bfb7" d="M11 6h1.1v1.1h-1.1z"/><path fill="#01b8c8" d="M19 6h1.1v1.1h-1.1zM10 18h1.1v1.1h-1.1z"/><path fill="#3dc991" d="M4 7h1.1v1.1h-1.1zM0 26h1.1v1.1h-1.1z"/><path fill="#fec13a" d="M11 7h1.1v1.1h-1.1zM17 8h1.1v1.1h-1.1z"/><path fill="#53cc7d" d="M12 7h1.1v1.1h-1.1z"/><path fill="#f5e327" d="M14 7h1.1v1.1h-1.1zM9 29h1.1v1.1h-1.1z"/><path fill="#47cb87" d="M4 8h1.1v1.1h-1.1z"/><path fill="#4852f4" d="M9 8h1.1v1.1h-1.1zM31 13h1.1v1.1h-1.1zM15 18h1.1v1.1h-1.1zM31 20h1.1v1.1h-1.1zM12 21h1.1v1.1h-1.1zM8 24h1.1v1.1h-1.1zM1 27h1.1v1.1h-1.1zM5 29h1.1v1.1h-1.1zM18 31h1.1v1.1h-1.1z"/><path fill="#f0ba36" d="M12 9h1.1v1.1h-1.1zM21 18h1.1v1.1h-1.1z"/><path fill="#f5e626" d="M14 10h1.1v1.1h-1.1z"/><path fill="#d8be28" d="M2 11h1.1v1.1h-1.1zM27 23h1.1v1.1h-1.1z"/><path fill="#4330c5" d="M12 11h1.1v1.1h-1.1zM6 13h1.1v1.1h-1.1zM19 13h1.1v1.1h-1.1zM0 17h1.1v1.1h-1.1zM24 17h1.1v1.1h-1.1zM3 18h1.1v1.1h-1.1zM22 21h1.1v1.1h-1.1zM16 23h1.1v1.1h-1.1zM19 30h1.1v1.1h-1.1z"/><path fill="#59cc78" d="M29 11h1.1v1.1h-1.1z"/><path fill="#f8f818" d="M16 12h1.1v1.1h-1.1zM7 15h1.1v1.1h-1.1z"/><path fill="#e2bc2b" d="M26 13h1.1v1.1h-1.1z"/><path fill="#fdcd32" d="M18 14h1.1v1.1h-1.1z"/><path fill="#fbbc3d" d="M30 14h1.1v1.1h-1.1zM14 19h1.1v1.1h-1.1zM8 30h1.1v1.1h-1.1z"/><path fill="#f5ba3a" d="M2 15h1.1v1.1h-1.1z"/><path fill="#febe3c" d="M12 18h1.1v1.1h-1.1zM19 18h1.1v1.1h-1.1z"/><path fill="#e7bb2e" d="M17 19h1.1v1.1h-1.1zM29 30h1.1v1.1h-1.1z"/><path fill="#fcd030" d="M25 21h1.1v1.1h-1.1z"/><path fill="#26c2ad" d="M0 22h1.1v1.1h-1.1z"/><path fill="#04bbc2" d="M2 22h1.1v1.1h-1.1zM7 30h1.1v1.1h-1.1z"/><path fill="#ddbd29" d="M8 23h1.1v1.1h-1.1z"/><path fill="#2c8ef1" d="M7 25h1.1v1.1h-1.1z"/><path fill="#0ebebb" d="M9 26h1.1v1.1h-1.1zM0 30h1.1v1.1h-1.1z"/><path fill="#41ca8c" d="M11 26h1.1v1.1h-1.1zM13 27h1.1v1.1h-1.1z"/><path fill="#f9ba3d" d="M6 28h1.1v1.1h-1.1z"/></g><text x="601" y="59.5" font-size="19" font-style="italic" fill="#000">t</text><text x="607" y="65" font-size="11" font-style="italic" fill="#000">1</text><text x="657" y="86.2" font-size="19" font-style="italic" fill="#000">t</text><text x="663" y="92" font-size="11" font-style="italic" fill="#000">2</text><text x="740.5" y="118.6" font-size="19" font-style="italic" fill="#000">t</text><text x="746.5" y="124.3" font-size="11" font-style="italic" fill="#000">n</text><circle cx="677.5" cy="117.3" r="0.9" fill="#111"/><circle cx="681" cy="119" r="0.9" fill="#111"/><circle cx="684.5" cy="120.7" r="0.9" fill="#111"/><circle cx="688" cy="122.4" r="0.9" fill="#111"/><text x="649.4" y="43.1" font-size="12.3" font-style="italic" fill="#000" textLength="142.4" lengthAdjust="spacingAndGlyphs">estimate effective connec-</text><text x="653" y="59.5" font-size="12.3" font-style="italic" fill="#000" textLength="138" lengthAdjust="spacingAndGlyphs">tivity between all sensors</text><text x="664.4" y="74.5" font-size="12.3" font-style="italic" fill="#000" textLength="115.6" lengthAdjust="spacingAndGlyphs">within each temporal</text><text x="701" y="89.4" font-size="12.3" font-style="italic" fill="#000" textLength="42.4" lengthAdjust="spacingAndGlyphs">window</text><defs><linearGradient id="pg" x1="0" x2="1" y1="0" y2="0"><stop offset="0.00" stop-color="#3e26a8"/><stop offset="0.05" stop-color="#4433cc"/><stop offset="0.10" stop-color="#4743e7"/><stop offset="0.15" stop-color="#4755f6"/><stop offset="0.20" stop-color="#4367fd"/><stop offset="0.25" stop-color="#347afd"/><stop offset="0.30" stop-color="#2d8cf3"/><stop offset="0.35" stop-color="#259ce7"/><stop offset="0.40" stop-color="#1caadf"/><stop offset="0.45" stop-color="#05b6ce"/><stop offset="0.50" stop-color="#12beb9"/><stop offset="0.55" stop-color="#2fc5a2"/><stop offset="0.60" stop-color="#48cb86"/><stop offset="0.65" stop-color="#71cd64"/><stop offset="0.70" stop-color="#9fc942"/><stop offset="0.75" stop-color="#c8c129"/><stop offset="0.80" stop-color="#eaba31"/><stop offset="0.85" stop-color="#fec13a"/><stop offset="0.90" stop-color="#fad42e"/><stop offset="0.95" stop-color="#f5e825"/><stop offset="1.00" stop-color="#f9fb15"/></linearGradient></defs><rect x="492" y="267.1" width="259" height="20.4" fill="url(#pg)" stroke="#000" stroke-width="1.2"/><text x="494.6" y="299.9" font-size="10.5" text-anchor="middle" fill="#000">0</text><text x="620" y="299.9" font-size="10.5" text-anchor="middle" fill="#000">0.1</text><text x="747.5" y="299.9" font-size="10.5" text-anchor="middle" fill="#000">0.2</text><text x="622.6" y="314.8" font-size="10.5" text-anchor="middle" fill="#000">PDC</text><line x1="1.2" y1="374.7" x2="797" y2="374.7" stroke="#222" stroke-width="1.5" stroke-dasharray="1.5 3.81" /><line x1="477.3" y1="378" x2="477.3" y2="665" stroke="#222" stroke-width="1.3" stroke-dasharray="1.3 4.2" /><line x1="2.8" y1="667.3" x2="797" y2="667.3" stroke="#222" stroke-width="1.5" stroke-dasharray="1.5 3.81" /><line x1="1.5" y1="795.4" x2="797" y2="795.4" stroke="#aaa" stroke-width="1.3" stroke-dasharray="1.3 4.05" /><line x1="354.2" y1="799.6" x2="354.2" y2="1046" stroke="#aaa" stroke-width="1.3" stroke-dasharray="1.3 4.1" /><text x="6.4" y="409.2" font-size="28" font-weight="bold" fill="#000">C</text><text x="206.4" y="402" font-size="18.5" font-weight="bold" fill="#000" textLength="91.3" lengthAdjust="spacingAndGlyphs">Mean PDC</text><text x="216.9" y="417.2" font-size="13.3" font-style="italic" fill="#000" textLength="70.3" lengthAdjust="spacingAndGlyphs">All Subjects</text><text x="221.5" y="436.5" font-size="13.3" fill="#000" textLength="61.5" lengthAdjust="spacingAndGlyphs">Significant</text><text x="215" y="453" font-size="13.3" fill="#000" textLength="74" lengthAdjust="spacingAndGlyphs">Connections</text><text x="95.8" y="439.7" font-size="13.3" font-weight="bold" fill="#000" textLength="33.7" lengthAdjust="spacingAndGlyphs">Mean</text><text x="370.8" y="428.8" font-size="13.3" font-weight="bold" fill="#000" textLength="33" lengthAdjust="spacingAndGlyphs">Mean</text><text x="336.4" y="443.5" font-size="13.3" font-style="italic" fill="#000" textLength="102.6" lengthAdjust="spacingAndGlyphs">of only significant</text><text x="102.4" y="471.7" font-size="15.8" font-weight="bold" fill="#000" textLength="23.5" lengthAdjust="spacingAndGlyphs" stroke="#000" stroke-width="0.7">TO</text><text x="243.2" y="472.0" font-size="15.8" font-weight="bold" fill="#000" textLength="22.8" lengthAdjust="spacingAndGlyphs" stroke="#000" stroke-width="0.7">TO</text><text x="371.5" y="468.5" font-size="15.8" font-weight="bold" fill="#000" textLength="22.8" lengthAdjust="spacingAndGlyphs" stroke="#000" stroke-width="0.7">TO</text><text transform="translate(15.6,584) rotate(-90)" font-size="15.5" font-weight="bold" stroke="#000" stroke-width="0.9" textLength="49.6" lengthAdjust="spacingAndGlyphs">FROM</text><g transform="translate(49.20,492.20) scale(5.9286,5.9286)"><path fill="#f8f818" d="M0 0h1.07v1.07h-1.07zM1 2h1.07v1.07h-1.07zM4 2h1.07v1.07h-1.07zM1 3h1.07v1.07h-1.07zM0 4h1.07v1.07h-1.07zM4 4h1.07v1.07h-1.07zM3 5h1.07v1.07h-1.07zM4 5h1.07v1.07h-1.07z"/><path fill="#f9fb15" d="M1 0h1.07v1.07h-1.07zM2 0h1.07v1.07h-1.07zM3 0h1.07v1.07h-1.07zM4 0h1.07v1.07h-1.07zM1 1h1.07v1.07h-1.07zM2 1h1.07v1.07h-1.07zM5 1h1.07v1.07h-1.07zM2 2h1.07v1.07h-1.07zM3 2h1.07v1.07h-1.07zM5 2h1.07v1.07h-1.07zM3 3h1.07v1.07h-1.07zM4 3h1.07v1.07h-1.07zM2 4h1.07v1.07h-1.07zM5 4h1.07v1.07h-1.07zM0 5h1.07v1.07h-1.07zM1 5h1.07v1.07h-1.07zM2 5h1.07v1.07h-1.07zM5 5h1.07v1.07h-1.07zM6 6h1.07v1.07h-1.07zM7 7h1.07v1.07h-1.07zM8 8h1.07v1.07h-1.07zM9 9h1.07v1.07h-1.07zM10 10h1.07v1.07h-1.07zM12 12h1.07v1.07h-1.07zM13 13h1.07v1.07h-1.07zM14 14h1.07v1.07h-1.07zM15 15h1.07v1.07h-1.07zM16 16h1.07v1.07h-1.07zM17 17h1.07v1.07h-1.07zM18 18h1.07v1.07h-1.07zM19 19h1.07v1.07h-1.07zM20 20h1.07v1.07h-1.07z"/><path fill="#f7f51b" d="M5 0h1.07v1.07h-1.07zM0 1h1.07v1.07h-1.07zM4 1h1.07v1.07h-1.07zM2 3h1.07v1.07h-1.07zM1 4h1.07v1.07h-1.07zM3 4h1.07v1.07h-1.07z"/><path fill="#1da8e0" d="M6 0h1.07v1.07h-1.07zM6 1h1.07v1.07h-1.07zM6 2h1.07v1.07h-1.07zM6 3h1.07v1.07h-1.07zM4 15h1.07v1.07h-1.07zM4 16h1.07v1.07h-1.07zM3 17h1.07v1.07h-1.07zM4 17h1.07v1.07h-1.07zM5 17h1.07v1.07h-1.07zM0 18h1.07v1.07h-1.07zM1 18h1.07v1.07h-1.07zM2 18h1.07v1.07h-1.07zM4 19h1.07v1.07h-1.07zM5 19h1.07v1.07h-1.07z"/><path fill="#1baade" d="M7 0h1.07v1.07h-1.07zM7 1h1.07v1.07h-1.07zM7 2h1.07v1.07h-1.07zM7 3h1.07v1.07h-1.07zM7 5h1.07v1.07h-1.07zM12 11h1.07v1.07h-1.07zM2 16h1.07v1.07h-1.07zM0 17h1.07v1.07h-1.07zM1 17h1.07v1.07h-1.07zM1 19h1.07v1.07h-1.07z"/><path fill="#337bfd" d="M8 0h1.07v1.07h-1.07zM9 0h1.07v1.07h-1.07zM8 3h1.07v1.07h-1.07zM9 3h1.07v1.07h-1.07zM18 6h1.07v1.07h-1.07zM19 6h1.07v1.07h-1.07zM15 7h1.07v1.07h-1.07zM16 7h1.07v1.07h-1.07zM18 7h1.07v1.07h-1.07zM8 10h1.07v1.07h-1.07zM8 12h1.07v1.07h-1.07zM15 12h1.07v1.07h-1.07zM19 12h1.07v1.07h-1.07zM18 13h1.07v1.07h-1.07zM10 16h1.07v1.07h-1.07zM9 17h1.07v1.07h-1.07zM8 18h1.07v1.07h-1.07z"/><path fill="#3f6eff" d="M10 0h1.07v1.07h-1.07zM10 1h1.07v1.07h-1.07zM10 2h1.07v1.07h-1.07zM10 3h1.07v1.07h-1.07zM10 4h1.07v1.07h-1.07zM10 5h1.07v1.07h-1.07zM15 8h1.07v1.07h-1.07zM15 10h1.07v1.07h-1.07zM18 10h1.07v1.07h-1.07zM15 14h1.07v1.07h-1.07zM18 14h1.07v1.07h-1.07zM16 15h1.07v1.07h-1.07zM17 15h1.07v1.07h-1.07zM17 16h1.07v1.07h-1.07zM18 16h1.07v1.07h-1.07zM16 17h1.07v1.07h-1.07zM19 18h1.07v1.07h-1.07zM16 19h1.07v1.07h-1.07zM17 19h1.07v1.07h-1.07z"/><path fill="#20a4e3" d="M11 0h1.07v1.07h-1.07zM11 1h1.07v1.07h-1.07zM11 2h1.07v1.07h-1.07zM11 3h1.07v1.07h-1.07zM11 4h1.07v1.07h-1.07zM11 5h1.07v1.07h-1.07z"/><path fill="#02b7cb" d="M12 0h1.07v1.07h-1.07zM12 1h1.07v1.07h-1.07zM12 2h1.07v1.07h-1.07zM12 3h1.07v1.07h-1.07zM12 4h1.07v1.07h-1.07zM12 5h1.07v1.07h-1.07zM1 8h1.07v1.07h-1.07zM5 8h1.07v1.07h-1.07zM3 10h1.07v1.07h-1.07z"/><path fill="#16aeda" d="M13 0h1.07v1.07h-1.07zM13 1h1.07v1.07h-1.07zM13 2h1.07v1.07h-1.07zM13 3h1.07v1.07h-1.07zM13 4h1.07v1.07h-1.07zM13 5h1.07v1.07h-1.07zM11 12h1.07v1.07h-1.07zM11 13h1.07v1.07h-1.07zM0 14h1.07v1.07h-1.07zM2 14h1.07v1.07h-1.07zM3 14h1.07v1.07h-1.07zM4 14h1.07v1.07h-1.07zM0 15h1.07v1.07h-1.07zM3 15h1.07v1.07h-1.07zM5 15h1.07v1.07h-1.07zM5 18h1.07v1.07h-1.07zM2 19h1.07v1.07h-1.07zM9 20h1.07v1.07h-1.07zM19 20h1.07v1.07h-1.07z"/><path fill="#4369fe" d="M14 0h1.07v1.07h-1.07zM16 0h1.07v1.07h-1.07zM19 0h1.07v1.07h-1.07zM17 2h1.07v1.07h-1.07zM18 2h1.07v1.07h-1.07zM15 3h1.07v1.07h-1.07zM16 4h1.07v1.07h-1.07zM17 4h1.07v1.07h-1.07zM18 4h1.07v1.07h-1.07zM19 4h1.07v1.07h-1.07zM15 5h1.07v1.07h-1.07zM17 5h1.07v1.07h-1.07zM19 5h1.07v1.07h-1.07z"/><path fill="#4563fc" d="M15 0h1.07v1.07h-1.07zM16 1h1.07v1.07h-1.07zM17 1h1.07v1.07h-1.07zM18 1h1.07v1.07h-1.07zM19 2h1.07v1.07h-1.07zM14 3h1.07v1.07h-1.07zM14 5h1.07v1.07h-1.07z"/><path fill="#416bfe" d="M17 0h1.07v1.07h-1.07zM14 1h1.07v1.07h-1.07zM15 1h1.07v1.07h-1.07zM19 1h1.07v1.07h-1.07zM14 2h1.07v1.07h-1.07zM15 2h1.07v1.07h-1.07zM16 2h1.07v1.07h-1.07zM17 3h1.07v1.07h-1.07zM18 3h1.07v1.07h-1.07zM16 8h1.07v1.07h-1.07zM14 9h1.07v1.07h-1.07zM16 14h1.07v1.07h-1.07zM18 17h1.07v1.07h-1.07z"/><path fill="#4466fd" d="M18 0h1.07v1.07h-1.07zM16 3h1.07v1.07h-1.07zM19 3h1.07v1.07h-1.07zM14 4h1.07v1.07h-1.07zM15 4h1.07v1.07h-1.07zM16 5h1.07v1.07h-1.07zM18 5h1.07v1.07h-1.07z"/><path fill="#4741e5" d="M20 0h1.07v1.07h-1.07zM20 5h1.07v1.07h-1.07z"/><path fill="#f7dd2a" d="M3 1h1.07v1.07h-1.07z"/><path fill="#2f81fa" d="M8 1h1.07v1.07h-1.07zM9 1h1.07v1.07h-1.07zM8 2h1.07v1.07h-1.07zM9 4h1.07v1.07h-1.07zM8 6h1.07v1.07h-1.07zM9 6h1.07v1.07h-1.07zM10 6h1.07v1.07h-1.07zM14 6h1.07v1.07h-1.07zM17 6h1.07v1.07h-1.07zM8 7h1.07v1.07h-1.07zM19 7h1.07v1.07h-1.07zM17 11h1.07v1.07h-1.07zM10 12h1.07v1.07h-1.07zM8 13h1.07v1.07h-1.07z"/><path fill="#473ee1" d="M20 1h1.07v1.07h-1.07z"/><path fill="#fbd32e" d="M0 2h1.07v1.07h-1.07zM5 3h1.07v1.07h-1.07z"/><path fill="#2e83f9" d="M9 2h1.07v1.07h-1.07z"/><path fill="#4744e8" d="M20 2h1.07v1.07h-1.07zM20 3h1.07v1.07h-1.07zM20 4h1.07v1.07h-1.07z"/><path fill="#fec13a" d="M0 3h1.07v1.07h-1.07zM1 12h1.07v1.07h-1.07zM4 12h1.07v1.07h-1.07z"/><path fill="#2896ec" d="M6 4h1.07v1.07h-1.07zM6 5h1.07v1.07h-1.07zM6 16h1.07v1.07h-1.07z"/><path fill="#15bfb7" d="M7 4h1.07v1.07h-1.07zM0 6h1.07v1.07h-1.07zM7 6h1.07v1.07h-1.07zM0 9h1.07v1.07h-1.07zM1 9h1.07v1.07h-1.07zM2 9h1.07v1.07h-1.07zM3 9h1.07v1.07h-1.07zM4 9h1.07v1.07h-1.07zM5 9h1.07v1.07h-1.07z"/><path fill="#3678fe" d="M8 4h1.07v1.07h-1.07zM8 5h1.07v1.07h-1.07zM15 6h1.07v1.07h-1.07zM9 8h1.07v1.07h-1.07zM10 8h1.07v1.07h-1.07zM14 8h1.07v1.07h-1.07zM17 8h1.07v1.07h-1.07zM18 8h1.07v1.07h-1.07zM19 8h1.07v1.07h-1.07zM8 9h1.07v1.07h-1.07zM15 9h1.07v1.07h-1.07zM17 9h1.07v1.07h-1.07zM18 9h1.07v1.07h-1.07zM19 9h1.07v1.07h-1.07zM9 10h1.07v1.07h-1.07zM14 12h1.07v1.07h-1.07zM17 12h1.07v1.07h-1.07zM9 13h1.07v1.07h-1.07zM14 13h1.07v1.07h-1.07zM17 13h1.07v1.07h-1.07zM17 14h1.07v1.07h-1.07zM19 14h1.07v1.07h-1.07zM8 17h1.07v1.07h-1.07zM14 17h1.07v1.07h-1.07zM14 18h1.07v1.07h-1.07zM17 18h1.07v1.07h-1.07z"/><path fill="#317efb" d="M9 5h1.07v1.07h-1.07zM16 6h1.07v1.07h-1.07zM10 7h1.07v1.07h-1.07zM14 7h1.07v1.07h-1.07zM17 7h1.07v1.07h-1.07zM8 11h1.07v1.07h-1.07zM9 11h1.07v1.07h-1.07zM10 11h1.07v1.07h-1.07zM18 11h1.07v1.07h-1.07zM9 12h1.07v1.07h-1.07zM16 12h1.07v1.07h-1.07zM18 12h1.07v1.07h-1.07zM10 13h1.07v1.07h-1.07zM15 13h1.07v1.07h-1.07zM16 13h1.07v1.07h-1.07zM10 14h1.07v1.07h-1.07zM9 15h1.07v1.07h-1.07zM10 15h1.07v1.07h-1.07zM8 16h1.07v1.07h-1.07zM10 17h1.07v1.07h-1.07zM9 18h1.07v1.07h-1.07zM10 18h1.07v1.07h-1.07zM8 19h1.07v1.07h-1.07zM9 19h1.07v1.07h-1.07zM10 19h1.07v1.07h-1.07z"/><path fill="#ecba32" d="M1 6h1.07v1.07h-1.07zM4 6h1.07v1.07h-1.07zM5 6h1.07v1.07h-1.07zM1 13h1.07v1.07h-1.07zM3 13h1.07v1.07h-1.07zM4 13h1.07v1.07h-1.07z"/><path fill="#d8be28" d="M2 6h1.07v1.07h-1.07z"/><path fill="#c1c32c" d="M3 6h1.07v1.07h-1.07zM2 11h1.07v1.07h-1.07z"/><path fill="#249fe5" d="M11 6h1.07v1.07h-1.07zM12 7h1.07v1.07h-1.07z"/><path fill="#259de7" d="M12 6h1.07v1.07h-1.07zM13 6h1.07v1.07h-1.07zM11 7h1.07v1.07h-1.07z"/><path fill="#484cf0" d="M20 6h1.07v1.07h-1.07zM20 9h1.07v1.07h-1.07zM20 13h1.07v1.07h-1.07zM20 14h1.07v1.07h-1.07z"/><path fill="#f5ba3a" d="M0 7h1.07v1.07h-1.07zM2 7h1.07v1.07h-1.07zM2 13h1.07v1.07h-1.07z"/><path fill="#ddbd29" d="M1 7h1.07v1.07h-1.07z"/><path fill="#59cc78" d="M3 7h1.07v1.07h-1.07zM4 7h1.07v1.07h-1.07z"/><path fill="#47cb87" d="M5 7h1.07v1.07h-1.07z"/><path fill="#02bac5" d="M6 7h1.07v1.07h-1.07zM2 8h1.07v1.07h-1.07zM4 8h1.07v1.07h-1.07z"/><path fill="#2e86f7" d="M9 7h1.07v1.07h-1.07zM11 14h1.07v1.07h-1.07zM11 15h1.07v1.07h-1.07z"/><path fill="#22a2e4" d="M13 7h1.07v1.07h-1.07z"/><path fill="#484ff2" d="M20 7h1.07v1.07h-1.07zM20 10h1.07v1.07h-1.07zM20 16h1.07v1.07h-1.07z"/><path fill="#06b5ce" d="M0 8h1.07v1.07h-1.07zM0 10h1.07v1.07h-1.07zM2 10h1.07v1.07h-1.07zM6 20h1.07v1.07h-1.07z"/><path fill="#01b8c8" d="M3 8h1.07v1.07h-1.07zM1 10h1.07v1.07h-1.07zM4 10h1.07v1.07h-1.07zM5 10h1.07v1.07h-1.07zM7 20h1.07v1.07h-1.07z"/><path fill="#2d8bf3" d="M6 8h1.07v1.07h-1.07zM13 15h1.07v1.07h-1.07zM13 16h1.07v1.07h-1.07zM13 17h1.07v1.07h-1.07zM11 18h1.07v1.07h-1.07zM12 18h1.07v1.07h-1.07z"/><path fill="#2c8ef1" d="M7 8h1.07v1.07h-1.07zM11 8h1.07v1.07h-1.07zM12 8h1.07v1.07h-1.07zM13 8h1.07v1.07h-1.07zM6 9h1.07v1.07h-1.07zM7 9h1.07v1.07h-1.07zM12 9h1.07v1.07h-1.07zM6 10h1.07v1.07h-1.07zM12 10h1.07v1.07h-1.07zM6 14h1.07v1.07h-1.07zM11 16h1.07v1.07h-1.07zM12 16h1.07v1.07h-1.07zM12 17h1.07v1.07h-1.07zM13 18h1.07v1.07h-1.07zM7 19h1.07v1.07h-1.07zM12 19h1.07v1.07h-1.07z"/><path fill="#4849ed" d="M20 8h1.07v1.07h-1.07zM20 11h1.07v1.07h-1.07zM20 12h1.07v1.07h-1.07zM20 15h1.07v1.07h-1.07zM20 17h1.07v1.07h-1.07zM20 19h1.07v1.07h-1.07z"/><path fill="#3975fe" d="M10 9h1.07v1.07h-1.07zM16 9h1.07v1.07h-1.07zM17 10h1.07v1.07h-1.07zM19 10h1.07v1.07h-1.07zM14 11h1.07v1.07h-1.07zM15 11h1.07v1.07h-1.07zM16 11h1.07v1.07h-1.07zM19 11h1.07v1.07h-1.07zM19 13h1.07v1.07h-1.07zM8 14h1.07v1.07h-1.07zM9 14h1.07v1.07h-1.07zM8 15h1.07v1.07h-1.07zM14 15h1.07v1.07h-1.07zM18 15h1.07v1.07h-1.07zM19 15h1.07v1.07h-1.07zM9 16h1.07v1.07h-1.07zM15 16h1.07v1.07h-1.07zM19 16h1.07v1.07h-1.07zM15 17h1.07v1.07h-1.07zM16 18h1.07v1.07h-1.07zM15 19h1.07v1.07h-1.07zM18 19h1.07v1.07h-1.07z"/><path fill="#2b91ef" d="M11 9h1.07v1.07h-1.07zM13 10h1.07v1.07h-1.07zM7 16h1.07v1.07h-1.07zM7 17h1.07v1.07h-1.07zM6 19h1.07v1.07h-1.07z"/><path fill="#2a93ed" d="M13 9h1.07v1.07h-1.07zM7 10h1.07v1.07h-1.07zM11 10h1.07v1.07h-1.07zM7 14h1.07v1.07h-1.07zM6 15h1.07v1.07h-1.07zM7 15h1.07v1.07h-1.07zM6 17h1.07v1.07h-1.07zM6 18h1.07v1.07h-1.07zM7 18h1.07v1.07h-1.07z"/><path fill="#3c72ff" d="M14 10h1.07v1.07h-1.07zM16 10h1.07v1.07h-1.07zM14 16h1.07v1.07h-1.07zM19 17h1.07v1.07h-1.07zM15 18h1.07v1.07h-1.07zM14 19h1.07v1.07h-1.07z"/><path fill="#adc638" d="M0 11h1.07v1.07h-1.07zM3 11h1.07v1.07h-1.07zM4 11h1.07v1.07h-1.07z"/><path fill="#a0c941" d="M1 11h1.07v1.07h-1.07zM5 11h1.07v1.07h-1.07z"/><path fill="#0fb2d4" d="M6 11h1.07v1.07h-1.07zM7 11h1.07v1.07h-1.07zM6 12h1.07v1.07h-1.07zM7 12h1.07v1.07h-1.07zM6 13h1.07v1.07h-1.07zM12 13h1.07v1.07h-1.07zM8 20h1.07v1.07h-1.07zM15 20h1.07v1.07h-1.07zM16 20h1.07v1.07h-1.07zM18 20h1.07v1.07h-1.07z"/><path fill="#fec438" d="M11 11h1.07v1.07h-1.07zM0 12h1.07v1.07h-1.07zM3 12h1.07v1.07h-1.07z"/><path fill="#19acdc" d="M13 11h1.07v1.07h-1.07zM13 12h1.07v1.07h-1.07zM5 14h1.07v1.07h-1.07zM2 15h1.07v1.07h-1.07zM0 16h1.07v1.07h-1.07zM1 16h1.07v1.07h-1.07zM3 16h1.07v1.07h-1.07zM5 16h1.07v1.07h-1.07zM2 17h1.07v1.07h-1.07zM3 18h1.07v1.07h-1.07zM0 19h1.07v1.07h-1.07zM3 19h1.07v1.07h-1.07zM11 20h1.07v1.07h-1.07zM12 20h1.07v1.07h-1.07zM14 20h1.07v1.07h-1.07zM17 20h1.07v1.07h-1.07z"/><path fill="#fdcd32" d="M2 12h1.07v1.07h-1.07z"/><path fill="#febe3c" d="M5 12h1.07v1.07h-1.07z"/><path fill="#f0ba36" d="M0 13h1.07v1.07h-1.07z"/><path fill="#e2bc2b" d="M5 13h1.07v1.07h-1.07z"/><path fill="#0ab4d1" d="M7 13h1.07v1.07h-1.07z"/><path fill="#13b0d7" d="M1 14h1.07v1.07h-1.07zM1 15h1.07v1.07h-1.07zM10 20h1.07v1.07h-1.07zM13 20h1.07v1.07h-1.07z"/><path fill="#2d89f5" d="M12 14h1.07v1.07h-1.07zM13 14h1.07v1.07h-1.07zM12 15h1.07v1.07h-1.07zM11 17h1.07v1.07h-1.07zM11 19h1.07v1.07h-1.07zM13 19h1.07v1.07h-1.07z"/><path fill="#1fa6e2" d="M4 18h1.07v1.07h-1.07z"/><path fill="#4747eb" d="M20 18h1.07v1.07h-1.07z"/><path fill="#2ac3a9" d="M0 20h1.07v1.07h-1.07zM1 20h1.07v1.07h-1.07z"/><path fill="#1bc0b4" d="M2 20h1.07v1.07h-1.07z"/><path fill="#26c2ad" d="M3 20h1.07v1.07h-1.07zM4 20h1.07v1.07h-1.07zM5 20h1.07v1.07h-1.07z"/></g><g stroke="#d8283c" stroke-opacity="0.8" stroke-width="1.1" stroke-dasharray="3 2"><line x1="84.77" y1="492.2" x2="84.77" y2="616.7"/><line x1="49.2" y1="527.77" x2="173.7" y2="527.77"/><line x1="96.63" y1="492.2" x2="96.63" y2="616.7"/><line x1="49.2" y1="539.63" x2="173.7" y2="539.63"/><line x1="114.41" y1="492.2" x2="114.41" y2="616.7"/><line x1="49.2" y1="557.41" x2="173.7" y2="557.41"/><line x1="132.20" y1="492.2" x2="132.20" y2="616.7"/><line x1="49.2" y1="575.20" x2="173.7" y2="575.20"/><line x1="149.99" y1="492.2" x2="149.99" y2="616.7"/><line x1="49.2" y1="592.99" x2="173.7" y2="592.99"/><line x1="167.77" y1="492.2" x2="167.77" y2="616.7"/><line x1="49.2" y1="610.77" x2="173.7" y2="610.77"/></g><rect x="49.2" y="492.2" width="124.5" height="124.5" fill="none" stroke="#000" stroke-width="1.4"/><text x="88.86" y="482.7" font-size="9.8" text-anchor="middle" fill="#222">EMG</text><text x="120.94" y="482.7" font-size="9.8" text-anchor="middle" fill="#222">Cap</text><text x="155.8" y="482.7" font-size="9.8" text-anchor="middle" fill="#222">Mag</text><text x="64.73" y="490.3" font-size="9.8" text-anchor="middle" fill="#222">EEG</text><text x="103.92" y="490.3" font-size="9.8" text-anchor="middle" fill="#222">Acc</text><text x="139.02" y="490.3" font-size="9.8" text-anchor="middle" fill="#222">Gyro</text><text x="171.33" y="490.3" font-size="9.8" text-anchor="middle" fill="#222">Cds</text><g transform="translate(189.10,490.90) scale(5.9286,5.9286)"><path fill="#4330c5" d="M0 0h1.07v1.07h-1.07zM2 0h1.07v1.07h-1.07zM0 1h1.07v1.07h-1.07zM0 3h1.07v1.07h-1.07zM1 3h1.07v1.07h-1.07zM4 4h1.07v1.07h-1.07zM6 4h1.07v1.07h-1.07zM6 7h1.07v1.07h-1.07zM16 16h1.07v1.07h-1.07z"/><path fill="#fcd030" d="M1 0h1.07v1.07h-1.07zM4 15h1.07v1.07h-1.07zM9 16h1.07v1.07h-1.07z"/><path fill="#f9fb15" d="M3 0h1.07v1.07h-1.07zM4 0h1.07v1.07h-1.07zM9 0h1.07v1.07h-1.07zM15 0h1.07v1.07h-1.07zM5 1h1.07v1.07h-1.07zM7 1h1.07v1.07h-1.07zM9 1h1.07v1.07h-1.07zM14 1h1.07v1.07h-1.07zM15 1h1.07v1.07h-1.07zM16 1h1.07v1.07h-1.07zM15 2h1.07v1.07h-1.07zM16 2h1.07v1.07h-1.07zM7 3h1.07v1.07h-1.07zM14 3h1.07v1.07h-1.07zM9 4h1.07v1.07h-1.07zM9 5h1.07v1.07h-1.07zM15 5h1.07v1.07h-1.07zM1 6h1.07v1.07h-1.07zM2 6h1.07v1.07h-1.07zM2 7h1.07v1.07h-1.07zM3 8h1.07v1.07h-1.07zM3 9h1.07v1.07h-1.07zM3 12h1.07v1.07h-1.07zM1 14h1.07v1.07h-1.07zM3 14h1.07v1.07h-1.07zM4 14h1.07v1.07h-1.07zM3 15h1.07v1.07h-1.07zM1 16h1.07v1.07h-1.07zM3 16h1.07v1.07h-1.07zM4 16h1.07v1.07h-1.07zM3 19h1.07v1.07h-1.07zM1 20h1.07v1.07h-1.07z"/><path fill="#4744e8" d="M5 0h1.07v1.07h-1.07zM5 2h1.07v1.07h-1.07zM13 6h1.07v1.07h-1.07zM20 6h1.07v1.07h-1.07zM6 19h1.07v1.07h-1.07z"/><path fill="#2e86f7" d="M6 0h1.07v1.07h-1.07zM13 3h1.07v1.07h-1.07zM20 5h1.07v1.07h-1.07zM17 8h1.07v1.07h-1.07zM19 8h1.07v1.07h-1.07zM13 10h1.07v1.07h-1.07zM19 10h1.07v1.07h-1.07zM19 11h1.07v1.07h-1.07zM5 13h1.07v1.07h-1.07zM7 13h1.07v1.07h-1.07zM17 13h1.07v1.07h-1.07zM17 15h1.07v1.07h-1.07zM20 16h1.07v1.07h-1.07zM13 18h1.07v1.07h-1.07zM18 19h1.07v1.07h-1.07zM6 20h1.07v1.07h-1.07z"/><path fill="#484cf0" d="M7 0h1.07v1.07h-1.07zM20 9h1.07v1.07h-1.07z"/><path fill="#f9d62d" d="M8 0h1.07v1.07h-1.07zM8 1h1.07v1.07h-1.07zM16 3h1.07v1.07h-1.07zM2 14h1.07v1.07h-1.07z"/><path fill="#1fa6e2" d="M10 0h1.07v1.07h-1.07zM10 8h1.07v1.07h-1.07zM13 8h1.07v1.07h-1.07zM12 9h1.07v1.07h-1.07zM20 13h1.07v1.07h-1.07zM16 14h1.07v1.07h-1.07zM10 15h1.07v1.07h-1.07zM4 18h1.07v1.07h-1.07z"/><path fill="#02bac5" d="M11 0h1.07v1.07h-1.07zM2 4h1.07v1.07h-1.07zM8 6h1.07v1.07h-1.07zM9 8h1.07v1.07h-1.07zM11 8h1.07v1.07h-1.07zM8 18h1.07v1.07h-1.07zM14 18h1.07v1.07h-1.07z"/><path fill="#cdc028" d="M12 0h1.07v1.07h-1.07zM10 1h1.07v1.07h-1.07zM4 8h1.07v1.07h-1.07zM0 11h1.07v1.07h-1.07zM9 11h1.07v1.07h-1.07zM2 12h1.07v1.07h-1.07zM8 12h1.07v1.07h-1.07zM4 13h1.07v1.07h-1.07zM3 17h1.07v1.07h-1.07zM4 17h1.07v1.07h-1.07zM0 19h1.07v1.07h-1.07z"/><path fill="#2798ea" d="M13 0h1.07v1.07h-1.07zM18 3h1.07v1.07h-1.07zM18 5h1.07v1.07h-1.07zM15 8h1.07v1.07h-1.07zM13 15h1.07v1.07h-1.07zM7 17h1.07v1.07h-1.07zM16 18h1.07v1.07h-1.07z"/><path fill="#d2bf27" d="M14 0h1.07v1.07h-1.07zM8 9h1.07v1.07h-1.07zM3 13h1.07v1.07h-1.07zM14 16h1.07v1.07h-1.07z"/><path fill="#c7c12a" d="M16 0h1.07v1.07h-1.07zM3 6h1.07v1.07h-1.07zM0 9h1.07v1.07h-1.07z"/><path fill="#2e83f9" d="M17 0h1.07v1.07h-1.07zM6 1h1.07v1.07h-1.07zM13 1h1.07v1.07h-1.07zM17 3h1.07v1.07h-1.07zM20 3h1.07v1.07h-1.07zM13 5h1.07v1.07h-1.07zM12 6h1.07v1.07h-1.07zM19 6h1.07v1.07h-1.07zM6 9h1.07v1.07h-1.07zM18 12h1.07v1.07h-1.07zM19 12h1.07v1.07h-1.07zM13 19h1.07v1.07h-1.07zM12 20h1.07v1.07h-1.07zM17 20h1.07v1.07h-1.07zM19 20h1.07v1.07h-1.07z"/><path fill="#4369fe" d="M18 0h1.07v1.07h-1.07zM17 4h1.07v1.07h-1.07zM17 17h1.07v1.07h-1.07z"/><path fill="#317efb" d="M19 0h1.07v1.07h-1.07zM12 2h1.07v1.07h-1.07zM7 6h1.07v1.07h-1.07zM20 8h1.07v1.07h-1.07zM17 9h1.07v1.07h-1.07zM7 10h1.07v1.07h-1.07zM5 11h1.07v1.07h-1.07zM18 11h1.07v1.07h-1.07zM17 16h1.07v1.07h-1.07zM6 17h1.07v1.07h-1.07zM13 17h1.07v1.07h-1.07zM20 17h1.07v1.07h-1.07zM10 18h1.07v1.07h-1.07z"/><path fill="#269ae8" d="M20 0h1.07v1.07h-1.07zM19 3h1.07v1.07h-1.07zM19 5h1.07v1.07h-1.07zM19 17h1.07v1.07h-1.07zM15 18h1.07v1.07h-1.07zM7 20h1.07v1.07h-1.07zM11 20h1.07v1.07h-1.07z"/><path fill="#402ab4" d="M1 1h1.07v1.07h-1.07zM3 1h1.07v1.07h-1.07zM3 3h1.07v1.07h-1.07zM5 3h1.07v1.07h-1.07zM5 5h1.07v1.07h-1.07zM6 6h1.07v1.07h-1.07zM8 8h1.07v1.07h-1.07zM12 12h1.07v1.07h-1.07zM13 13h1.07v1.07h-1.07z"/><path fill="#4332cb" d="M2 1h1.07v1.07h-1.07zM1 4h1.07v1.07h-1.07zM15 15h1.07v1.07h-1.07z"/><path fill="#412cba" d="M4 1h1.07v1.07h-1.07zM2 2h1.07v1.07h-1.07zM4 2h1.07v1.07h-1.07zM6 2h1.07v1.07h-1.07zM4 3h1.07v1.07h-1.07zM0 4h1.07v1.07h-1.07zM3 5h1.07v1.07h-1.07z"/><path fill="#2b91ef" d="M11 1h1.07v1.07h-1.07zM7 8h1.07v1.07h-1.07zM7 12h1.07v1.07h-1.07zM10 12h1.07v1.07h-1.07zM13 12h1.07v1.07h-1.07zM18 13h1.07v1.07h-1.07zM8 14h1.07v1.07h-1.07zM7 18h1.07v1.07h-1.07z"/><path fill="#4dcb82" d="M12 1h1.07v1.07h-1.07zM15 7h1.07v1.07h-1.07zM16 20h1.07v1.07h-1.07z"/><path fill="#01b8c8" d="M17 1h1.07v1.07h-1.07zM18 1h1.07v1.07h-1.07zM3 10h1.07v1.07h-1.07zM7 14h1.07v1.07h-1.07zM7 15h1.07v1.07h-1.07zM12 16h1.07v1.07h-1.07zM14 17h1.07v1.07h-1.07zM13 20h1.07v1.07h-1.07zM20 20h1.07v1.07h-1.07z"/><path fill="#26c2ad" d="M19 1h1.07v1.07h-1.07zM3 11h1.07v1.07h-1.07zM14 11h1.07v1.07h-1.07zM9 18h1.07v1.07h-1.07zM14 20h1.07v1.07h-1.07z"/><path fill="#16aeda" d="M20 1h1.07v1.07h-1.07zM10 2h1.07v1.07h-1.07zM15 13h1.07v1.07h-1.07zM6 15h1.07v1.07h-1.07zM8 16h1.07v1.07h-1.07zM1 18h1.07v1.07h-1.07zM10 20h1.07v1.07h-1.07z"/><path fill="#3f28ae" d="M0 2h1.07v1.07h-1.07zM9 9h1.07v1.07h-1.07z"/><path fill="#4747eb" d="M1 2h1.07v1.07h-1.07zM17 7h1.07v1.07h-1.07zM18 10h1.07v1.07h-1.07zM19 13h1.07v1.07h-1.07z"/><path fill="#19acdc" d="M3 2h1.07v1.07h-1.07zM10 3h1.07v1.07h-1.07zM12 3h1.07v1.07h-1.07zM15 9h1.07v1.07h-1.07zM15 10h1.07v1.07h-1.07zM16 10h1.07v1.07h-1.07z"/><path fill="#422ebf" d="M7 2h1.07v1.07h-1.07zM2 3h1.07v1.07h-1.07zM6 3h1.07v1.07h-1.07zM3 4h1.07v1.07h-1.07zM1 5h1.07v1.07h-1.07zM6 5h1.07v1.07h-1.07zM14 14h1.07v1.07h-1.07z"/><path fill="#fbbc3d" d="M8 2h1.07v1.07h-1.07zM2 9h1.07v1.07h-1.07zM1 12h1.07v1.07h-1.07zM12 15h1.07v1.07h-1.07z"/><path fill="#f8f818" d="M9 2h1.07v1.07h-1.07zM9 3h1.07v1.07h-1.07zM8 5h1.07v1.07h-1.07zM0 7h1.07v1.07h-1.07zM4 9h1.07v1.07h-1.07zM0 13h1.07v1.07h-1.07z"/><path fill="#02b7cb" d="M11 2h1.07v1.07h-1.07zM9 7h1.07v1.07h-1.07zM5 9h1.07v1.07h-1.07zM11 9h1.07v1.07h-1.07zM14 10h1.07v1.07h-1.07zM2 13h1.07v1.07h-1.07zM16 13h1.07v1.07h-1.07zM5 17h1.07v1.07h-1.07zM12 18h1.07v1.07h-1.07zM19 18h1.07v1.07h-1.07zM9 19h1.07v1.07h-1.07zM16 19h1.07v1.07h-1.07zM15 20h1.07v1.07h-1.07z"/><path fill="#337bfd" d="M13 2h1.07v1.07h-1.07zM4 7h1.07v1.07h-1.07zM6 10h1.07v1.07h-1.07zM19 14h1.07v1.07h-1.07zM10 16h1.07v1.07h-1.07zM6 18h1.07v1.07h-1.07zM18 18h1.07v1.07h-1.07zM20 18h1.07v1.07h-1.07zM10 19h1.07v1.07h-1.07zM17 19h1.07v1.07h-1.07z"/><path fill="#1bc0b4" d="M14 2h1.07v1.07h-1.07zM11 13h1.07v1.07h-1.07zM2 17h1.07v1.07h-1.07z"/><path fill="#4563fc" d="M17 2h1.07v1.07h-1.07zM11 4h1.07v1.07h-1.07zM17 6h1.07v1.07h-1.07zM3 7h1.07v1.07h-1.07zM10 7h1.07v1.07h-1.07zM11 7h1.07v1.07h-1.07zM13 7h1.07v1.07h-1.07zM17 12h1.07v1.07h-1.07z"/><path fill="#4741e5" d="M18 2h1.07v1.07h-1.07zM20 4h1.07v1.07h-1.07zM5 7h1.07v1.07h-1.07zM18 7h1.07v1.07h-1.07zM11 11h1.07v1.07h-1.07zM10 13h1.07v1.07h-1.07z"/><path fill="#2f81fa" d="M19 2h1.07v1.07h-1.07zM12 4h1.07v1.07h-1.07zM10 6h1.07v1.07h-1.07zM12 7h1.07v1.07h-1.07zM20 7h1.07v1.07h-1.07zM20 10h1.07v1.07h-1.07zM17 14h1.07v1.07h-1.07zM18 15h1.07v1.07h-1.07zM18 16h1.07v1.07h-1.07zM19 16h1.07v1.07h-1.07zM12 17h1.07v1.07h-1.07zM18 17h1.07v1.07h-1.07z"/><path fill="#416bfe" d="M20 2h1.07v1.07h-1.07zM19 4h1.07v1.07h-1.07zM18 6h1.07v1.07h-1.07zM16 9h1.07v1.07h-1.07zM17 10h1.07v1.07h-1.07zM6 11h1.07v1.07h-1.07z"/><path fill="#f0ba36" d="M8 3h1.07v1.07h-1.07zM4 5h1.07v1.07h-1.07zM4 11h1.07v1.07h-1.07zM15 12h1.07v1.07h-1.07zM5 15h1.07v1.07h-1.07z"/><path fill="#ecba32" d="M11 3h1.07v1.07h-1.07zM7 7h1.07v1.07h-1.07zM14 9h1.07v1.07h-1.07zM9 10h1.07v1.07h-1.07zM16 12h1.07v1.07h-1.07zM4 19h1.07v1.07h-1.07z"/><path fill="#f5ba3a" d="M15 3h1.07v1.07h-1.07zM14 4h1.07v1.07h-1.07zM14 6h1.07v1.07h-1.07zM16 6h1.07v1.07h-1.07zM1 7h1.07v1.07h-1.07zM1 15h1.07v1.07h-1.07zM2 16h1.07v1.07h-1.07z"/><path fill="#2c8ef1" d="M5 4h1.07v1.07h-1.07zM13 11h1.07v1.07h-1.07z"/><path fill="#4849ed" d="M7 4h1.07v1.07h-1.07zM20 11h1.07v1.07h-1.07zM19 19h1.07v1.07h-1.07z"/><path fill="#fbd32e" d="M8 4h1.07v1.07h-1.07zM16 4h1.07v1.07h-1.07zM0 8h1.07v1.07h-1.07zM5 14h1.07v1.07h-1.07z"/><path fill="#1baade" d="M10 4h1.07v1.07h-1.07zM8 7h1.07v1.07h-1.07zM10 14h1.07v1.07h-1.07zM20 14h1.07v1.07h-1.07zM16 15h1.07v1.07h-1.07zM20 19h1.07v1.07h-1.07zM8 20h1.07v1.07h-1.07z"/><path fill="#4660fb" d="M13 4h1.07v1.07h-1.07zM19 7h1.07v1.07h-1.07zM17 11h1.07v1.07h-1.07z"/><path fill="#2ac3a9" d="M15 4h1.07v1.07h-1.07zM12 10h1.07v1.07h-1.07zM14 12h1.07v1.07h-1.07zM6 13h1.07v1.07h-1.07zM15 14h1.07v1.07h-1.07zM5 20h1.07v1.07h-1.07z"/><path fill="#3f6eff" d="M18 4h1.07v1.07h-1.07zM17 18h1.07v1.07h-1.07zM18 20h1.07v1.07h-1.07z"/><path fill="#d8be28" d="M0 5h1.07v1.07h-1.07zM10 5h1.07v1.07h-1.07zM9 6h1.07v1.07h-1.07zM8 11h1.07v1.07h-1.07z"/><path fill="#f7f51b" d="M2 5h1.07v1.07h-1.07zM4 6h1.07v1.07h-1.07zM5 6h1.07v1.07h-1.07zM16 7h1.07v1.07h-1.07zM2 8h1.07v1.07h-1.07zM3 20h1.07v1.07h-1.07z"/><path fill="#2dc4a5" d="M7 5h1.07v1.07h-1.07zM12 5h1.07v1.07h-1.07zM0 10h1.07v1.07h-1.07zM8 10h1.07v1.07h-1.07zM2 11h1.07v1.07h-1.07zM0 12h1.07v1.07h-1.07zM9 14h1.07v1.07h-1.07zM0 15h1.07v1.07h-1.07zM0 16h1.07v1.07h-1.07zM11 17h1.07v1.07h-1.07zM2 18h1.07v1.07h-1.07zM7 19h1.07v1.07h-1.07zM15 19h1.07v1.07h-1.07z"/><path fill="#91ca4c" d="M11 5h1.07v1.07h-1.07zM11 15h1.07v1.07h-1.07zM2 19h1.07v1.07h-1.07z"/><path fill="#adc638" d="M14 5h1.07v1.07h-1.07zM0 14h1.07v1.07h-1.07z"/><path fill="#f8d92b" d="M16 5h1.07v1.07h-1.07zM15 6h1.07v1.07h-1.07z"/><path fill="#2a93ed" d="M17 5h1.07v1.07h-1.07zM16 8h1.07v1.07h-1.07z"/><path fill="#4466fd" d="M0 6h1.07v1.07h-1.07zM11 6h1.07v1.07h-1.07zM10 10h1.07v1.07h-1.07zM6 12h1.07v1.07h-1.07zM18 14h1.07v1.07h-1.07zM19 15h1.07v1.07h-1.07z"/><path fill="#c1c32c" d="M14 7h1.07v1.07h-1.07zM9 15h1.07v1.07h-1.07zM4 20h1.07v1.07h-1.07z"/><path fill="#f9ba3d" d="M1 8h1.07v1.07h-1.07zM4 10h1.07v1.07h-1.07zM4 12h1.07v1.07h-1.07z"/><path fill="#06b5ce" d="M5 8h1.07v1.07h-1.07zM13 9h1.07v1.07h-1.07zM2 10h1.07v1.07h-1.07zM14 13h1.07v1.07h-1.07zM11 18h1.07v1.07h-1.07z"/><path fill="#2d89f5" d="M6 8h1.07v1.07h-1.07zM18 9h1.07v1.07h-1.07zM20 15h1.07v1.07h-1.07zM10 17h1.07v1.07h-1.07z"/><path fill="#1da8e0" d="M12 8h1.07v1.07h-1.07zM11 10h1.07v1.07h-1.07zM8 15h1.07v1.07h-1.07zM7 16h1.07v1.07h-1.07zM1 17h1.07v1.07h-1.07zM3 18h1.07v1.07h-1.07zM8 19h1.07v1.07h-1.07z"/><path fill="#47cb87" d="M14 8h1.07v1.07h-1.07z"/><path fill="#2896ec" d="M18 8h1.07v1.07h-1.07zM19 9h1.07v1.07h-1.07zM7 11h1.07v1.07h-1.07zM10 11h1.07v1.07h-1.07zM15 17h1.07v1.07h-1.07zM16 17h1.07v1.07h-1.07zM11 19h1.07v1.07h-1.07z"/><path fill="#53cc7d" d="M1 9h1.07v1.07h-1.07z"/><path fill="#09bcbe" d="M7 9h1.07v1.07h-1.07zM5 10h1.07v1.07h-1.07zM1 13h1.07v1.07h-1.07zM14 15h1.07v1.07h-1.07zM6 16h1.07v1.07h-1.07zM14 19h1.07v1.07h-1.07z"/><path fill="#20a4e3" d="M10 9h1.07v1.07h-1.07zM15 16h1.07v1.07h-1.07z"/><path fill="#66cd6d" d="M1 10h1.07v1.07h-1.07z"/><path fill="#21c1b0" d="M1 11h1.07v1.07h-1.07zM5 12h1.07v1.07h-1.07zM9 13h1.07v1.07h-1.07zM12 14h1.07v1.07h-1.07zM1 19h1.07v1.07h-1.07zM5 19h1.07v1.07h-1.07z"/><path fill="#04bbc2" d="M12 11h1.07v1.07h-1.07zM15 11h1.07v1.07h-1.07zM16 11h1.07v1.07h-1.07zM12 13h1.07v1.07h-1.07zM11 16h1.07v1.07h-1.07zM8 17h1.07v1.07h-1.07zM5 18h1.07v1.07h-1.07zM0 20h1.07v1.07h-1.07z"/><path fill="#ddbd29" d="M9 12h1.07v1.07h-1.07zM9 17h1.07v1.07h-1.07z"/><path fill="#59cc78" d="M11 12h1.07v1.07h-1.07zM8 13h1.07v1.07h-1.07zM6 14h1.07v1.07h-1.07zM13 14h1.07v1.07h-1.07zM2 15h1.07v1.07h-1.07zM13 16h1.07v1.07h-1.07zM12 19h1.07v1.07h-1.07z"/><path fill="#473ee1" d="M20 12h1.07v1.07h-1.07z"/><path fill="#60cd73" d="M11 14h1.07v1.07h-1.07zM0 17h1.07v1.07h-1.07z"/><path fill="#febe3c" d="M5 16h1.07v1.07h-1.07z"/><path fill="#a0c941" d="M0 18h1.07v1.07h-1.07z"/><path fill="#99c946" d="M2 20h1.07v1.07h-1.07z"/><path fill="#a6c73c" d="M9 20h1.07v1.07h-1.07z"/></g><g stroke="#d8283c" stroke-opacity="0.8" stroke-width="1.1" stroke-dasharray="3 2"><line x1="224.67" y1="490.9" x2="224.67" y2="615.4"/><line x1="189.1" y1="526.47" x2="313.6" y2="526.47"/><line x1="236.53" y1="490.9" x2="236.53" y2="615.4"/><line x1="189.1" y1="538.33" x2="313.6" y2="538.33"/><line x1="254.31" y1="490.9" x2="254.31" y2="615.4"/><line x1="189.1" y1="556.11" x2="313.6" y2="556.11"/><line x1="272.10" y1="490.9" x2="272.10" y2="615.4"/><line x1="189.1" y1="573.90" x2="313.6" y2="573.90"/><line x1="289.89" y1="490.9" x2="289.89" y2="615.4"/><line x1="189.1" y1="591.69" x2="313.6" y2="591.69"/><line x1="307.67" y1="490.9" x2="307.67" y2="615.4"/><line x1="189.1" y1="609.47" x2="313.6" y2="609.47"/></g><rect x="189.1" y="490.9" width="124.5" height="124.5" fill="none" stroke="#000" stroke-width="1.4"/><text x="228.76" y="480.5" font-size="9.8" text-anchor="middle" fill="#222">EMG</text><text x="260.84" y="480.5" font-size="9.8" text-anchor="middle" fill="#222">Cap</text><text x="295.7" y="480.5" font-size="9.8" text-anchor="middle" fill="#222">Mag</text><text x="204.63" y="489.0" font-size="9.8" text-anchor="middle" fill="#222">EEG</text><text x="243.82" y="489.0" font-size="9.8" text-anchor="middle" fill="#222">Acc</text><text x="278.92" y="489.0" font-size="9.8" text-anchor="middle" fill="#222">Gyro</text><text x="311.23" y="489.0" font-size="9.8" text-anchor="middle" fill="#222">Cds</text><g transform="translate(324.30,489.90) scale(5.9286,5.9286)"><path fill="#422ebf" d="M0 0h1.07v1.07h-1.07zM0 1h1.07v1.07h-1.07zM1 1h1.07v1.07h-1.07zM2 1h1.07v1.07h-1.07zM3 1h1.07v1.07h-1.07zM0 2h1.07v1.07h-1.07zM2 2h1.07v1.07h-1.07zM0 3h1.07v1.07h-1.07zM1 3h1.07v1.07h-1.07zM3 3h1.07v1.07h-1.07zM4 3h1.07v1.07h-1.07zM5 3h1.07v1.07h-1.07zM6 3h1.07v1.07h-1.07zM0 4h1.07v1.07h-1.07zM1 4h1.07v1.07h-1.07zM3 4h1.07v1.07h-1.07zM4 4h1.07v1.07h-1.07zM6 4h1.07v1.07h-1.07zM1 5h1.07v1.07h-1.07zM3 5h1.07v1.07h-1.07zM5 5h1.07v1.07h-1.07zM6 5h1.07v1.07h-1.07zM6 6h1.07v1.07h-1.07zM6 7h1.07v1.07h-1.07zM8 8h1.07v1.07h-1.07zM9 9h1.07v1.07h-1.07zM14 14h1.07v1.07h-1.07z"/><path fill="#f9fb15" d="M1 0h1.07v1.07h-1.07zM2 0h1.07v1.07h-1.07zM3 0h1.07v1.07h-1.07zM4 0h1.07v1.07h-1.07zM5 0h1.07v1.07h-1.07zM4 1h1.07v1.07h-1.07zM5 1h1.07v1.07h-1.07zM1 2h1.07v1.07h-1.07zM3 2h1.07v1.07h-1.07zM4 2h1.07v1.07h-1.07zM5 2h1.07v1.07h-1.07zM2 3h1.07v1.07h-1.07zM2 4h1.07v1.07h-1.07zM5 4h1.07v1.07h-1.07zM0 5h1.07v1.07h-1.07zM2 5h1.07v1.07h-1.07zM4 5h1.07v1.07h-1.07zM7 6h1.07v1.07h-1.07zM0 7h1.07v1.07h-1.07zM1 7h1.07v1.07h-1.07zM2 7h1.07v1.07h-1.07zM3 7h1.07v1.07h-1.07zM7 7h1.07v1.07h-1.07zM10 10h1.07v1.07h-1.07zM0 11h1.07v1.07h-1.07zM1 11h1.07v1.07h-1.07zM2 11h1.07v1.07h-1.07zM5 11h1.07v1.07h-1.07zM11 11h1.07v1.07h-1.07zM2 12h1.07v1.07h-1.07zM3 12h1.07v1.07h-1.07zM4 12h1.07v1.07h-1.07zM12 12h1.07v1.07h-1.07zM1 13h1.07v1.07h-1.07zM4 13h1.07v1.07h-1.07zM13 13h1.07v1.07h-1.07zM15 15h1.07v1.07h-1.07zM16 16h1.07v1.07h-1.07zM17 17h1.07v1.07h-1.07zM18 18h1.07v1.07h-1.07zM19 19h1.07v1.07h-1.07zM20 20h1.07v1.07h-1.07z"/><path fill="#2f81fa" d="M6 0h1.07v1.07h-1.07zM7 0h1.07v1.07h-1.07zM16 0h1.07v1.07h-1.07zM6 1h1.07v1.07h-1.07zM7 1h1.07v1.07h-1.07zM16 1h1.07v1.07h-1.07zM6 2h1.07v1.07h-1.07zM7 2h1.07v1.07h-1.07zM14 2h1.07v1.07h-1.07zM7 3h1.07v1.07h-1.07zM14 3h1.07v1.07h-1.07zM15 3h1.07v1.07h-1.07zM17 3h1.07v1.07h-1.07zM16 4h1.07v1.07h-1.07zM7 5h1.07v1.07h-1.07zM16 5h1.07v1.07h-1.07z"/><path fill="#20a4e3" d="M8 0h1.07v1.07h-1.07zM9 1h1.07v1.07h-1.07zM10 4h1.07v1.07h-1.07zM17 6h1.07v1.07h-1.07zM18 6h1.07v1.07h-1.07zM9 7h1.07v1.07h-1.07zM10 7h1.07v1.07h-1.07zM9 8h1.07v1.07h-1.07zM8 9h1.07v1.07h-1.07zM9 13h1.07v1.07h-1.07zM10 15h1.07v1.07h-1.07zM14 16h1.07v1.07h-1.07zM14 18h1.07v1.07h-1.07z"/><path fill="#1da8e0" d="M9 0h1.07v1.07h-1.07zM10 0h1.07v1.07h-1.07zM10 1h1.07v1.07h-1.07zM8 2h1.07v1.07h-1.07zM10 3h1.07v1.07h-1.07zM10 5h1.07v1.07h-1.07z"/><path fill="#47cb87" d="M11 0h1.07v1.07h-1.07zM11 1h1.07v1.07h-1.07zM11 2h1.07v1.07h-1.07zM11 3h1.07v1.07h-1.07zM11 4h1.07v1.07h-1.07zM11 5h1.07v1.07h-1.07zM3 15h1.07v1.07h-1.07zM1 16h1.07v1.07h-1.07zM2 16h1.07v1.07h-1.07zM4 16h1.07v1.07h-1.07zM5 16h1.07v1.07h-1.07zM9 20h1.07v1.07h-1.07zM19 20h1.07v1.07h-1.07z"/><path fill="#d8be28" d="M12 0h1.07v1.07h-1.07zM2 8h1.07v1.07h-1.07zM4 8h1.07v1.07h-1.07zM5 8h1.07v1.07h-1.07zM0 9h1.07v1.07h-1.07zM4 9h1.07v1.07h-1.07zM5 9h1.07v1.07h-1.07zM0 10h1.07v1.07h-1.07zM12 20h1.07v1.07h-1.07z"/><path fill="#d2bf27" d="M13 0h1.07v1.07h-1.07zM13 1h1.07v1.07h-1.07zM13 2h1.07v1.07h-1.07zM0 8h1.07v1.07h-1.07zM2 9h1.07v1.07h-1.07zM3 9h1.07v1.07h-1.07zM1 10h1.07v1.07h-1.07zM4 10h1.07v1.07h-1.07zM5 10h1.07v1.07h-1.07zM12 11h1.07v1.07h-1.07zM11 12h1.07v1.07h-1.07z"/><path fill="#2e83f9" d="M14 0h1.07v1.07h-1.07zM15 0h1.07v1.07h-1.07zM18 0h1.07v1.07h-1.07zM16 2h1.07v1.07h-1.07zM19 4h1.07v1.07h-1.07z"/><path fill="#317efb" d="M17 0h1.07v1.07h-1.07zM15 1h1.07v1.07h-1.07zM17 1h1.07v1.07h-1.07zM19 1h1.07v1.07h-1.07zM15 2h1.07v1.07h-1.07zM18 2h1.07v1.07h-1.07zM19 3h1.07v1.07h-1.07zM14 4h1.07v1.07h-1.07z"/><path fill="#2e86f7" d="M19 0h1.07v1.07h-1.07zM17 4h1.07v1.07h-1.07zM18 4h1.07v1.07h-1.07zM17 5h1.07v1.07h-1.07z"/><path fill="#4744e8" d="M20 0h1.07v1.07h-1.07zM20 2h1.07v1.07h-1.07zM20 3h1.07v1.07h-1.07z"/><path fill="#22a2e4" d="M8 1h1.07v1.07h-1.07zM10 2h1.07v1.07h-1.07zM8 3h1.07v1.07h-1.07zM9 3h1.07v1.07h-1.07zM9 4h1.07v1.07h-1.07zM8 5h1.07v1.07h-1.07zM10 6h1.07v1.07h-1.07zM19 6h1.07v1.07h-1.07zM19 7h1.07v1.07h-1.07zM10 8h1.07v1.07h-1.07zM10 9h1.07v1.07h-1.07zM8 10h1.07v1.07h-1.07zM8 11h1.07v1.07h-1.07zM18 11h1.07v1.07h-1.07zM17 12h1.07v1.07h-1.07zM10 14h1.07v1.07h-1.07zM15 14h1.07v1.07h-1.07zM9 15h1.07v1.07h-1.07zM17 15h1.07v1.07h-1.07zM10 16h1.07v1.07h-1.07zM17 16h1.07v1.07h-1.07zM18 16h1.07v1.07h-1.07zM8 19h1.07v1.07h-1.07zM9 19h1.07v1.07h-1.07zM14 19h1.07v1.07h-1.07zM16 19h1.07v1.07h-1.07z"/><path fill="#ecba32" d="M12 1h1.07v1.07h-1.07zM12 2h1.07v1.07h-1.07zM12 3h1.07v1.07h-1.07zM12 4h1.07v1.07h-1.07zM12 5h1.07v1.07h-1.07zM3 8h1.07v1.07h-1.07zM6 12h1.07v1.07h-1.07z"/><path fill="#2d89f5" d="M14 1h1.07v1.07h-1.07zM19 2h1.07v1.07h-1.07zM18 3h1.07v1.07h-1.07zM15 5h1.07v1.07h-1.07z"/><path fill="#337bfd" d="M18 1h1.07v1.07h-1.07zM17 2h1.07v1.07h-1.07zM16 3h1.07v1.07h-1.07zM15 4h1.07v1.07h-1.07zM14 5h1.07v1.07h-1.07zM18 5h1.07v1.07h-1.07zM19 5h1.07v1.07h-1.07z"/><path fill="#4852f4" d="M20 1h1.07v1.07h-1.07zM20 6h1.07v1.07h-1.07zM20 8h1.07v1.07h-1.07z"/><path fill="#249fe5" d="M9 2h1.07v1.07h-1.07zM8 6h1.07v1.07h-1.07zM8 12h1.07v1.07h-1.07zM16 12h1.07v1.07h-1.07zM18 12h1.07v1.07h-1.07zM19 12h1.07v1.07h-1.07zM16 13h1.07v1.07h-1.07zM17 13h1.07v1.07h-1.07zM8 14h1.07v1.07h-1.07zM17 14h1.07v1.07h-1.07zM18 14h1.07v1.07h-1.07zM19 14h1.07v1.07h-1.07zM18 15h1.07v1.07h-1.07zM15 16h1.07v1.07h-1.07zM10 17h1.07v1.07h-1.07zM15 18h1.07v1.07h-1.07zM18 19h1.07v1.07h-1.07z"/><path fill="#a0c941" d="M13 3h1.07v1.07h-1.07zM13 4h1.07v1.07h-1.07zM13 5h1.07v1.07h-1.07z"/><path fill="#fbd32e" d="M7 4h1.07v1.07h-1.07z"/><path fill="#1baade" d="M8 4h1.07v1.07h-1.07zM9 5h1.07v1.07h-1.07zM8 7h1.07v1.07h-1.07z"/><path fill="#4849ed" d="M20 4h1.07v1.07h-1.07z"/><path fill="#484ff2" d="M20 5h1.07v1.07h-1.07zM20 10h1.07v1.07h-1.07zM20 16h1.07v1.07h-1.07z"/><path fill="#26c2ad" d="M0 6h1.07v1.07h-1.07z"/><path fill="#fdcd32" d="M1 6h1.07v1.07h-1.07zM5 6h1.07v1.07h-1.07z"/><path fill="#f5ba3a" d="M2 6h1.07v1.07h-1.07zM3 6h1.07v1.07h-1.07zM4 6h1.07v1.07h-1.07zM5 7h1.07v1.07h-1.07zM6 20h1.07v1.07h-1.07z"/><path fill="#1fa6e2" d="M9 6h1.07v1.07h-1.07z"/><path fill="#c1c32c" d="M11 6h1.07v1.07h-1.07zM11 7h1.07v1.07h-1.07zM13 11h1.07v1.07h-1.07zM11 13h1.07v1.07h-1.07zM12 13h1.07v1.07h-1.07z"/><path fill="#bac430" d="M12 6h1.07v1.07h-1.07zM13 6h1.07v1.07h-1.07z"/><path fill="#2a93ed" d="M14 6h1.07v1.07h-1.07zM14 8h1.07v1.07h-1.07zM15 8h1.07v1.07h-1.07zM18 9h1.07v1.07h-1.07z"/><path fill="#2896ec" d="M15 6h1.07v1.07h-1.07zM14 7h1.07v1.07h-1.07zM15 7h1.07v1.07h-1.07zM18 8h1.07v1.07h-1.07zM14 9h1.07v1.07h-1.07zM19 9h1.07v1.07h-1.07zM16 10h1.07v1.07h-1.07zM15 11h1.07v1.07h-1.07zM17 11h1.07v1.07h-1.07zM18 13h1.07v1.07h-1.07z"/><path fill="#269ae8" d="M16 6h1.07v1.07h-1.07zM17 7h1.07v1.07h-1.07zM17 8h1.07v1.07h-1.07zM17 9h1.07v1.07h-1.07zM9 10h1.07v1.07h-1.07zM18 10h1.07v1.07h-1.07zM14 11h1.07v1.07h-1.07zM9 12h1.07v1.07h-1.07zM15 12h1.07v1.07h-1.07zM8 13h1.07v1.07h-1.07zM14 13h1.07v1.07h-1.07zM15 13h1.07v1.07h-1.07zM19 13h1.07v1.07h-1.07zM9 14h1.07v1.07h-1.07zM8 15h1.07v1.07h-1.07zM14 15h1.07v1.07h-1.07zM19 15h1.07v1.07h-1.07zM8 16h1.07v1.07h-1.07zM9 16h1.07v1.07h-1.07zM9 17h1.07v1.07h-1.07zM15 17h1.07v1.07h-1.07zM18 17h1.07v1.07h-1.07zM9 18h1.07v1.07h-1.07zM19 18h1.07v1.07h-1.07zM10 19h1.07v1.07h-1.07zM15 19h1.07v1.07h-1.07z"/><path fill="#66cd6d" d="M4 7h1.07v1.07h-1.07zM15 20h1.07v1.07h-1.07zM16 20h1.07v1.07h-1.07z"/><path fill="#cdc028" d="M12 7h1.07v1.07h-1.07zM13 7h1.07v1.07h-1.07z"/><path fill="#2798ea" d="M16 7h1.07v1.07h-1.07zM16 8h1.07v1.07h-1.07zM15 9h1.07v1.07h-1.07zM14 10h1.07v1.07h-1.07zM15 10h1.07v1.07h-1.07zM19 10h1.07v1.07h-1.07zM19 17h1.07v1.07h-1.07z"/><path fill="#259de7" d="M18 7h1.07v1.07h-1.07zM9 11h1.07v1.07h-1.07zM10 11h1.07v1.07h-1.07zM16 11h1.07v1.07h-1.07zM19 11h1.07v1.07h-1.07zM10 12h1.07v1.07h-1.07zM14 12h1.07v1.07h-1.07zM10 13h1.07v1.07h-1.07zM16 14h1.07v1.07h-1.07zM16 15h1.07v1.07h-1.07zM19 16h1.07v1.07h-1.07zM8 17h1.07v1.07h-1.07zM14 17h1.07v1.07h-1.07zM16 17h1.07v1.07h-1.07zM8 18h1.07v1.07h-1.07zM10 18h1.07v1.07h-1.07zM16 18h1.07v1.07h-1.07zM17 18h1.07v1.07h-1.07zM17 19h1.07v1.07h-1.07z"/><path fill="#4757f8" d="M20 7h1.07v1.07h-1.07zM20 12h1.07v1.07h-1.07z"/><path fill="#e7bb2e" d="M1 8h1.07v1.07h-1.07zM2 10h1.07v1.07h-1.07zM7 11h1.07v1.07h-1.07zM6 13h1.07v1.07h-1.07zM7 13h1.07v1.07h-1.07z"/><path fill="#21c1b0" d="M6 8h1.07v1.07h-1.07zM7 9h1.07v1.07h-1.07zM13 9h1.07v1.07h-1.07z"/><path fill="#2ac3a9" d="M7 8h1.07v1.07h-1.07z"/><path fill="#0ebebb" d="M11 8h1.07v1.07h-1.07zM11 10h1.07v1.07h-1.07zM13 10h1.07v1.07h-1.07z"/><path fill="#09bcbe" d="M12 8h1.07v1.07h-1.07zM6 15h1.07v1.07h-1.07zM6 18h1.07v1.07h-1.07zM6 19h1.07v1.07h-1.07z"/><path fill="#15bfb7" d="M13 8h1.07v1.07h-1.07zM6 9h1.07v1.07h-1.07zM7 10h1.07v1.07h-1.07zM12 10h1.07v1.07h-1.07z"/><path fill="#2b91ef" d="M19 8h1.07v1.07h-1.07zM16 9h1.07v1.07h-1.07zM17 10h1.07v1.07h-1.07z"/><path fill="#e2bc2b" d="M1 9h1.07v1.07h-1.07zM3 10h1.07v1.07h-1.07zM7 12h1.07v1.07h-1.07zM11 20h1.07v1.07h-1.07zM13 20h1.07v1.07h-1.07z"/><path fill="#1bc0b4" d="M11 9h1.07v1.07h-1.07zM12 9h1.07v1.07h-1.07zM6 10h1.07v1.07h-1.07z"/><path fill="#475af9" d="M20 9h1.07v1.07h-1.07zM20 13h1.07v1.07h-1.07zM20 19h1.07v1.07h-1.07z"/><path fill="#f7f51b" d="M3 11h1.07v1.07h-1.07zM4 11h1.07v1.07h-1.07zM0 12h1.07v1.07h-1.07zM0 13h1.07v1.07h-1.07zM3 13h1.07v1.07h-1.07z"/><path fill="#ddbd29" d="M6 11h1.07v1.07h-1.07z"/><path fill="#465dfa" d="M20 11h1.07v1.07h-1.07z"/><path fill="#f8f818" d="M1 12h1.07v1.07h-1.07zM5 12h1.07v1.07h-1.07zM2 13h1.07v1.07h-1.07zM5 13h1.07v1.07h-1.07z"/><path fill="#c7c12a" d="M13 12h1.07v1.07h-1.07z"/><path fill="#41ca8c" d="M0 14h1.07v1.07h-1.07zM1 14h1.07v1.07h-1.07zM2 14h1.07v1.07h-1.07zM4 14h1.07v1.07h-1.07zM5 15h1.07v1.07h-1.07z"/><path fill="#4dcb82" d="M3 14h1.07v1.07h-1.07zM4 15h1.07v1.07h-1.07zM10 20h1.07v1.07h-1.07z"/><path fill="#3dc991" d="M5 14h1.07v1.07h-1.07zM0 15h1.07v1.07h-1.07z"/><path fill="#02b7cb" d="M6 14h1.07v1.07h-1.07zM12 15h1.07v1.07h-1.07zM13 16h1.07v1.07h-1.07zM11 17h1.07v1.07h-1.07zM7 19h1.07v1.07h-1.07zM11 19h1.07v1.07h-1.07zM13 19h1.07v1.07h-1.07z"/><path fill="#01b8c8" d="M7 14h1.07v1.07h-1.07z"/><path fill="#13b0d7" d="M11 14h1.07v1.07h-1.07z"/><path fill="#06b5ce" d="M12 14h1.07v1.07h-1.07zM13 17h1.07v1.07h-1.07zM11 18h1.07v1.07h-1.07z"/><path fill="#0ab4d1" d="M13 14h1.07v1.07h-1.07zM13 15h1.07v1.07h-1.07zM11 16h1.07v1.07h-1.07zM13 18h1.07v1.07h-1.07z"/><path fill="#4755f6" d="M20 14h1.07v1.07h-1.07zM20 15h1.07v1.07h-1.07zM20 17h1.07v1.07h-1.07zM20 18h1.07v1.07h-1.07z"/><path fill="#53cc7d" d="M1 15h1.07v1.07h-1.07zM2 15h1.07v1.07h-1.07zM0 16h1.07v1.07h-1.07zM3 16h1.07v1.07h-1.07zM8 20h1.07v1.07h-1.07zM18 20h1.07v1.07h-1.07z"/><path fill="#04bbc2" d="M7 15h1.07v1.07h-1.07zM7 16h1.07v1.07h-1.07zM6 17h1.07v1.07h-1.07zM12 18h1.07v1.07h-1.07zM12 19h1.07v1.07h-1.07z"/><path fill="#0fb2d4" d="M11 15h1.07v1.07h-1.07zM12 16h1.07v1.07h-1.07z"/><path fill="#02bac5" d="M6 16h1.07v1.07h-1.07zM7 17h1.07v1.07h-1.07zM12 17h1.07v1.07h-1.07zM7 18h1.07v1.07h-1.07z"/><path fill="#adc638" d="M0 17h1.07v1.07h-1.07zM1 17h1.07v1.07h-1.07zM2 17h1.07v1.07h-1.07zM3 17h1.07v1.07h-1.07zM4 17h1.07v1.07h-1.07zM5 17h1.07v1.07h-1.07z"/><path fill="#6dcd67" d="M0 18h1.07v1.07h-1.07zM2 18h1.07v1.07h-1.07zM3 18h1.07v1.07h-1.07zM1 19h1.07v1.07h-1.07zM2 19h1.07v1.07h-1.07z"/><path fill="#7ccc5c" d="M1 18h1.07v1.07h-1.07zM4 18h1.07v1.07h-1.07zM0 19h1.07v1.07h-1.07z"/><path fill="#8acb51" d="M5 18h1.07v1.07h-1.07zM3 19h1.07v1.07h-1.07z"/><path fill="#83cc57" d="M4 19h1.07v1.07h-1.07zM5 19h1.07v1.07h-1.07z"/><path fill="#fec736" d="M0 20h1.07v1.07h-1.07zM2 20h1.07v1.07h-1.07z"/><path fill="#fec438" d="M1 20h1.07v1.07h-1.07zM3 20h1.07v1.07h-1.07z"/><path fill="#feca33" d="M4 20h1.07v1.07h-1.07z"/><path fill="#fec13a" d="M5 20h1.07v1.07h-1.07z"/><path fill="#f9ba3d" d="M7 20h1.07v1.07h-1.07z"/><path fill="#59cc78" d="M14 20h1.07v1.07h-1.07z"/><path fill="#60cd73" d="M17 20h1.07v1.07h-1.07z"/></g><g stroke="#d8283c" stroke-opacity="0.8" stroke-width="1.1" stroke-dasharray="3 2"><line x1="359.87" y1="489.9" x2="359.87" y2="614.4"/><line x1="324.3" y1="525.47" x2="448.8" y2="525.47"/><line x1="371.73" y1="489.9" x2="371.73" y2="614.4"/><line x1="324.3" y1="537.33" x2="448.8" y2="537.33"/><line x1="389.51" y1="489.9" x2="389.51" y2="614.4"/><line x1="324.3" y1="555.11" x2="448.8" y2="555.11"/><line x1="407.30" y1="489.9" x2="407.30" y2="614.4"/><line x1="324.3" y1="572.90" x2="448.8" y2="572.90"/><line x1="425.09" y1="489.9" x2="425.09" y2="614.4"/><line x1="324.3" y1="590.69" x2="448.8" y2="590.69"/><line x1="442.87" y1="489.9" x2="442.87" y2="614.4"/><line x1="324.3" y1="608.47" x2="448.8" y2="608.47"/></g><rect x="324.3" y="489.9" width="124.5" height="124.5" fill="none" stroke="#000" stroke-width="1.4"/><text x="363.96" y="479.7" font-size="9.8" text-anchor="middle" fill="#222">EMG</text><text x="396.04" y="479.7" font-size="9.8" text-anchor="middle" fill="#222">Cap</text><text x="430.9" y="479.7" font-size="9.8" text-anchor="middle" fill="#222">Mag</text><text x="339.83" y="487.6" font-size="9.8" text-anchor="middle" fill="#222">EEG</text><text x="379.02" y="487.6" font-size="9.8" text-anchor="middle" fill="#222">Acc</text><text x="414.12" y="487.6" font-size="9.8" text-anchor="middle" fill="#222">Gyro</text><text x="446.43" y="487.6" font-size="9.8" text-anchor="middle" fill="#222">Cds</text><text x="46.6" y="516.8" font-size="9.8" text-anchor="end" fill="#222">EEG</text><text x="46.6" y="537.8" font-size="9.8" text-anchor="end" fill="#222">EMG</text><text x="46.6" y="551.8" font-size="9.8" text-anchor="end" fill="#222">Acc</text><text x="46.6" y="567.9" font-size="9.8" text-anchor="end" fill="#222">Cap</text><text x="46.6" y="586.4" font-size="9.8" text-anchor="end" fill="#222">Gyro</text><text x="46.6" y="603.8" font-size="9.8" text-anchor="end" fill="#222">Mag</text><text x="46.6" y="616.3" font-size="9.8" text-anchor="end" fill="#222">Cds</text><rect x="114.6" y="498.6" width="7.2" height="7.2" fill="none" stroke="#ff1a1a" stroke-width="1.4"/><rect x="57.6" y="557.8" width="7.6" height="7.4" fill="none" stroke="#ff1a1a" stroke-width="1.4"/><g fill="#e0303a" fill-opacity="0.62"><rect x="137" y="502" width="44" height="3"/><polygon points="126.3,503.5 137.4,497.6 137.4,509.7"/><rect x="81" y="559.8" width="95" height="3"/><polygon points="70.5,561.2 81,555.4 81,567"/></g><path d="M 176,503.5 H 180.6 V 782" fill="none" stroke="#f08a92" stroke-width="2.6"/><rect x="47" y="622.4" width="126" height="13.1" fill="url(#pg)" stroke="#000" stroke-width="1.2"/><text x="49" y="644" font-size="8.3" text-anchor="middle" fill="#000">0</text><text x="109.3" y="644" font-size="8.3" text-anchor="middle" fill="#000">0.1</text><text x="170.5" y="644" font-size="8.3" text-anchor="middle" fill="#000">0.2</text><text x="110" y="655.2" font-size="8.3" text-anchor="middle" fill="#000">PDC</text><rect x="187.7" y="621.6" width="125.8" height="13" fill="url(#pg)" stroke="#000" stroke-width="1.2"/><text x="189.8" y="644.4" font-size="8.3" text-anchor="middle" fill="#000">0</text><text x="250.3" y="644.4" font-size="8.3" text-anchor="middle" fill="#000">50</text><text x="310" y="644.4" font-size="8.3" text-anchor="middle" fill="#000">100</text><text x="250.2" y="655" font-size="8.3" text-anchor="middle" fill="#000" textLength="125" lengthAdjust="spacingAndGlyphs">Count of Significant Connections</text><rect x="322.3" y="621.6" width="125.7" height="13" fill="url(#pg)" stroke="#000" stroke-width="1.2"/><text x="324" y="644.4" font-size="8.3" text-anchor="middle" fill="#000">0</text><text x="384.8" y="644.4" font-size="8.3" text-anchor="middle" fill="#000">0.1</text><text x="446" y="644.4" font-size="8.3" text-anchor="middle" fill="#000">0.2</text><text x="385.5" y="655" font-size="8.3" text-anchor="middle" fill="#000">PDC</text><text x="485.6" y="409.6" font-size="28" font-weight="bold" fill="#000">D</text><text x="633" y="399.8" font-size="18.2" font-weight="bold" fill="#000" textLength="41.5" lengthAdjust="spacingAndGlyphs">Flow</text><text x="619" y="415" font-size="13.3" font-style="italic" fill="#000" textLength="69.6" lengthAdjust="spacingAndGlyphs">All Subjects</text><text x="568.8" y="457.8" font-size="13" font-weight="bold" fill="#000" textLength="37.6" lengthAdjust="spacingAndGlyphs">Inflow</text><text x="561" y="471.6" font-size="12" font-style="italic" fill="#000" textLength="52.4" lengthAdjust="spacingAndGlyphs">from EEG</text><text x="691.6" y="456.7" font-size="13" font-weight="bold" fill="#000" textLength="48.9" lengthAdjust="spacingAndGlyphs">Outflow</text><text x="699.1" y="469.5" font-size="12" font-style="italic" fill="#000" textLength="33.5" lengthAdjust="spacingAndGlyphs">to EEG</text><rect x="527.1" y="479.5" width="122.5" height="102.5" fill="none" stroke="#555" stroke-width="1"/><g stroke="#555" stroke-width="1"><line x1="527.1" y1="556.4" x2="529.1" y2="556.4"/><line x1="649.6" y1="556.4" x2="647.6" y2="556.4"/><line x1="527.1" y1="530.8" x2="529.1" y2="530.8"/><line x1="649.6" y1="530.8" x2="647.6" y2="530.8"/><line x1="527.1" y1="505.1" x2="529.1" y2="505.1"/><line x1="649.6" y1="505.1" x2="647.6" y2="505.1"/><line x1="547.5" y1="479.5" x2="547.5" y2="481.5"/><line x1="547.5" y1="582" x2="547.5" y2="580"/><line x1="567.9" y1="479.5" x2="567.9" y2="481.5"/><line x1="567.9" y1="582" x2="567.9" y2="580"/><line x1="588.4" y1="479.5" x2="588.4" y2="481.5"/><line x1="588.4" y1="582" x2="588.4" y2="580"/><line x1="608.8" y1="479.5" x2="608.8" y2="481.5"/><line x1="608.8" y1="582" x2="608.8" y2="580"/><line x1="629.2" y1="479.5" x2="629.2" y2="481.5"/><line x1="629.2" y1="582" x2="629.2" y2="580"/></g><circle cx="547.5" cy="535.3" r="2.3" fill="none" stroke="#8e34a6" stroke-width="1.3"/><circle cx="547.5" cy="569.0" r="2.3" fill="none" stroke="#edb120" stroke-width="1.3"/><circle cx="547.5" cy="571.0" r="2.3" fill="none" stroke="#edb120" stroke-width="1.3"/><circle cx="567.9" cy="551.7" r="2.3" fill="none" stroke="#8e34a6" stroke-width="1.3"/><circle cx="567.9" cy="555.3" r="2.3" fill="none" stroke="#8e34a6" stroke-width="1.3"/><circle cx="567.9" cy="557.3" r="2.3" fill="none" stroke="#8e34a6" stroke-width="1.3"/><circle cx="567.9" cy="563.4" r="2.3" fill="none" stroke="#77ac30" stroke-width="1.3"/><circle cx="567.9" cy="564.8" r="2.3" fill="none" stroke="#77ac30" stroke-width="1.3"/><circle cx="567.9" cy="566.4" r="2.3" fill="none" stroke="#edb120" stroke-width="1.3"/><circle cx="567.9" cy="568.4" r="2.3" fill="none" stroke="#edb120" stroke-width="1.3"/><circle cx="588.4" cy="534.3" r="2.3" fill="none" stroke="#77ac30" stroke-width="1.3"/><circle cx="588.4" cy="539.3" r="2.3" fill="none" stroke="#77ac30" stroke-width="1.3"/><circle cx="588.4" cy="543.9" r="2.3" fill="none" stroke="#8e34a6" stroke-width="1.3"/><circle cx="588.4" cy="545.3" r="2.3" fill="none" stroke="#8e34a6" stroke-width="1.3"/><circle cx="588.4" cy="547.3" r="2.3" fill="none" stroke="#d95319" stroke-width="1.3"/><circle cx="588.4" cy="549.3" r="2.3" fill="none" stroke="#edb120" stroke-width="1.3"/><circle cx="588.4" cy="551.9" r="2.3" fill="none" stroke="#edb120" stroke-width="1.3"/><circle cx="588.4" cy="554.7" r="2.3" fill="none" stroke="#edb120" stroke-width="1.3"/><circle cx="588.4" cy="577.4" r="2.3" fill="none" stroke="#77ac30" stroke-width="1.3"/><circle cx="588.4" cy="578.4" r="2.3" fill="none" stroke="#edb120" stroke-width="1.3"/><circle cx="608.8" cy="562.0" r="2.3" fill="none" stroke="#77ac30" stroke-width="1.3"/><circle cx="608.8" cy="563.4" r="2.3" fill="none" stroke="#8e34a6" stroke-width="1.3"/><circle cx="608.8" cy="565.4" r="2.3" fill="none" stroke="#77ac30" stroke-width="1.3"/><circle cx="608.8" cy="570.4" r="2.3" fill="none" stroke="#edb120" stroke-width="1.3"/><circle cx="608.8" cy="571.4" r="2.3" fill="none" stroke="#edb120" stroke-width="1.3"/><circle cx="629.2" cy="556.3" r="2.3" fill="none" stroke="#8e34a6" stroke-width="1.3"/><circle cx="629.2" cy="559.4" r="2.3" fill="none" stroke="#8e34a6" stroke-width="1.3"/><circle cx="629.2" cy="566.0" r="2.3" fill="none" stroke="#77ac30" stroke-width="1.3"/><circle cx="629.2" cy="570.4" r="2.3" fill="none" stroke="#edb120" stroke-width="1.3"/><circle cx="629.2" cy="572.0" r="2.3" fill="none" stroke="#edb120" stroke-width="1.3"/><text x="547.5" y="593.5" font-size="11.5" text-anchor="middle" fill="#262626">EMG</text><text x="567.9" y="606.5" font-size="11.5" text-anchor="middle" fill="#262626">Acc</text><text x="588.4" y="593.5" font-size="11.5" text-anchor="middle" fill="#262626">Cap</text><text x="608.8" y="606.5" font-size="11.5" text-anchor="middle" fill="#262626">Gyro</text><text x="629.2" y="593.5" font-size="11.5" text-anchor="middle" fill="#262626">Mag</text><text x="521.6" y="586.1" font-size="11.5" text-anchor="end" fill="#262626">0</text><text x="525.3" y="560.5" font-size="11.5" text-anchor="end" fill="#262626">0.1</text><text x="525.3" y="534.9" font-size="11.5" text-anchor="end" fill="#262626">0.2</text><text x="525.3" y="509.2" font-size="11.5" text-anchor="end" fill="#262626">0.3</text><text x="525.3" y="483.6" font-size="11.5" text-anchor="end" fill="#262626">0.4</text><rect x="656.4" y="480" width="123.10000000000002" height="102.20000000000005" fill="none" stroke="#555" stroke-width="1"/><g stroke="#555" stroke-width="1"><line x1="656.4" y1="556.7" x2="658.4" y2="556.7"/><line x1="779.5" y1="556.7" x2="777.5" y2="556.7"/><line x1="656.4" y1="531.1" x2="658.4" y2="531.1"/><line x1="779.5" y1="531.1" x2="777.5" y2="531.1"/><line x1="656.4" y1="505.6" x2="658.4" y2="505.6"/><line x1="779.5" y1="505.6" x2="777.5" y2="505.6"/><line x1="676.9" y1="480" x2="676.9" y2="482"/><line x1="676.9" y1="582.2" x2="676.9" y2="580.2"/><line x1="697.4" y1="480" x2="697.4" y2="482"/><line x1="697.4" y1="582.2" x2="697.4" y2="580.2"/><line x1="718.0" y1="480" x2="718.0" y2="482"/><line x1="718.0" y1="582.2" x2="718.0" y2="580.2"/><line x1="738.5" y1="480" x2="738.5" y2="482"/><line x1="738.5" y1="582.2" x2="738.5" y2="580.2"/><line x1="759.0" y1="480" x2="759.0" y2="482"/><line x1="759.0" y1="582.2" x2="759.0" y2="580.2"/></g><circle cx="676.9" cy="510.5" r="2.3" fill="none" stroke="#77ac30" stroke-width="1.3"/><circle cx="676.9" cy="524.3" r="2.3" fill="none" stroke="#77ac30" stroke-width="1.3"/><circle cx="676.9" cy="526.1" r="2.3" fill="none" stroke="#8e34a6" stroke-width="1.3"/><circle cx="676.9" cy="548.4" r="2.3" fill="none" stroke="#edb120" stroke-width="1.3"/><circle cx="676.9" cy="551.3" r="2.3" fill="none" stroke="#edb120" stroke-width="1.3"/><circle cx="697.4" cy="534.6" r="2.3" fill="none" stroke="#8e34a6" stroke-width="1.3"/><circle cx="697.4" cy="537.9" r="2.3" fill="none" stroke="#edb120" stroke-width="1.3"/><circle cx="697.4" cy="540.5" r="2.3" fill="none" stroke="#edb120" stroke-width="1.3"/><circle cx="697.4" cy="542.4" r="2.3" fill="none" stroke="#edb120" stroke-width="1.3"/><circle cx="697.4" cy="544.4" r="2.3" fill="none" stroke="#77ac30" stroke-width="1.3"/><circle cx="697.4" cy="551.3" r="2.3" fill="none" stroke="#77ac30" stroke-width="1.3"/><circle cx="697.4" cy="552.7" r="2.3" fill="none" stroke="#77ac30" stroke-width="1.3"/><circle cx="718.0" cy="508.6" r="2.3" fill="none" stroke="#edb120" stroke-width="1.3"/><circle cx="718.0" cy="514.5" r="2.3" fill="none" stroke="#edb120" stroke-width="1.3"/><circle cx="718.0" cy="518.8" r="2.3" fill="none" stroke="#edb120" stroke-width="1.3"/><circle cx="718.0" cy="521.8" r="2.3" fill="none" stroke="#77ac30" stroke-width="1.3"/><circle cx="718.0" cy="524.7" r="2.3" fill="none" stroke="#edb120" stroke-width="1.3"/><circle cx="718.0" cy="527.7" r="2.3" fill="none" stroke="#77ac30" stroke-width="1.3"/><circle cx="718.0" cy="529.6" r="2.3" fill="none" stroke="#8e34a6" stroke-width="1.3"/><circle cx="718.0" cy="532.6" r="2.3" fill="none" stroke="#8e34a6" stroke-width="1.3"/><circle cx="718.0" cy="540.0" r="2.3" fill="none" stroke="#77ac30" stroke-width="1.3"/><circle cx="718.0" cy="546.4" r="2.3" fill="none" stroke="#8e34a6" stroke-width="1.3"/><circle cx="738.5" cy="544.4" r="2.3" fill="none" stroke="#77ac30" stroke-width="1.3"/><circle cx="738.5" cy="546.5" r="2.3" fill="none" stroke="#edb120" stroke-width="1.3"/><circle cx="738.5" cy="548.5" r="2.3" fill="none" stroke="#edb120" stroke-width="1.3"/><circle cx="738.5" cy="550.5" r="2.3" fill="none" stroke="#edb120" stroke-width="1.3"/><circle cx="738.5" cy="552.3" r="2.3" fill="none" stroke="#77ac30" stroke-width="1.3"/><circle cx="759.0" cy="539.5" r="2.3" fill="none" stroke="#8e34a6" stroke-width="1.3"/><circle cx="759.0" cy="542.0" r="2.3" fill="none" stroke="#8e34a6" stroke-width="1.3"/><circle cx="759.0" cy="545.4" r="2.3" fill="none" stroke="#edb120" stroke-width="1.3"/><circle cx="759.0" cy="548.4" r="2.3" fill="none" stroke="#edb120" stroke-width="1.3"/><circle cx="759.0" cy="551.9" r="2.3" fill="none" stroke="#77ac30" stroke-width="1.3"/><text x="676.9" y="593.5" font-size="11.5" text-anchor="middle" fill="#262626">EMG</text><text x="697.4" y="606.5" font-size="11.5" text-anchor="middle" fill="#262626">Acc</text><text x="718.0" y="593.5" font-size="11.5" text-anchor="middle" fill="#262626">Cap</text><text x="738.5" y="606.5" font-size="11.5" text-anchor="middle" fill="#262626">Gyro</text><text x="759.0" y="593.5" font-size="11.5" text-anchor="middle" fill="#262626">Mag</text><text transform="translate(498.8,542.8) rotate(-90)" font-size="11" fill="#262626" textLength="20.6" lengthAdjust="spacingAndGlyphs">PDC</text><circle cx="523.4" cy="631.9" r="2.3" fill="none" stroke="#0072bd" stroke-width="1.4"/><text x="532.8" y="636.1" font-size="13" font-weight="bold" fill="#000" textLength="15.9" lengthAdjust="spacingAndGlyphs">P1</text><circle cx="571.5" cy="631.9" r="2.3" fill="none" stroke="#d95319" stroke-width="1.4"/><text x="581.3" y="636.1" font-size="13" font-weight="bold" fill="#000" textLength="16.5" lengthAdjust="spacingAndGlyphs">P3</text><circle cx="618.2" cy="631.9" r="2.3" fill="none" stroke="#edb120" stroke-width="1.4"/><text x="627.7" y="636.1" font-size="13" font-weight="bold" fill="#000" textLength="16.5" lengthAdjust="spacingAndGlyphs">P6</text><circle cx="664.6" cy="631.9" r="2.3" fill="none" stroke="#8e34a6" stroke-width="1.4"/><text x="673.4" y="636.1" font-size="13" font-weight="bold" fill="#000" textLength="35.8" lengthAdjust="spacingAndGlyphs">RZ16</text><circle cx="725" cy="631.9" r="2.3" fill="none" stroke="#77ac30" stroke-width="1.4"/><text x="733.5" y="636.1" font-size="13" font-weight="bold" fill="#000" textLength="35.5" lengthAdjust="spacingAndGlyphs">RZ17</text><text x="-0.2" y="714" font-size="28" font-weight="bold" fill="#000">E</text><rect x="147.3" y="695.7" width="32.2" height="85.8" fill="#d4d4d4"/><rect x="182.9" y="695.7" width="31.3" height="85.8" fill="#d4d4d4"/><line x1="74.3" y1="696.6" x2="74.3" y2="782.4" stroke="#333" stroke-width="1"/><text x="72.5" y="713.9" font-size="9.5" text-anchor="end" fill="#333">1</text><line x1="74.3" y1="710.6" x2="76.3" y2="710.6" stroke="#333" stroke-width="0.8"/><text x="72.5" y="728.2" font-size="9.5" text-anchor="end" fill="#333">0.5</text><line x1="74.3" y1="724.9" x2="76.3" y2="724.9" stroke="#333" stroke-width="0.8"/><text x="72.5" y="742.5" font-size="9.5" text-anchor="end" fill="#333">0</text><text x="72.5" y="756.8" font-size="9.5" text-anchor="end" fill="#333">-0.5</text><line x1="74.3" y1="753.5" x2="76.3" y2="753.5" stroke="#333" stroke-width="0.8"/><text x="72.5" y="771.1" font-size="9.5" text-anchor="end" fill="#333">-1</text><line x1="74.3" y1="767.8" x2="76.3" y2="767.8" stroke="#333" stroke-width="0.8"/><line x1="74.3" y1="739.2" x2="289" y2="739.2" stroke="#808080" stroke-width="2.2"/><path d="M75.1,710.7 C75.6,711.2 76.8,710.3 78.1,713.7 C79.3,717.2 81.1,724.3 82.6,731.8 C84.1,739.3 85.8,757.9 87.1,758.9 C88.4,759.9 89.1,741.1 90.1,737.8 C91.1,734.5 91.9,737.3 93.1,739.3 C94.4,741.3 96.1,745.1 97.6,749.9 C99.1,754.6 100.9,764.9 102.2,767.9 C103.4,767.1 103.9,767.1 105.2,767.9 C106.4,760.9 108.4,730.3 109.7,725.8 C110.9,721.3 111.2,733.8 112.7,740.8 C114.2,747.8 117.0,766.4 118.7,767.9 C120.5,767.1 122.0,756.6 123.2,749.9 C124.5,743.1 125.0,730.3 126.2,727.3 C127.5,724.3 129.5,729.0 130.8,731.8 C132.0,734.5 132.3,746.8 133.8,743.8 C135.3,740.8 138.3,719.2 139.8,713.7 C141.3,710.3 140.8,711.2 142.8,710.7 C144.8,710.3 149.6,710.3 151.8,710.7 C154.1,712.7 154.6,717.7 156.4,722.8 C158.1,727.8 160.9,737.2 162.4,740.8 C163.9,744.4 164.4,743.8 165.4,744.4 C166.4,745.0 166.9,740.8 168.4,744.4 C169.9,748.1 172.7,765.0 174.4,766.4 C176.2,767.1 177.7,757.1 178.9,752.9 C180.2,748.6 180.7,743.6 182.0,740.8 C183.2,738.1 185.0,738.3 186.5,736.3 C188.0,734.3 189.7,729.5 191.0,728.8 C192.2,728.0 192.7,733.8 194.0,731.8 C195.3,729.8 197.0,720.2 198.5,716.7 C200.0,713.2 201.5,710.3 203.0,710.7 C204.5,711.2 206.3,714.7 207.5,719.7 C208.8,724.8 209.6,734.5 210.6,740.8 C211.6,747.1 212.6,757.4 213.6,757.4 C214.6,757.4 215.6,744.6 216.6,740.8 C217.6,737.1 218.3,734.3 219.6,734.8 C220.8,735.3 222.6,742.8 224.1,743.8 C225.6,744.8 227.1,742.2 228.6,740.8 C230.1,739.4 231.9,736.2 233.1,735.4 C234.4,734.6 234.9,738.9 236.2,736.3 C237.4,733.7 239.2,719.0 240.7,719.7 C242.2,720.5 243.4,735.8 245.2,740.8 C246.9,745.8 249.7,749.9 251.2,749.9 C252.7,749.9 253.1,745.1 254.2,740.8 C255.3,736.6 256.6,723.8 257.8,724.3 C259.1,724.8 260.1,740.8 261.7,743.8 C263.4,746.8 266.3,742.1 267.8,742.3 C269.3,742.6 269.8,744.1 270.8,745.3 C271.8,746.6 272.8,750.6 273.8,749.9 C274.8,749.1 275.3,747.3 276.8,740.8 C278.3,734.3 281.1,715.7 282.8,710.7 C284.6,710.3 286.6,710.7 287.3,710.7" fill="none" stroke="#16213c" stroke-width="1.6" stroke-linejoin="round"/><line x1="202.7" y1="680.5" x2="202.7" y2="682.6" stroke="#1a1a1a" stroke-width="1.7"/><line x1="202.7" y1="686" x2="202.7" y2="709" stroke="#1a1a1a" stroke-width="1.7" stroke-dasharray="4.2 2.8"/><g fill="none" stroke="#5e5e5e" stroke-width="2.3"><path d="M149,693.8 V689.2 H177 V693.8"/><path d="M148.6,783.8 V788 H176.8 V783.8"/><path d="M183.8,783.8 V788 H212.8 V783.8"/></g><text x="163.2" y="685" font-size="10.5" text-anchor="middle" fill="#666" textLength="22.8" lengthAdjust="spacingAndGlyphs">1min</text><text x="88" y="716" font-size="38" font-style="italic" fill="#000" style="font-family:'Liberation Serif', serif">&#952;</text><text x="396" y="740.2" font-size="19" font-style="italic" fill="#000" textLength="100.5" lengthAdjust="spacingAndGlyphs">Assymetry=</text><line x1="499.3" y1="732.4" x2="689.7" y2="732.4" stroke="#111" stroke-width="1.5"/><text x="515" y="721.5" font-size="18" font-style="italic" fill="#000" textLength="35.3" lengthAdjust="spacingAndGlyphs">PDC</text><text x="552" y="724.6" font-size="10.5" font-style="italic" fill="#222" textLength="21" lengthAdjust="spacingAndGlyphs">EEG</text><line x1="574.4" y1="722.0" x2="581.5" y2="722.0" stroke="#222" stroke-width="0.8"/><polygon points="583.5,722.0 580.5,720.4 580.5,723.6" fill="#222"/><text x="584.3" y="724.6" font-size="10.5" font-style="italic" fill="#222" textLength="17" lengthAdjust="spacingAndGlyphs">Leg</text><text x="602.7" y="721.5" font-size="18" font-style="italic" fill="#000" textLength="34.6" lengthAdjust="spacingAndGlyphs">PDC</text><text x="638.5" y="724.6" font-size="10.5" font-style="italic" fill="#222" textLength="17" lengthAdjust="spacingAndGlyphs">Leg</text><line x1="656.5" y1="722.0" x2="663.8" y2="722.0" stroke="#222" stroke-width="0.8"/><polygon points="665.8,722.0 662.8,720.4 662.8,723.6" fill="#222"/><text x="667" y="724.6" font-size="10.5" font-style="italic" fill="#222" textLength="21" lengthAdjust="spacingAndGlyphs">EEG</text><text x="515" y="754.4" font-size="18" font-style="italic" fill="#000" textLength="35.3" lengthAdjust="spacingAndGlyphs">PDC</text><text x="552" y="758.2" font-size="10.5" font-style="italic" fill="#222" textLength="21" lengthAdjust="spacingAndGlyphs">EEG</text><line x1="574.4" y1="755.6" x2="581.5" y2="755.6" stroke="#222" stroke-width="0.8"/><polygon points="583.5,755.6 580.5,754.0 580.5,757.2" fill="#222"/><text x="584.3" y="758.2" font-size="10.5" font-style="italic" fill="#222" textLength="17" lengthAdjust="spacingAndGlyphs">Leg</text><text x="602.7" y="754.4" font-size="18" font-style="italic" fill="#000" textLength="34.6" lengthAdjust="spacingAndGlyphs">PDC</text><text x="638.5" y="758.2" font-size="10.5" font-style="italic" fill="#222" textLength="17" lengthAdjust="spacingAndGlyphs">Leg</text><line x1="656.5" y1="755.6" x2="663.8" y2="755.6" stroke="#222" stroke-width="0.8"/><polygon points="665.8,755.6 662.8,754.0 662.8,757.2" fill="#222"/><text x="667" y="758.2" font-size="10.5" font-style="italic" fill="#222" textLength="21" lengthAdjust="spacingAndGlyphs">EEG</text><line x1="589.6" y1="714.8" x2="593.7" y2="714.8" stroke="#222" stroke-width="1.2"/><path d="M589,744.8 H596.8 M592.9,740.9 V748.7" stroke="#222" stroke-width="1.2"/><text x="2.5" y="831.9" font-size="28" font-weight="bold" fill="#000">F</text><text x="105.2" y="817" font-size="18.5" font-weight="bold" fill="#000" textLength="146.4" lengthAdjust="spacingAndGlyphs">Mean Assymetry</text><text x="143.6" y="833" font-size="13.3" font-style="italic" fill="#000" textLength="69.6" lengthAdjust="spacingAndGlyphs">All Subjects</text><text x="106" y="836.5" font-size="13.5" font-weight="bold" fill="#000" textLength="17" lengthAdjust="spacingAndGlyphs">CA</text><text x="123.3" y="840.6" font-size="9" font-weight="bold" fill="#000" textLength="13.7" lengthAdjust="spacingAndGlyphs">pre</text><text x="225" y="836.5" font-size="13.5" font-weight="bold" fill="#000" textLength="17.5" lengthAdjust="spacingAndGlyphs">CA</text><text x="242.6" y="840.6" font-size="9" font-weight="bold" fill="#000" textLength="18.4" lengthAdjust="spacingAndGlyphs">post</text><g transform="translate(60.65,849.70) scale(27.7000,18.5167)"><path fill="#2f7ff5" d="M0 0h1.01v1.02h-1.01z"/><path fill="#2a8ae8" d="M1 0h1.01v1.02h-1.01z"/><path fill="#3a6ef5" d="M2 0h1.01v1.02h-1.01z"/><path fill="#2296e0" d="M3 0h1.01v1.02h-1.01z"/><path fill="#3c64f0" d="M0 1h1.01v1.02h-1.01z"/><path fill="#3478f5" d="M1 1h1.01v1.02h-1.01zM2 5h1.01v1.02h-1.01zM3 5h1.01v1.02h-1.01z"/><path fill="#3672f5" d="M2 1h1.01v1.02h-1.01z"/><path fill="#3a35c8" d="M3 1h1.01v1.02h-1.01zM2 3h1.01v1.02h-1.01z"/><path fill="#3c40d8" d="M0 2h1.01v1.02h-1.01z"/><path fill="#2a8ce8" d="M1 2h1.01v1.02h-1.01zM1 3h1.01v1.02h-1.01zM0 5h1.01v1.02h-1.01z"/><path fill="#3c58ec" d="M2 2h1.01v1.02h-1.01zM1 5h1.01v1.02h-1.01z"/><path fill="#2f80f5" d="M3 2h1.01v1.02h-1.01zM3 3h1.01v1.02h-1.01z"/><path fill="#3670f5" d="M0 3h1.01v1.02h-1.01z"/><path fill="#3470f5" d="M0 4h1.01v1.02h-1.01zM2 4h1.01v1.02h-1.01z"/><path fill="#3474f5" d="M1 4h1.01v1.02h-1.01z"/><path fill="#3a64f0" d="M3 4h1.01v1.02h-1.01z"/></g><rect x="60.65" y="849.7" width="110.80" height="111.10" fill="none" stroke="#000" stroke-width="1.3"/><g transform="translate(176.85,849.50) scale(27.8000,18.5167)"><path fill="#2a90e6" d="M0 0h1.01v1.02h-1.01z"/><path fill="#20b8b0" d="M1 0h1.01v1.02h-1.01z"/><path fill="#2896e0" d="M2 0h1.01v1.02h-1.01zM2 3h1.01v1.02h-1.01z"/><path fill="#3c50e5" d="M3 0h1.01v1.02h-1.01z"/><path fill="#2596e0" d="M0 1h1.01v1.02h-1.01z"/><path fill="#1ea8d8" d="M1 1h1.01v1.02h-1.01z"/><path fill="#1ea0dc" d="M2 1h1.01v1.02h-1.01z"/><path fill="#3670f5" d="M3 1h1.01v1.02h-1.01z"/><path fill="#2a8ae8" d="M0 2h1.01v1.02h-1.01z"/><path fill="#2f80f5" d="M1 2h1.01v1.02h-1.01z"/><path fill="#18b0c8" d="M2 2h1.01v1.02h-1.01z"/><path fill="#3a60ee" d="M3 2h1.01v1.02h-1.01z"/><path fill="#18b8b8" d="M0 3h1.01v1.02h-1.01z"/><path fill="#22a0dc" d="M1 3h1.01v1.02h-1.01z"/><path fill="#3a35c8" d="M3 3h1.01v1.02h-1.01zM3 4h1.01v1.02h-1.01z"/><path fill="#2a88e8" d="M0 4h1.01v1.02h-1.01z"/><path fill="#1aacd0" d="M1 4h1.01v1.02h-1.01z"/><path fill="#18c0b0" d="M2 4h1.01v1.02h-1.01z"/><path fill="#3cc890" d="M0 5h1.01v1.02h-1.01z"/><path fill="#1aa8d8" d="M1 5h1.01v1.02h-1.01zM2 5h1.01v1.02h-1.01z"/><path fill="#3c4ee0" d="M3 5h1.01v1.02h-1.01z"/></g><rect x="176.85" y="849.5" width="111.20" height="111.10" fill="none" stroke="#000" stroke-width="1.3"/><rect x="205.5" y="850.3" width="26.3" height="17" fill="none" stroke="#e82020" stroke-width="1.6"/><rect x="177.65" y="942.9" width="26.3" height="17" fill="none" stroke="#e82020" stroke-width="1.6"/><text x="56.5" y="862.6" font-size="11" text-anchor="end" fill="#222">C3</text><text x="291.6" y="862.6" font-size="11" fill="#222">C3</text><text x="56.5" y="881.7" font-size="11" text-anchor="end" fill="#222">C4</text><text x="291.6" y="881.7" font-size="11" fill="#222">C4</text><text x="56.5" y="900.6" font-size="11" text-anchor="end" fill="#222">F3</text><text x="291.6" y="900.6" font-size="11" fill="#222">F3</text><text x="56.5" y="919.6" font-size="11" text-anchor="end" fill="#222">F4</text><text x="291.6" y="919.6" font-size="11" fill="#222">F4</text><text x="56.5" y="938.5" font-size="11" text-anchor="end" fill="#222">O1</text><text x="291.6" y="938.5" font-size="11" fill="#222">O1</text><text x="56.5" y="957.3" font-size="11" text-anchor="end" fill="#222">O2</text><text x="291.6" y="957.3" font-size="11" fill="#222">O2</text><text x="71.8" y="972" font-size="9.4" text-anchor="middle" fill="#222">Cap1</text><text x="188.3" y="972" font-size="9.4" text-anchor="middle" fill="#222">Cap1</text><text x="101.3" y="972" font-size="9.4" text-anchor="middle" fill="#222">Cap2</text><text x="217.8" y="972" font-size="9.4" text-anchor="middle" fill="#222">Cap2</text><text x="130.9" y="972" font-size="9.4" text-anchor="middle" fill="#222">Cap3</text><text x="247.4" y="972" font-size="9.4" text-anchor="middle" fill="#222">Cap3</text><text x="159.9" y="972" font-size="9.4" text-anchor="middle" fill="#222">Cds</text><text x="276.4" y="972" font-size="9.4" text-anchor="middle" fill="#222">Cds</text><text x="142.8" y="991" font-size="11" font-style="italic" fill="#000" textLength="59.8" lengthAdjust="spacingAndGlyphs">Capacitance</text><rect x="61" y="1005.4" width="212.3" height="15.9" fill="url(#pg)" stroke="#000" stroke-width="1.2"/><text x="64" y="1031.6" font-size="9" text-anchor="middle" fill="#000">-1</text><text x="169.4" y="1031.6" font-size="9" text-anchor="middle" fill="#000">0</text><text x="271" y="1031.6" font-size="9" text-anchor="middle" fill="#000">1</text><text x="169.4" y="1043" font-size="9" text-anchor="middle" fill="#000">assymetry</text><text x="367.1" y="832" font-size="28" font-weight="bold" fill="#000">G</text><text x="470.4" y="821.6" font-size="12.2" font-style="italic" fill="#000" textLength="67.6" lengthAdjust="spacingAndGlyphs">Capacitance</text><text x="464.8" y="837" font-size="12.2" font-style="italic" fill="#000" textLength="81.5" lengthAdjust="spacingAndGlyphs">predicting EEG</text><text x="631.2" y="821.6" font-size="12.2" font-style="italic" fill="#000" textLength="81.5" lengthAdjust="spacingAndGlyphs">EEG predicting</text><text x="639.5" y="837" font-size="12.2" font-style="italic" fill="#000" textLength="67.7" lengthAdjust="spacingAndGlyphs">Capacitance</text><text x="493.7" y="862" font-size="14" font-weight="bold" fill="#000" textLength="20.5" lengthAdjust="spacingAndGlyphs">CA</text><text x="514.3" y="866" font-size="9.5" font-weight="bold" fill="#000" textLength="13.7" lengthAdjust="spacingAndGlyphs">pre</text><text x="661.7" y="862" font-size="14" font-weight="bold" fill="#000" textLength="20.5" lengthAdjust="spacingAndGlyphs">CA</text><text x="682.3" y="866" font-size="9.5" font-weight="bold" fill="#000" textLength="16.6" lengthAdjust="spacingAndGlyphs">post</text><defs><filter id="btex" x="0" y="0" width="100%" height="100%" color-interpolation-filters="sRGB"><feTurbulence type="fractalNoise" baseFrequency="0.2" numOctaves="3" seed="7" result="n"/><feColorMatrix in="n" type="matrix" values="0.8 0 0 0 -0.06  0.8 0 0 0 -0.06  0.8 0 0 0 -0.06  0 0 0 0 1"/></filter><radialGradient id="hdg" cx="0.5" cy="0.4" r="0.6"><stop offset="0" stop-color="#d2d2d2"/><stop offset="0.75" stop-color="#bdbdbd"/><stop offset="1" stop-color="#a6a6a6"/></radialGradient><linearGradient id="bfg" x1="0" y1="0" x2="0" y2="1"><stop offset="0" stop-color="#fff" stop-opacity="0.35"/><stop offset="0.3" stop-color="#fff" stop-opacity="0"/><stop offset="0.85" stop-color="#fff" stop-opacity="0"/><stop offset="1" stop-color="#fff" stop-opacity="0.15"/></linearGradient><radialGradient id="elg" cx="0.35" cy="0.3" r="0.75"><stop offset="0" stop-color="#ff6a6a"/><stop offset="0.4" stop-color="#b00000"/><stop offset="1" stop-color="#5a0000"/></radialGradient><clipPath id="bc1"><ellipse cx="504.9" cy="919.7" rx="33" ry="43.2"/></clipPath><clipPath id="bc2"><ellipse cx="676.4" cy="924" rx="33.4" ry="42.4"/></clipPath></defs><path d="M504.2,872.5 C529.0,872.5 544.2,898.9 544.2,930.1 C544.2,954.1 526.2,968.5 504.2,968.5 C482.2,968.5 464.2,954.1 464.2,930.1 C464.2,898.9 479.4,872.5 504.2,872.5 Z" fill="url(#hdg)"/><g clip-path="url(#bc1)"><rect x="471.9" y="876.5" width="66" height="86.4" fill="#505050"/><rect x="471.9" y="876.5" width="66" height="86.4" filter="url(#btex)" opacity="0.85"/><rect x="471.9" y="876.5" width="66" height="86.4" fill="url(#bfg)"/><line x1="504.9" y1="876.5" x2="504.9" y2="962.9000000000001" stroke="#a8a8a8" stroke-width="1.1"/><ellipse cx="504.9" cy="880.5" rx="4" ry="8" fill="#d0d0d0" opacity="0.7"/></g><path d="M676.2,876.0 C701.0,876.0 716.2,902.125 716.2,933.0 C716.2,956.75 698.2,971.0 676.2,971.0 C654.2,971.0 636.2,956.75 636.2,933.0 C636.2,902.125 651.4000000000001,876.0 676.2,876.0 Z" fill="url(#hdg)"/><g clip-path="url(#bc2)"><rect x="643.0" y="881.6" width="66.8" height="84.8" fill="#505050"/><rect x="643.0" y="881.6" width="66.8" height="84.8" filter="url(#btex)" opacity="0.85"/><rect x="643.0" y="881.6" width="66.8" height="84.8" fill="url(#bfg)"/><line x1="676.4" y1="881.6" x2="676.4" y2="966.4" stroke="#a8a8a8" stroke-width="1.1"/><ellipse cx="676.4" cy="885.6" rx="4" ry="8" fill="#d0d0d0" opacity="0.7"/></g><circle cx="480.8" cy="887.8" r="2.9" fill="url(#elg)"/><circle cx="528.2" cy="887.8" r="2.9" fill="url(#elg)"/><circle cx="473.9" cy="917.1" r="2.9" fill="url(#elg)"/><circle cx="534.9" cy="917.1" r="2.9" fill="url(#elg)"/><circle cx="491" cy="965.4" r="2.9" fill="url(#elg)"/><circle cx="517.8" cy="965.4" r="2.9" fill="url(#elg)"/><circle cx="652.9" cy="891.6" r="2.9" fill="url(#elg)"/><circle cx="700" cy="891.6" r="2.9" fill="url(#elg)"/><circle cx="645.8" cy="920.6" r="2.9" fill="url(#elg)"/><circle cx="707" cy="920.6" r="2.9" fill="url(#elg)"/><circle cx="662.7" cy="968.8" r="2.9" fill="url(#elg)"/><circle cx="689.6" cy="968.8" r="2.9" fill="url(#elg)"/><polygon points="541.4,1005.9 547.4,1000.9 560.4,1000.9 569.4,1003.9 570.9,1011.8 569.9,1024.8 562.4,1033.2 548.4,1033.7 541.4,1027.7 540.4,1014.8" fill="#161616"/><path d="M542.4,1009.9 Q555.6,1016.9 569.9,1009.9" fill="none" stroke="#333" stroke-width="1"/><polygon points="559.9,1002.2 568.9,1004.9 568.4,1007.9 559.4,1005.4" fill="#ff2a2a"/><ellipse cx="554.4" cy="1016.8" rx="4.5" ry="1.1" fill="#f4f4f4"/><polygon points="713.2,1009.8 719.2,1005.0 732.2,1005.0 741.2,1007.9 742.7,1015.7 741.7,1028.3 734.2,1036.5 720.2,1037.0 713.2,1031.2 712.2,1018.6" fill="#161616"/><path d="M714.2,1014.0 Q727.5,1021.0 741.7,1014.0" fill="none" stroke="#333" stroke-width="1"/><polygon points="731.7,1006.3 740.7,1008.9 740.2,1011.8 731.2,1009.4" fill="#ff2a2a"/><ellipse cx="726.2" cy="1020.5" rx="4.5" ry="1.1" fill="#f4f4f4"/><g fill="none" stroke="#ee1111" stroke-width="2"><path d="M541,1023 H453.2 V888.1 H463"/><path d="M453.2,917.5 H460"/><path d="M453.2,965.6 H473"/><path d="M555.9,1001.4 V888.1 H541"/><path d="M555.9,917.5 H552"/><path d="M555.9,965.6 H532"/><path d="M645.8,921.2 H625 V1023.7 H699"/><path d="M689.6,968.8 H728.2 V992"/></g><g fill="#ee1111"><polygon points="470.7,888.1 462.5,883.6 462.5,892.6"/><polygon points="468.1,917.5 459.9,913 459.9,922"/><polygon points="481.3,965.6 473.1,961.1 473.1,970.1"/><polygon points="533.1,888.1 541.3,883.6 541.3,892.6"/><polygon points="544.5,917.5 552.7,913 552.7,922"/><polygon points="524,965.6 532.2,961.1 532.2,970.1"/><polygon points="707,1023.7 698.8,1019.2 698.8,1028.2"/><polygon points="728.2,999.7 723.7,991.5 732.7,991.5"/></g></svg>
</body></html>
